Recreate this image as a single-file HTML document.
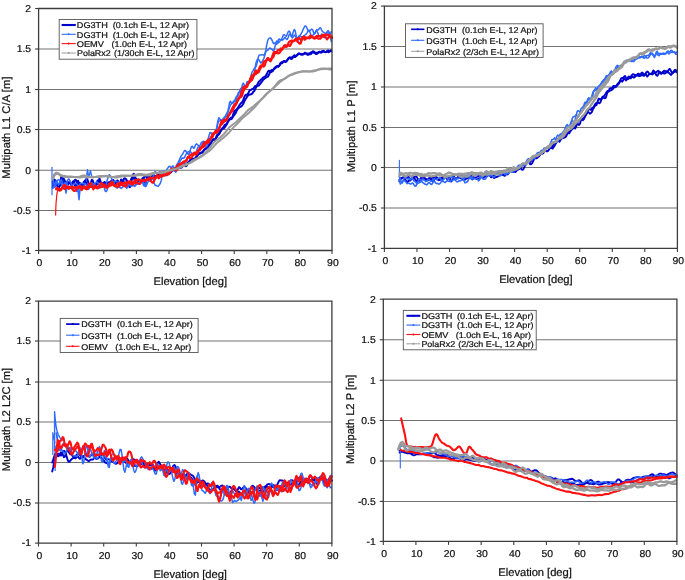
<!DOCTYPE html>
<html><head><meta charset="utf-8"><style>
html,body{margin:0;padding:0;background:#fff;}
svg{display:block;filter:blur(0.35px);font-family:"Liberation Sans", sans-serif;text-rendering:geometricPrecision;}
text{stroke:#111;stroke-width:0.22px;}
</style></head><body>
<svg width="685" height="580" viewBox="0 0 685 580">
<rect width="685" height="580" fill="#fff"/>
<line x1="38.60" y1="49.00" x2="332.00" y2="49.00" stroke="#727272" stroke-width="1.05"/>
<line x1="38.60" y1="89.50" x2="332.00" y2="89.50" stroke="#727272" stroke-width="1.05"/>
<line x1="38.60" y1="129.50" x2="332.00" y2="129.50" stroke="#727272" stroke-width="1.05"/>
<line x1="38.60" y1="170.20" x2="332.00" y2="170.20" stroke="#727272" stroke-width="1.05"/>
<line x1="38.60" y1="210.50" x2="332.00" y2="210.50" stroke="#727272" stroke-width="1.05"/>
<line x1="35.10" y1="8.50" x2="38.60" y2="8.50" stroke="#3c3c3c" stroke-width="1.1"/>
<text transform="translate(31.10,11.80) scale(1.04,1)" text-anchor="end" font-size="10.0" fill="#111">2</text>
<line x1="35.10" y1="49.00" x2="38.60" y2="49.00" stroke="#3c3c3c" stroke-width="1.1"/>
<text transform="translate(31.10,52.30) scale(1.04,1)" text-anchor="end" font-size="10.0" fill="#111">1.5</text>
<line x1="35.10" y1="89.50" x2="38.60" y2="89.50" stroke="#3c3c3c" stroke-width="1.1"/>
<text transform="translate(31.10,92.80) scale(1.04,1)" text-anchor="end" font-size="10.0" fill="#111">1</text>
<line x1="35.10" y1="129.50" x2="38.60" y2="129.50" stroke="#3c3c3c" stroke-width="1.1"/>
<text transform="translate(31.10,132.80) scale(1.04,1)" text-anchor="end" font-size="10.0" fill="#111">0.5</text>
<line x1="35.10" y1="170.20" x2="38.60" y2="170.20" stroke="#3c3c3c" stroke-width="1.1"/>
<text transform="translate(31.10,173.50) scale(1.04,1)" text-anchor="end" font-size="10.0" fill="#111">0</text>
<line x1="35.10" y1="210.50" x2="38.60" y2="210.50" stroke="#3c3c3c" stroke-width="1.1"/>
<text transform="translate(31.10,213.80) scale(1.04,1)" text-anchor="end" font-size="10.0" fill="#111">-0.5</text>
<line x1="35.10" y1="250.50" x2="38.60" y2="250.50" stroke="#3c3c3c" stroke-width="1.1"/>
<text transform="translate(31.10,253.80) scale(1.04,1)" text-anchor="end" font-size="10.0" fill="#111">-1</text>
<line x1="38.60" y1="250.50" x2="38.60" y2="254.00" stroke="#3c3c3c" stroke-width="1.1"/>
<text transform="translate(39.50,266.30) scale(1.04,1)" text-anchor="middle" font-size="10.0" fill="#111">0</text>
<line x1="71.20" y1="250.50" x2="71.20" y2="254.00" stroke="#3c3c3c" stroke-width="1.1"/>
<text transform="translate(72.10,266.30) scale(1.04,1)" text-anchor="middle" font-size="10.0" fill="#111">10</text>
<line x1="103.80" y1="250.50" x2="103.80" y2="254.00" stroke="#3c3c3c" stroke-width="1.1"/>
<text transform="translate(104.70,266.30) scale(1.04,1)" text-anchor="middle" font-size="10.0" fill="#111">20</text>
<line x1="136.40" y1="250.50" x2="136.40" y2="254.00" stroke="#3c3c3c" stroke-width="1.1"/>
<text transform="translate(137.30,266.30) scale(1.04,1)" text-anchor="middle" font-size="10.0" fill="#111">30</text>
<line x1="169.00" y1="250.50" x2="169.00" y2="254.00" stroke="#3c3c3c" stroke-width="1.1"/>
<text transform="translate(169.90,266.30) scale(1.04,1)" text-anchor="middle" font-size="10.0" fill="#111">40</text>
<line x1="201.60" y1="250.50" x2="201.60" y2="254.00" stroke="#3c3c3c" stroke-width="1.1"/>
<text transform="translate(202.50,266.30) scale(1.04,1)" text-anchor="middle" font-size="10.0" fill="#111">50</text>
<line x1="234.20" y1="250.50" x2="234.20" y2="254.00" stroke="#3c3c3c" stroke-width="1.1"/>
<text transform="translate(235.10,266.30) scale(1.04,1)" text-anchor="middle" font-size="10.0" fill="#111">60</text>
<line x1="266.80" y1="250.50" x2="266.80" y2="254.00" stroke="#3c3c3c" stroke-width="1.1"/>
<text transform="translate(267.70,266.30) scale(1.04,1)" text-anchor="middle" font-size="10.0" fill="#111">70</text>
<line x1="299.40" y1="250.50" x2="299.40" y2="254.00" stroke="#3c3c3c" stroke-width="1.1"/>
<text transform="translate(300.30,266.30) scale(1.04,1)" text-anchor="middle" font-size="10.0" fill="#111">80</text>
<line x1="332.00" y1="250.50" x2="332.00" y2="254.00" stroke="#3c3c3c" stroke-width="1.1"/>
<text transform="translate(332.90,266.30) scale(1.04,1)" text-anchor="middle" font-size="10.0" fill="#111">90</text>
<text x="190.30" y="285.00" text-anchor="middle" font-size="11.2" fill="#111" textLength="73.5" lengthAdjust="spacing">Elevation [deg]</text>
<text transform="translate(9.70,127.60) rotate(-90)" x="0" y="0" text-anchor="middle" font-size="11.2" fill="#111" textLength="102.2" lengthAdjust="spacing">Multipath L1 C/A [m]</text>
<path d="M52.6 181.7 L53.6 187.3 L54.6 186.5 L55.6 185.1 L56.5 185.0 L57.5 186.2 L58.5 188.0 L59.5 186.3 L60.4 181.3 L61.4 176.1 L62.4 179.1 L63.4 183.7 L64.4 185.5 L65.3 186.9 L66.3 187.4 L67.3 185.6 L68.3 183.7 L69.2 183.2 L70.2 182.8 L71.2 183.9 L72.2 183.2 L73.2 181.2 L74.1 183.0 L75.1 186.0 L76.1 185.6 L77.1 182.3 L78.0 180.7 L79.0 183.6 L80.0 184.6 L81.0 184.1 L82.0 185.8 L82.9 184.8 L83.9 181.8 L84.9 181.1 L85.9 182.0 L86.8 184.7 L87.8 187.5 L88.8 185.2 L89.8 186.1 L90.8 187.0 L91.7 183.5 L92.7 182.0 L93.7 184.8 L94.7 186.7 L95.6 185.3 L96.6 182.9 L97.6 180.5 L98.6 180.9 L99.6 181.9 L100.5 182.3 L101.5 184.7 L102.5 185.7 L103.5 183.1 L104.5 182.0 L105.4 183.7 L106.4 184.9 L107.4 185.9 L108.4 186.9 L109.3 183.0 L110.3 182.1 L111.3 184.7 L112.3 184.3 L113.3 183.3 L114.2 183.5 L115.2 186.4 L116.2 184.9 L117.2 180.4 L118.1 181.0 L119.1 185.8 L120.1 185.3 L121.1 182.8 L122.1 181.5 L123.0 180.6 L124.0 183.0 L125.0 183.8 L126.0 183.0 L126.9 180.6 L127.9 181.9 L128.9 185.3 L129.9 185.1 L130.9 180.0 L131.8 178.0 L132.8 178.0 L133.8 178.1 L134.8 180.3 L135.7 183.3 L136.7 184.2 L137.7 181.9 L138.7 179.7 L139.7 182.1 L140.6 182.4 L141.6 180.2 L142.6 178.1 L143.6 178.8 L144.5 182.8 L145.5 183.7 L146.5 179.1 L147.5 174.8 L148.5 174.8 L149.4 176.9 L150.4 178.1 L151.4 177.8 L152.4 177.2 L153.4 176.8 L154.3 177.1 L155.3 176.8 L156.3 176.3 L157.3 175.5 L158.2 174.2 L159.2 172.5 L160.2 172.3 L161.2 173.6 L162.2 175.5 L163.1 175.2 L164.1 174.1 L165.1 173.7 L166.1 173.7 L167.0 171.8 L168.0 171.2 L169.0 172.6 L170.0 173.1 L171.0 172.3 L171.9 170.9 L172.9 169.3 L173.9 168.5 L174.9 169.0 L175.8 169.0 L176.8 168.1 L177.8 167.0 L178.8 166.5 L179.8 166.8 L180.7 167.7 L181.7 167.5 L182.7 166.2 L183.7 164.3 L184.6 163.8 L185.6 164.2 L186.6 163.9 L187.6 163.1 L188.6 163.1 L189.5 162.3 L190.5 159.9 L191.5 158.1 L192.5 158.9 L193.4 159.8 L194.4 159.8 L195.4 158.6 L196.4 156.3 L197.4 154.8 L198.3 154.2 L199.3 153.6 L200.3 152.9 L201.3 152.7 L202.3 152.7 L203.2 151.4 L204.2 150.0 L205.2 149.4 L206.2 148.7 L207.1 147.7 L208.1 146.1 L209.1 144.6 L210.1 144.1 L211.1 143.0 L212.0 141.2 L213.0 139.6 L214.0 139.2 L215.0 139.6 L215.9 138.2 L216.9 136.8 L217.9 135.3 L218.9 133.2 L219.9 131.6 L220.8 130.7 L221.8 129.7 L222.8 128.6 L223.8 128.3 L224.7 127.5 L225.7 126.0 L226.7 124.3 L227.7 121.8 L228.7 120.0 L229.6 119.1 L230.6 119.3 L231.6 118.9 L232.6 117.3 L233.5 115.7 L234.5 114.7 L235.5 113.2 L236.5 111.1 L237.5 109.3 L238.4 108.4 L239.4 107.3 L240.4 106.8 L241.4 106.4 L242.3 105.3 L243.3 103.8 L244.3 101.4 L245.3 99.3 L246.3 98.1 L247.2 96.6 L248.2 95.1 L249.2 94.7 L250.2 94.4 L251.2 94.3 L252.1 93.6 L253.1 92.1 L254.1 91.2 L255.1 89.3 L256.0 87.4 L257.0 86.1 L258.0 85.8 L259.0 85.3 L260.0 84.0 L260.9 82.9 L261.9 81.6 L262.9 80.2 L263.9 79.1 L264.8 78.4 L265.8 77.7 L266.8 77.1 L267.8 76.6 L268.8 75.1 L269.7 73.2 L270.7 70.8 L271.7 70.1 L272.7 70.8 L273.6 69.7 L274.6 68.7 L275.6 68.0 L276.6 66.8 L277.6 66.7 L278.5 66.7 L279.5 65.3 L280.5 63.9 L281.5 63.4 L282.4 63.0 L283.4 61.5 L284.4 60.9 L285.4 61.5 L286.4 61.1 L287.3 60.1 L288.3 58.9 L289.3 57.5 L290.3 57.9 L291.2 59.0 L292.2 58.6 L293.2 56.8 L294.2 55.2 L295.2 55.7 L296.1 55.9 L297.1 55.3 L298.1 54.4 L299.1 53.6 L300.1 54.2 L301.0 54.2 L302.0 54.0 L303.0 54.2 L304.0 54.2 L304.9 53.2 L305.9 53.4 L306.9 54.3 L307.9 54.9 L308.9 54.6 L309.8 53.3 L310.8 52.4 L311.8 52.2 L312.8 52.1 L313.7 52.6 L314.7 53.0 L315.7 52.7 L316.7 52.7 L317.7 52.8 L318.6 52.1 L319.6 51.7 L320.6 52.3 L321.6 52.5 L322.5 51.4 L323.5 50.7 L324.5 51.6 L325.5 52.1 L326.5 51.6 L327.4 51.5 L328.4 52.2 L329.4 51.2 L330.4 50.5 L331.3 51.4" fill="none" stroke="#0000cc" stroke-width="2.0" stroke-linejoin="round" stroke-linecap="round" opacity="1"/>
<path d="M52.6 187.7 L53.6 183.7 L54.6 179.6 L55.6 181.4 L56.5 185.1 L57.5 184.6 L58.5 183.7 L59.5 184.4 L60.4 185.5 L61.4 183.2 L62.4 180.0 L63.4 178.3 L64.4 179.8 L65.3 182.5 L66.3 183.2 L67.3 181.4 L68.3 183.1 L69.2 182.3 L70.2 183.1 L71.2 185.1 L72.2 185.2 L73.2 183.7 L74.1 181.5 L75.1 179.8 L76.1 180.2 L77.1 183.8 L78.0 184.1 L79.0 183.0 L80.0 183.1 L81.0 185.8 L82.0 184.7 L82.9 183.7 L83.9 184.0 L84.9 181.3 L85.9 179.6 L86.8 178.9 L87.8 180.6 L88.8 184.7 L89.8 185.7 L90.8 183.1 L91.7 180.1 L92.7 180.3 L93.7 183.5 L94.7 185.4 L95.6 185.7 L96.6 185.0 L97.6 183.5 L98.6 180.6 L99.6 178.5 L100.5 181.4 L101.5 183.1 L102.5 183.3 L103.5 184.9 L104.5 184.6 L105.4 182.8 L106.4 182.7 L107.4 183.8 L108.4 182.2 L109.3 182.7 L110.3 182.5 L111.3 180.8 L112.3 179.9 L113.3 180.1 L114.2 181.7 L115.2 182.8 L116.2 183.4 L117.2 183.4 L118.1 182.2 L119.1 184.1 L120.1 183.4 L121.1 179.4 L122.1 181.0 L123.0 181.9 L124.0 178.6 L125.0 178.3 L126.0 179.0 L126.9 181.2 L127.9 183.5 L128.9 186.4 L129.9 187.1 L130.9 184.2 L131.8 179.6 L132.8 174.9 L133.8 173.7 L134.8 177.2 L135.7 178.1 L136.7 179.2 L137.7 181.1 L138.7 183.4 L139.7 184.0 L140.6 182.8 L141.6 181.6 L142.6 180.0 L143.6 178.3 L144.5 176.1 L145.5 176.5 L146.5 176.6 L147.5 175.6 L148.5 176.6 L149.4 178.5 L150.4 179.1 L151.4 177.7 L152.4 175.1 L153.4 175.8 L154.3 175.8 L155.3 175.9 L156.3 176.2 L157.3 176.3 L158.2 176.1 L159.2 174.8 L160.2 174.4 L161.2 174.2 L162.2 173.9 L163.1 173.9 L164.1 173.4 L165.1 172.6 L166.1 172.9 L167.0 173.4 L168.0 173.3 L169.0 172.9 L170.0 171.6 L171.0 171.3 L171.9 170.5 L172.9 168.6 L173.9 168.3 L174.9 169.3 L175.8 169.1 L176.8 168.0 L177.8 167.5 L178.8 167.9 L179.8 167.3 L180.7 166.1 L181.7 165.5 L182.7 164.8 L183.7 164.8 L184.6 165.6 L185.6 166.2 L186.6 165.8 L187.6 163.5 L188.6 161.6 L189.5 161.1 L190.5 159.8 L191.5 158.9 L192.5 159.1 L193.4 158.9 L194.4 158.5 L195.4 158.2 L196.4 157.3 L197.4 155.8 L198.3 154.3 L199.3 153.6 L200.3 153.4 L201.3 152.5 L202.3 152.1 L203.2 151.1 L204.2 149.7 L205.2 148.8 L206.2 148.0 L207.1 147.1 L208.1 146.7 L209.1 145.8 L210.1 144.1 L211.1 142.2 L212.0 140.7 L213.0 139.2 L214.0 139.9 L215.0 140.8 L215.9 138.2 L216.9 135.1 L217.9 134.5 L218.9 134.4 L219.9 133.0 L220.8 130.4 L221.8 128.7 L222.8 127.8 L223.8 126.5 L224.7 124.9 L225.7 124.4 L226.7 124.1 L227.7 122.2 L228.7 120.6 L229.6 119.2 L230.6 117.7 L231.6 117.5 L232.6 116.8 L233.5 113.3 L234.5 111.0 L235.5 110.5 L236.5 109.6 L237.5 108.3 L238.4 107.1 L239.4 105.2 L240.4 103.7 L241.4 102.9 L242.3 101.9 L243.3 99.9 L244.3 97.0 L245.3 95.1 L246.3 94.7 L247.2 94.5 L248.2 93.5 L249.2 91.2 L250.2 89.9 L251.2 89.8 L252.1 89.1 L253.1 89.0 L254.1 87.5 L255.1 86.1 L256.0 86.2 L257.0 85.4 L258.0 83.1 L259.0 81.5 L260.0 80.7 L260.9 79.8 L261.9 79.0 L262.9 77.7 L263.9 77.2 L264.8 76.7 L265.8 75.6 L266.8 74.1 L267.8 71.9 L268.8 70.7 L269.7 71.2 L270.7 71.9 L271.7 71.9 L272.7 70.8 L273.6 69.1 L274.6 68.0 L275.6 67.1 L276.6 66.2 L277.6 65.9 L278.5 66.3 L279.5 65.3 L280.5 63.0 L281.5 62.2 L282.4 62.0 L283.4 61.4 L284.4 61.6 L285.4 62.0 L286.4 61.6 L287.3 59.9 L288.3 58.6 L289.3 57.8 L290.3 57.5 L291.2 57.7 L292.2 57.2 L293.2 56.6 L294.2 56.9 L295.2 57.0 L296.1 56.1 L297.1 54.9 L298.1 53.8 L299.1 53.5 L300.1 54.0 L301.0 54.3 L302.0 54.8 L303.0 54.4 L304.0 53.5 L304.9 52.7 L305.9 53.2 L306.9 53.9 L307.9 53.6 L308.9 53.5 L309.8 54.0 L310.8 54.2 L311.8 53.1 L312.8 51.3 L313.7 51.5 L314.7 52.5 L315.7 53.8 L316.7 54.1 L317.7 53.2 L318.6 52.4 L319.6 52.1 L320.6 52.4 L321.6 51.5 L322.5 51.1 L323.5 51.8 L324.5 52.0 L325.5 52.3 L326.5 51.8 L327.4 50.8 L328.4 50.6 L329.4 51.5 L330.4 51.3 L331.3 50.3" fill="none" stroke="#0000cc" stroke-width="2.0" stroke-linejoin="round" stroke-linecap="round" opacity="1"/>
<path d="M52.6 188.1 L53.6 187.3 L54.6 184.6 L55.6 181.5 L56.5 180.6 L57.5 182.5 L58.5 184.6 L59.5 183.9 L60.4 180.7 L61.4 179.5 L62.4 182.3 L63.4 185.6 L64.4 184.9 L65.3 182.8 L66.3 184.1 L67.3 187.2 L68.3 188.6 L69.2 188.6 L70.2 188.2 L71.2 187.2 L72.2 185.6 L73.2 184.2 L74.1 183.9 L75.1 183.8 L76.1 183.2 L77.1 184.2 L78.0 186.8 L79.0 188.1 L80.0 188.1 L81.0 187.9 L82.0 187.4 L82.9 186.1 L83.9 185.5 L84.9 186.5 L85.9 187.9 L86.8 188.8 L87.8 189.5 L88.8 188.9 L89.8 187.0 L90.8 184.5 L91.7 182.6 L92.7 183.8 L93.7 186.6 L94.7 187.4 L95.6 186.8 L96.6 186.4 L97.6 187.4 L98.6 188.5 L99.6 187.2 L100.5 184.7 L101.5 183.7 L102.5 184.4 L103.5 185.3 L104.5 186.3 L105.4 186.2 L106.4 183.6 L107.4 179.5 L108.4 176.0 L109.3 174.7 L110.3 175.8 L111.3 178.0 L112.3 180.3 L113.3 182.1 L114.2 181.8 L115.2 181.0 L116.2 181.6 L117.2 182.2 L118.1 182.1 L119.1 182.1 L120.1 182.8 L121.1 183.0 L122.1 182.8 L123.0 183.1 L124.0 183.6 L125.0 184.6 L126.0 186.9 L126.9 188.2 L127.9 186.4 L128.9 183.9 L129.9 184.2 L130.9 185.9 L131.8 186.0 L132.8 185.4 L133.8 185.7 L134.8 185.5 L135.7 184.5 L136.7 184.2 L137.7 183.7 L138.7 182.6 L139.7 181.3 L140.6 179.5 L141.6 179.2 L142.6 182.1 L143.6 185.7 L144.5 186.2 L145.5 183.7 L146.5 181.0 L147.5 179.8 L148.5 180.2 L149.4 181.0 L150.4 180.9 L151.4 179.7 L152.4 178.0 L153.4 176.1 L154.3 173.2 L155.3 171.4 L156.3 172.7 L157.3 173.8 L158.2 172.7 L159.2 172.5 L160.2 173.3 L161.2 173.0 L162.2 173.6 L163.1 175.3 L164.1 176.1 L165.1 174.8 L166.1 171.7 L167.0 169.1 L168.0 167.8 L169.0 166.4 L170.0 166.2 L171.0 168.0 L171.9 169.4 L172.9 170.3 L173.9 170.9 L174.9 169.7 L175.8 166.7 L176.8 164.4 L177.8 163.1 L178.8 161.2 L179.8 158.8 L180.7 156.8 L181.7 155.4 L182.7 154.0 L183.7 152.0 L184.6 150.4 L185.6 150.8 L186.6 152.2 L187.6 153.6 L188.6 154.5 L189.5 152.9 L190.5 149.4 L191.5 146.6 L192.5 146.3 L193.4 148.1 L194.4 147.9 L195.4 145.0 L196.4 143.9 L197.4 144.7 L198.3 145.1 L199.3 146.9 L200.3 148.9 L201.3 147.6 L202.3 143.8 L203.2 141.2 L204.2 141.4 L205.2 142.0 L206.2 141.7 L207.1 141.0 L208.1 139.0 L209.1 135.3 L210.1 132.4 L211.1 132.8 L212.0 135.1 L213.0 135.5 L214.0 134.0 L215.0 133.1 L215.9 132.1 L216.9 128.4 L217.9 123.1 L218.9 120.9 L219.9 120.8 L220.8 119.7 L221.8 120.5 L222.8 123.0 L223.8 122.3 L224.7 118.4 L225.7 115.1 L226.7 113.4 L227.7 111.6 L228.7 107.3 L229.6 102.4 L230.6 101.4 L231.6 103.4 L232.6 103.1 L233.5 101.1 L234.5 101.6 L235.5 101.8 L236.5 98.9 L237.5 95.0 L238.4 92.6 L239.4 92.4 L240.4 92.0 L241.4 89.1 L242.3 85.1 L243.3 83.1 L244.3 84.8 L245.3 86.5 L246.3 84.5 L247.2 81.5 L248.2 82.0 L249.2 82.9 L250.2 79.9 L251.2 75.0 L252.1 71.9 L253.1 70.6 L254.1 68.8 L255.1 67.6 L256.0 66.8 L257.0 63.5 L258.0 58.2 L259.0 55.2 L260.0 54.9 L260.9 55.0 L261.9 54.6 L262.9 54.9 L263.9 55.2 L264.8 54.0 L265.8 50.2 L266.8 44.7 L267.8 40.2 L268.8 38.7 L269.7 38.0 L270.7 38.0 L271.7 39.5 L272.7 41.9 L273.6 43.6 L274.6 42.9 L275.6 43.0 L276.6 44.4 L277.6 42.9 L278.5 39.5 L279.5 39.0 L280.5 40.1 L281.5 39.5 L282.4 37.2 L283.4 34.9 L284.4 34.6 L285.4 35.9 L286.4 36.2 L287.3 34.0 L288.3 31.5 L289.3 31.1 L290.3 32.9 L291.2 35.9 L292.2 38.0 L293.2 37.0 L294.2 35.1 L295.2 35.7 L296.1 38.1 L297.1 38.9 L298.1 37.3 L299.1 35.9 L300.1 35.2 L301.0 34.0 L302.0 32.1 L303.0 29.8 L304.0 27.6 L304.9 26.1 L305.9 26.1 L306.9 28.0 L307.9 30.4 L308.9 31.1 L309.8 30.7 L310.8 30.0 L311.8 29.1 L312.8 30.0 L313.7 33.0 L314.7 33.7 L315.7 31.2 L316.7 29.6 L317.7 30.1 L318.6 29.7 L319.6 27.9 L320.6 27.8 L321.6 30.0 L322.5 31.7 L323.5 32.2 L324.5 32.9 L325.5 33.6 L326.5 32.8 L327.4 31.0 L328.4 30.8 L329.4 32.9 L330.4 37.1 L331.3 41.5" fill="none" stroke="#2f6bff" stroke-width="1.5" stroke-linejoin="round" stroke-linecap="round" opacity="1"/>
<path d="M52.6 178.7 L53.6 182.5 L54.6 186.7 L55.6 186.2 L56.5 182.6 L57.5 180.2 L58.5 179.8 L59.5 180.4 L60.4 181.9 L61.4 183.9 L62.4 186.5 L63.4 188.7 L64.4 188.7 L65.3 187.0 L66.3 184.5 L67.3 181.3 L68.3 179.0 L69.2 179.2 L70.2 181.2 L71.2 183.8 L72.2 186.8 L73.2 188.1 L74.1 187.9 L75.1 188.9 L76.1 191.3 L77.1 191.5 L78.0 189.1 L79.0 186.3 L80.0 184.0 L81.0 183.2 L82.0 183.5 L82.9 183.5 L83.9 183.3 L84.9 183.6 L85.9 184.4 L86.8 186.1 L87.8 187.3 L88.8 187.0 L89.8 186.1 L90.8 185.7 L91.7 184.7 L92.7 183.6 L93.7 184.0 L94.7 184.3 L95.6 182.8 L96.6 181.7 L97.6 182.6 L98.6 184.3 L99.6 186.3 L100.5 186.8 L101.5 185.0 L102.5 184.0 L103.5 185.6 L104.5 188.8 L105.4 191.5 L106.4 191.6 L107.4 189.0 L108.4 186.5 L109.3 185.3 L110.3 184.1 L111.3 183.0 L112.3 182.6 L113.3 182.4 L114.2 183.3 L115.2 185.6 L116.2 187.5 L117.2 188.1 L118.1 187.1 L119.1 186.6 L120.1 187.7 L121.1 188.4 L122.1 187.7 L123.0 186.8 L124.0 186.6 L125.0 186.5 L126.0 186.6 L126.9 187.0 L127.9 186.5 L128.9 185.1 L129.9 184.8 L130.9 185.7 L131.8 185.2 L132.8 184.4 L133.8 185.5 L134.8 186.4 L135.7 185.2 L136.7 183.6 L137.7 183.2 L138.7 183.3 L139.7 182.1 L140.6 180.5 L141.6 180.4 L142.6 181.3 L143.6 182.3 L144.5 184.7 L145.5 186.6 L146.5 185.6 L147.5 183.0 L148.5 180.7 L149.4 178.9 L150.4 177.9 L151.4 177.6 L152.4 177.6 L153.4 179.4 L154.3 183.4 L155.3 185.6 L156.3 185.5 L157.3 186.1 L158.2 186.4 L159.2 185.0 L160.2 183.5 L161.2 180.7 L162.2 175.4 L163.1 171.0 L164.1 170.8 L165.1 173.1 L166.1 175.1 L167.0 175.6 L168.0 174.8 L169.0 173.4 L170.0 171.7 L171.0 169.5 L171.9 166.9 L172.9 165.7 L173.9 167.8 L174.9 171.5 L175.8 172.2 L176.8 169.5 L177.8 166.4 L178.8 164.0 L179.8 162.0 L180.7 160.2 L181.7 158.5 L182.7 158.0 L183.7 158.2 L184.6 157.4 L185.6 155.1 L186.6 153.4 L187.6 152.4 L188.6 151.6 L189.5 151.3 L190.5 151.8 L191.5 152.7 L192.5 153.6 L193.4 154.4 L194.4 154.1 L195.4 152.9 L196.4 151.3 L197.4 148.9 L198.3 146.7 L199.3 146.3 L200.3 144.8 L201.3 142.5 L202.3 142.0 L203.2 142.0 L204.2 142.4 L205.2 144.7 L206.2 146.8 L207.1 146.0 L208.1 143.1 L209.1 141.7 L210.1 141.4 L211.1 139.4 L212.0 136.0 L213.0 133.4 L214.0 132.8 L215.0 133.0 L215.9 131.2 L216.9 126.5 L217.9 120.7 L218.9 117.7 L219.9 118.9 L220.8 120.5 L221.8 120.2 L222.8 118.9 L223.8 117.6 L224.7 116.9 L225.7 117.0 L226.7 116.2 L227.7 113.5 L228.7 110.1 L229.6 107.2 L230.6 104.8 L231.6 103.7 L232.6 103.1 L233.5 102.5 L234.5 101.3 L235.5 98.4 L236.5 96.2 L237.5 96.2 L238.4 95.0 L239.4 91.8 L240.4 89.1 L241.4 88.1 L242.3 87.3 L243.3 86.5 L244.3 86.9 L245.3 87.3 L246.3 86.3 L247.2 84.9 L248.2 83.4 L249.2 81.0 L250.2 78.8 L251.2 78.1 L252.1 78.8 L253.1 78.3 L254.1 74.3 L255.1 68.0 L256.0 62.8 L257.0 60.0 L258.0 59.1 L259.0 59.8 L260.0 61.8 L260.9 63.1 L261.9 62.0 L262.9 60.1 L263.9 58.3 L264.8 55.2 L265.8 51.7 L266.8 50.5 L267.8 50.2 L268.8 48.8 L269.7 48.0 L270.7 48.4 L271.7 49.0 L272.7 50.3 L273.6 51.0 L274.6 48.3 L275.6 43.6 L276.6 40.9 L277.6 41.4 L278.5 42.7 L279.5 42.0 L280.5 40.0 L281.5 39.4 L282.4 40.2 L283.4 39.7 L284.4 37.8 L285.4 37.6 L286.4 39.1 L287.3 39.5 L288.3 37.2 L289.3 34.2 L290.3 34.3 L291.2 36.5 L292.2 36.0 L293.2 32.2 L294.2 29.6 L295.2 30.8 L296.1 35.3 L297.1 39.7 L298.1 40.3 L299.1 37.9 L300.1 36.4 L301.0 36.4 L302.0 37.0 L303.0 36.7 L304.0 35.7 L304.9 35.2 L305.9 34.5 L306.9 33.1 L307.9 31.3 L308.9 30.1 L309.8 31.6 L310.8 34.8 L311.8 36.1 L312.8 35.3 L313.7 34.3 L314.7 33.5 L315.7 31.9 L316.7 31.1 L317.7 32.6 L318.6 35.1 L319.6 36.4 L320.6 35.7 L321.6 34.1 L322.5 34.5 L323.5 36.8 L324.5 37.7 L325.5 36.3 L326.5 33.9 L327.4 32.3 L328.4 32.9 L329.4 34.3 L330.4 33.7 L331.3 31.6" fill="none" stroke="#2f6bff" stroke-width="1.5" stroke-linejoin="round" stroke-linecap="round" opacity="1"/>
<path d="M52.0 167.4 L52.0 194.8" fill="none" stroke="#2f6bff" stroke-width="1.2" stroke-linejoin="round" stroke-linecap="round"/>
<path d="M77.7 186.0 L79.0 199.7 L80.3 186.0" fill="none" stroke="#2f6bff" stroke-width="1.6" stroke-linejoin="round" stroke-linecap="round"/>
<path d="M86.2 179.5 L87.5 169.8 L88.8 177.9 L90.4 170.6 L92.1 177.9" fill="none" stroke="#2f6bff" stroke-width="1.4" stroke-linejoin="round" stroke-linecap="round"/>
<path d="M64.4 183.5 L66.0 193.2 L67.6 184.4" fill="none" stroke="#2f6bff" stroke-width="1.4" stroke-linejoin="round" stroke-linecap="round"/>
<path d="M56.2 188.1 L57.2 188.3 L58.2 189.3 L59.1 190.4 L60.1 190.6 L61.1 190.1 L62.1 188.2 L63.0 187.2 L64.0 188.4 L65.0 189.0 L66.0 187.9 L67.0 187.4 L67.9 188.2 L68.9 188.7 L69.9 187.7 L70.9 187.3 L71.9 188.6 L72.8 189.8 L73.8 190.8 L74.8 191.0 L75.8 190.2 L76.7 188.9 L77.7 187.8 L78.7 186.4 L79.7 186.2 L80.7 188.2 L81.6 190.1 L82.6 188.9 L83.6 187.1 L84.6 187.4 L85.5 188.8 L86.5 189.2 L87.5 188.9 L88.5 187.8 L89.5 186.7 L90.4 187.0 L91.4 186.8 L92.4 186.4 L93.4 187.1 L94.3 187.4 L95.3 187.2 L96.3 187.9 L97.3 188.4 L98.3 187.1 L99.2 186.5 L100.2 187.4 L101.2 187.0 L102.2 186.8 L103.1 186.1 L104.1 184.5 L105.1 185.6 L106.1 187.8 L107.1 187.5 L108.0 186.5 L109.0 186.2 L110.0 185.8 L111.0 185.4 L111.9 184.3 L112.9 184.1 L113.9 185.5 L114.9 186.1 L115.9 186.1 L116.8 186.5 L117.8 187.1 L118.8 186.5 L119.8 184.5 L120.8 182.5 L121.7 183.0 L122.7 185.3 L123.7 185.8 L124.7 185.6 L125.6 186.6 L126.6 185.9 L127.6 183.4 L128.6 181.6 L129.6 182.0 L130.5 183.7 L131.5 184.2 L132.5 183.0 L133.5 181.8 L134.4 182.6 L135.4 183.0 L136.4 182.5 L137.4 182.7 L138.4 183.5 L139.3 184.0 L140.3 183.2 L141.3 181.7 L142.3 180.0 L143.2 179.8 L144.2 180.4 L145.2 180.4 L146.2 180.0 L147.2 179.2 L148.1 179.0 L149.1 179.6 L150.1 180.4 L151.1 181.0 L152.0 182.4 L153.0 182.8 L154.0 181.0 L155.0 179.1 L156.0 176.5 L156.9 175.2 L157.9 177.2 L158.9 178.3 L159.9 177.1 L160.8 176.2 L161.8 176.3 L162.8 175.7 L163.8 174.6 L164.8 174.6 L165.7 175.3 L166.7 174.9 L167.7 174.3 L168.7 174.1 L169.7 173.2 L170.6 171.9 L171.6 170.2 L172.6 169.4 L173.6 169.5 L174.5 169.7 L175.5 170.0 L176.5 170.4 L177.5 169.1 L178.5 167.5 L179.4 166.8 L180.4 165.6 L181.4 164.8 L182.4 163.5 L183.3 162.4 L184.3 161.4 L185.3 161.4 L186.3 161.1 L187.3 158.4 L188.2 156.8 L189.2 157.5 L190.2 158.1 L191.2 157.8 L192.1 156.6 L193.1 154.9 L194.1 154.5 L195.1 154.5 L196.1 154.4 L197.0 154.0 L198.0 152.3 L199.0 149.7 L200.0 148.0 L200.9 147.2 L201.9 147.3 L202.9 147.4 L203.9 146.7 L204.9 145.3 L205.8 143.9 L206.8 143.1 L207.8 142.8 L208.8 142.3 L209.7 139.9 L210.7 137.3 L211.7 137.3 L212.7 136.8 L213.7 134.2 L214.6 132.7 L215.6 133.1 L216.6 132.8 L217.6 131.9 L218.6 130.4 L219.5 127.3 L220.5 125.2 L221.5 124.4 L222.5 123.4 L223.4 122.1 L224.4 121.2 L225.4 120.9 L226.4 120.5 L227.4 118.5 L228.3 115.6 L229.3 114.1 L230.3 113.0 L231.3 111.9 L232.2 111.0 L233.2 109.2 L234.2 107.0 L235.2 105.7 L236.2 104.2 L237.1 101.6 L238.1 98.8 L239.1 97.3 L240.1 97.0 L241.0 97.2 L242.0 95.7 L243.0 92.2 L244.0 89.8 L245.0 88.8 L245.9 87.2 L246.9 85.2 L247.9 83.6 L248.9 82.8 L249.8 82.0 L250.8 80.9 L251.8 80.2 L252.8 78.1 L253.8 75.5 L254.7 72.8 L255.7 70.5 L256.7 70.7 L257.7 72.7 L258.6 72.3 L259.6 69.8 L260.6 68.1 L261.6 66.3 L262.6 65.5 L263.5 66.6 L264.5 66.0 L265.5 62.8 L266.5 60.5 L267.5 59.6 L268.4 59.4 L269.4 59.9 L270.4 59.7 L271.4 58.6 L272.3 58.1 L273.3 57.0 L274.3 54.5 L275.3 52.8 L276.3 52.6 L277.2 53.2 L278.2 53.4 L279.2 53.0 L280.2 51.9 L281.1 50.5 L282.1 49.5 L283.1 47.9 L284.1 45.8 L285.1 45.2 L286.0 45.9 L287.0 45.5 L288.0 45.0 L289.0 45.6 L289.9 45.9 L290.9 44.4 L291.9 42.3 L292.9 41.5 L293.9 41.1 L294.8 39.9 L295.8 38.9 L296.8 40.1 L297.8 42.0 L298.7 42.6 L299.7 43.6 L300.7 43.4 L301.7 39.9 L302.7 37.0 L303.6 37.8 L304.6 39.7 L305.6 39.3 L306.6 37.6 L307.5 37.5 L308.5 38.2 L309.5 38.3 L310.5 37.8 L311.5 36.9 L312.4 37.0 L313.4 38.0 L314.4 38.7 L315.4 38.3 L316.4 37.7 L317.3 37.7 L318.3 38.6 L319.3 38.7 L320.3 38.6 L321.2 37.7 L322.2 35.3 L323.2 34.7 L324.2 35.8 L325.2 36.3 L326.1 37.8 L327.1 39.3 L328.1 38.0 L329.1 36.6 L330.0 36.8 L331.0 37.5 L332.0 37.4" fill="none" stroke="#ff1010" stroke-width="2.2" stroke-linejoin="round" stroke-linecap="round" opacity="1"/>
<path d="M56.2 189.3 L57.2 188.9 L58.2 188.4 L59.1 188.7 L60.1 189.4 L61.1 188.9 L62.1 187.7 L63.0 186.2 L64.0 185.1 L65.0 185.2 L66.0 186.3 L67.0 187.1 L67.9 186.6 L68.9 186.6 L69.9 187.6 L70.9 187.6 L71.9 186.8 L72.8 186.7 L73.8 187.7 L74.8 187.8 L75.8 187.0 L76.7 187.5 L77.7 188.2 L78.7 187.3 L79.7 186.7 L80.7 186.7 L81.6 186.6 L82.6 187.0 L83.6 187.1 L84.6 186.4 L85.5 187.9 L86.5 189.1 L87.5 187.0 L88.5 184.8 L89.5 184.2 L90.4 183.1 L91.4 183.7 L92.4 187.1 L93.4 189.3 L94.3 187.7 L95.3 185.5 L96.3 186.3 L97.3 187.9 L98.3 187.5 L99.2 185.8 L100.2 184.2 L101.2 183.1 L102.2 183.6 L103.1 185.4 L104.1 186.4 L105.1 186.7 L106.1 186.8 L107.1 187.3 L108.0 186.1 L109.0 183.8 L110.0 183.4 L111.0 182.7 L111.9 181.7 L112.9 182.9 L113.9 184.9 L114.9 185.8 L115.9 185.4 L116.8 184.3 L117.8 183.4 L118.8 182.9 L119.8 184.1 L120.8 185.1 L121.7 184.7 L122.7 183.6 L123.7 182.8 L124.7 182.7 L125.6 183.4 L126.6 182.7 L127.6 181.7 L128.6 182.2 L129.6 181.8 L130.5 181.1 L131.5 182.3 L132.5 184.6 L133.5 184.2 L134.4 181.1 L135.4 179.8 L136.4 180.3 L137.4 180.3 L138.4 179.3 L139.3 179.5 L140.3 180.8 L141.3 181.2 L142.3 180.6 L143.2 180.4 L144.2 180.9 L145.2 181.3 L146.2 180.4 L147.2 179.6 L148.1 179.4 L149.1 178.3 L150.1 177.4 L151.1 178.0 L152.0 178.5 L153.0 177.9 L154.0 177.5 L155.0 178.3 L156.0 178.1 L156.9 177.1 L157.9 176.4 L158.9 176.2 L159.9 175.2 L160.8 173.4 L161.8 174.2 L162.8 175.9 L163.8 175.5 L164.8 173.8 L165.7 173.2 L166.7 173.4 L167.7 173.2 L168.7 173.4 L169.7 172.4 L170.6 169.8 L171.6 168.5 L172.6 169.1 L173.6 169.1 L174.5 168.5 L175.5 168.5 L176.5 167.5 L177.5 165.8 L178.5 164.5 L179.4 164.1 L180.4 163.8 L181.4 163.3 L182.4 162.8 L183.3 161.8 L184.3 161.7 L185.3 161.4 L186.3 160.1 L187.3 158.4 L188.2 157.1 L189.2 156.3 L190.2 155.0 L191.2 154.3 L192.1 154.6 L193.1 154.1 L194.1 152.6 L195.1 152.6 L196.1 153.5 L197.0 152.4 L198.0 150.8 L199.0 150.4 L200.0 150.1 L200.9 148.9 L201.9 146.6 L202.9 144.7 L203.9 143.3 L204.9 142.3 L205.8 142.3 L206.8 141.3 L207.8 139.9 L208.8 140.0 L209.7 139.7 L210.7 138.8 L211.7 136.2 L212.7 133.6 L213.7 133.4 L214.6 132.6 L215.6 130.8 L216.6 130.5 L217.6 130.2 L218.6 129.1 L219.5 127.5 L220.5 124.1 L221.5 121.3 L222.5 120.5 L223.4 120.2 L224.4 119.6 L225.4 119.7 L226.4 120.1 L227.4 118.0 L228.3 115.9 L229.3 114.8 L230.3 112.4 L231.3 110.2 L232.2 108.5 L233.2 106.6 L234.2 104.7 L235.2 103.9 L236.2 103.4 L237.1 102.0 L238.1 100.1 L239.1 98.5 L240.1 96.5 L241.0 93.5 L242.0 90.5 L243.0 88.2 L244.0 86.6 L245.0 86.5 L245.9 87.3 L246.9 86.9 L247.9 84.9 L248.9 82.4 L249.8 80.1 L250.8 77.5 L251.8 75.8 L252.8 75.2 L253.8 74.3 L254.7 74.2 L255.7 74.3 L256.7 73.3 L257.7 71.8 L258.6 70.1 L259.6 67.2 L260.6 65.5 L261.6 65.7 L262.6 64.5 L263.5 62.1 L264.5 61.1 L265.5 60.8 L266.5 59.6 L267.5 58.1 L268.4 58.2 L269.4 60.0 L270.4 61.3 L271.4 59.8 L272.3 56.2 L273.3 53.4 L274.3 51.8 L275.3 52.1 L276.3 52.6 L277.2 51.2 L278.2 50.0 L279.2 50.2 L280.2 49.3 L281.1 48.3 L282.1 49.1 L283.1 48.4 L284.1 46.2 L285.1 45.9 L286.0 47.0 L287.0 46.5 L288.0 44.0 L289.0 41.9 L289.9 41.3 L290.9 40.9 L291.9 40.5 L292.9 41.0 L293.9 40.8 L294.8 40.0 L295.8 40.5 L296.8 40.3 L297.8 38.7 L298.7 37.9 L299.7 38.7 L300.7 39.8 L301.7 39.8 L302.7 38.1 L303.6 36.7 L304.6 36.8 L305.6 37.6 L306.6 37.9 L307.5 38.1 L308.5 37.7 L309.5 36.4 L310.5 35.5 L311.5 36.0 L312.4 36.8 L313.4 37.5 L314.4 37.7 L315.4 37.2 L316.4 36.3 L317.3 35.8 L318.3 36.2 L319.3 36.2 L320.3 36.4 L321.2 36.5 L322.2 36.7 L323.2 36.7 L324.2 35.9 L325.2 34.8 L326.1 34.4 L327.1 34.7 L328.1 35.3 L329.1 35.1 L330.0 35.1 L331.0 36.8 L332.0 37.9" fill="none" stroke="#ff1010" stroke-width="2.2" stroke-linejoin="round" stroke-linecap="round" opacity="1"/>
<path d="M58.2 188.4 L56.9 194.0 L56.0 203.7 L55.6 215.0" fill="none" stroke="#ff1010" stroke-width="1.2" stroke-linejoin="round" stroke-linecap="round"/>
<path d="M52.6 177.2 L53.6 175.4 L54.6 173.9 L55.6 173.0 L56.5 172.6 L57.5 172.9 L58.5 173.4 L59.5 174.1 L60.4 174.7 L61.4 175.2 L62.4 175.4 L63.4 175.7 L64.4 175.9 L65.3 176.1 L66.3 176.3 L67.3 176.4 L68.3 176.5 L69.2 176.6 L70.2 176.6 L71.2 176.6 L72.2 176.7 L73.2 176.8 L74.1 176.9 L75.1 177.1 L76.1 177.2 L77.1 177.3 L78.0 177.1 L79.0 176.8 L80.0 176.5 L81.0 176.1 L82.0 175.8 L82.9 175.6 L83.9 175.5 L84.9 175.6 L85.9 175.8 L86.8 176.1 L87.8 176.4 L88.8 176.7 L89.8 177.0 L90.8 177.2 L91.7 177.3 L92.7 177.3 L93.7 177.2 L94.7 177.1 L95.6 176.9 L96.6 176.6 L97.6 176.4 L98.6 176.2 L99.6 176.1 L100.5 176.0 L101.5 176.0 L102.5 176.0 L103.5 176.1 L104.5 176.2 L105.4 176.3 L106.4 176.4 L107.4 176.5 L108.4 176.6 L109.3 176.8 L110.3 176.8 L111.3 176.9 L112.3 176.9 L113.3 176.9 L114.2 176.8 L115.2 176.6 L116.2 176.5 L117.2 176.3 L118.1 176.1 L119.1 175.9 L120.1 175.8 L121.1 175.6 L122.1 175.5 L123.0 175.4 L124.0 175.4 L125.0 175.4 L126.0 175.5 L126.9 175.6 L127.9 175.6 L128.9 175.7 L129.9 175.7 L130.9 175.7 L131.8 175.6 L132.8 175.4 L133.8 175.3 L134.8 175.0 L135.7 174.8 L136.7 174.5 L137.7 174.3 L138.7 174.1 L139.7 174.0 L140.6 173.9 L141.6 174.0 L142.6 174.2 L143.6 174.4 L144.5 174.6 L145.5 174.7 L146.5 174.7 L147.5 174.7 L148.5 174.4 L149.4 174.1 L150.4 173.8 L151.4 173.4 L152.4 173.1 L153.4 172.9 L154.3 172.8 L155.3 172.8 L156.3 172.8 L157.3 172.8 L158.2 172.7 L159.2 172.6 L160.2 172.4 L161.2 172.2 L162.2 171.9 L163.1 171.7 L164.1 171.5 L165.1 171.4 L166.1 171.2 L167.0 171.0 L168.0 170.8 L169.0 170.6 L170.0 170.4 L171.0 170.2 L171.9 169.9 L172.9 169.6 L173.9 169.3 L174.9 169.0 L175.8 168.8 L176.8 168.5 L177.8 168.1 L178.8 167.8 L179.8 167.4 L180.7 167.0 L181.7 166.6 L182.7 166.3 L183.7 165.9 L184.6 165.6 L185.6 165.3 L186.6 164.8 L187.6 164.3 L188.6 163.7 L189.5 163.0 L190.5 162.2 L191.5 161.5 L192.5 160.8 L193.4 160.2 L194.4 159.7 L195.4 159.1 L196.4 158.6 L197.4 158.1 L198.3 157.6 L199.3 157.1 L200.3 156.5 L201.3 155.9 L202.3 155.2 L203.2 154.5 L204.2 153.7 L205.2 152.9 L206.2 152.0 L207.1 151.0 L208.1 149.9 L209.1 148.7 L210.1 147.5 L211.1 146.1 L212.0 144.8 L213.0 143.6 L214.0 142.4 L215.0 141.5 L215.9 140.6 L216.9 139.9 L217.9 139.2 L218.9 138.4 L219.9 137.7 L220.8 136.9 L221.8 136.0 L222.8 135.1 L223.8 134.1 L224.7 133.0 L225.7 131.8 L226.7 130.6 L227.7 129.4 L228.7 128.2 L229.6 127.2 L230.6 126.2 L231.6 125.4 L232.6 124.7 L233.5 124.0 L234.5 123.3 L235.5 122.5 L236.5 121.7 L237.5 120.8 L238.4 119.8 L239.4 118.9 L240.4 118.0 L241.4 117.1 L242.3 116.2 L243.3 115.2 L244.3 114.2 L245.3 113.1 L246.3 112.0 L247.2 111.0 L248.2 110.1 L249.2 109.3 L250.2 108.6 L251.2 107.9 L252.1 107.2 L253.1 106.5 L254.1 105.7 L255.1 104.8 L256.0 104.0 L257.0 103.1 L258.0 102.3 L259.0 101.5 L260.0 100.7 L260.9 99.9 L261.9 99.0 L262.9 98.1 L263.9 97.1 L264.8 96.0 L265.8 95.0 L266.8 93.9 L267.8 92.9 L268.8 92.0 L269.7 91.2 L270.7 90.4 L271.7 89.6 L272.7 88.8 L273.6 88.0 L274.6 87.1 L275.6 86.1 L276.6 85.2 L277.6 84.2 L278.5 83.4 L279.5 82.5 L280.5 81.8 L281.5 81.0 L282.4 80.3 L283.4 79.5 L284.4 78.8 L285.4 78.1 L286.4 77.4 L287.3 76.7 L288.3 76.1 L289.3 75.5 L290.3 75.0 L291.2 74.6 L292.2 74.2 L293.2 73.8 L294.2 73.4 L295.2 73.0 L296.1 72.7 L297.1 72.4 L298.1 72.2 L299.1 71.9 L300.1 71.8 L301.0 71.7 L302.0 71.6 L303.0 71.5 L304.0 71.4 L304.9 71.4 L305.9 71.4 L306.9 71.5 L307.9 71.5 L308.9 71.5 L309.8 71.5 L310.8 71.3 L311.8 71.1 L312.8 70.8 L313.7 70.6 L314.7 70.4 L315.7 70.2 L316.7 70.0 L317.7 69.8 L318.6 69.6 L319.6 69.5 L320.6 69.3 L321.6 69.2 L322.5 69.1 L323.5 69.1 L324.5 69.0 L325.5 68.9 L326.5 68.8 L327.4 68.7 L328.4 68.6 L329.4 68.5 L330.4 68.4 L331.3 68.4" fill="none" stroke="#9a9a9a" stroke-width="2.0" stroke-linejoin="round" stroke-linecap="round" opacity="1"/>
<path d="M52.6 179.2 L53.6 177.3 L54.6 175.6 L55.6 174.4 L56.5 173.8 L57.5 173.9 L58.5 174.3 L59.5 175.0 L60.4 175.6 L61.4 176.0 L62.4 176.3 L63.4 176.5 L64.4 176.7 L65.3 176.9 L66.3 177.0 L67.3 177.1 L68.3 177.1 L69.2 177.1 L70.2 177.1 L71.2 177.0 L72.2 177.0 L73.2 176.9 L74.1 176.9 L75.1 176.9 L76.1 177.0 L77.1 177.1 L78.0 177.3 L79.0 177.4 L80.0 177.5 L81.0 177.4 L82.0 177.2 L82.9 177.0 L83.9 176.8 L84.9 176.7 L85.9 176.6 L86.8 176.7 L87.8 176.8 L88.8 176.9 L89.8 177.0 L90.8 177.0 L91.7 177.1 L92.7 177.1 L93.7 177.1 L94.7 177.1 L95.6 177.1 L96.6 177.1 L97.6 177.0 L98.6 176.9 L99.6 176.9 L100.5 176.8 L101.5 176.7 L102.5 176.6 L103.5 176.4 L104.5 176.2 L105.4 176.1 L106.4 176.1 L107.4 176.1 L108.4 176.2 L109.3 176.4 L110.3 176.6 L111.3 176.8 L112.3 177.0 L113.3 177.2 L114.2 177.4 L115.2 177.5 L116.2 177.5 L117.2 177.5 L118.1 177.3 L119.1 177.1 L120.1 176.8 L121.1 176.6 L122.1 176.5 L123.0 176.4 L124.0 176.4 L125.0 176.3 L126.0 176.2 L126.9 176.1 L127.9 176.0 L128.9 175.8 L129.9 175.8 L130.9 175.7 L131.8 175.8 L132.8 175.8 L133.8 175.8 L134.8 175.8 L135.7 175.7 L136.7 175.6 L137.7 175.5 L138.7 175.3 L139.7 175.3 L140.6 175.2 L141.6 175.3 L142.6 175.3 L143.6 175.4 L144.5 175.5 L145.5 175.6 L146.5 175.6 L147.5 175.6 L148.5 175.5 L149.4 175.3 L150.4 175.0 L151.4 174.5 L152.4 174.0 L153.4 173.5 L154.3 173.2 L155.3 172.9 L156.3 172.8 L157.3 172.8 L158.2 172.9 L159.2 173.0 L160.2 173.1 L161.2 173.1 L162.2 173.0 L163.1 172.8 L164.1 172.5 L165.1 172.2 L166.1 171.8 L167.0 171.5 L168.0 171.2 L169.0 170.9 L170.0 169.9 L171.0 169.7 L171.9 169.5 L172.9 169.4 L173.9 169.2 L174.9 169.1 L175.8 168.9 L176.8 168.6 L177.8 168.2 L178.8 167.7 L179.8 167.2 L180.7 166.6 L181.7 166.0 L182.7 165.5 L183.7 165.0 L184.6 164.6 L185.6 164.2 L186.6 163.9 L187.6 163.7 L188.6 163.4 L189.5 163.1 L190.5 162.8 L191.5 162.3 L192.5 161.8 L193.4 161.2 L194.4 160.6 L195.4 159.9 L196.4 159.3 L197.4 158.8 L198.3 158.3 L199.3 157.8 L200.3 157.2 L201.3 156.7 L202.3 156.0 L203.2 155.3 L204.2 154.6 L205.2 153.9 L206.2 153.2 L207.1 152.5 L208.1 151.8 L209.1 151.1 L210.1 150.3 L211.1 149.4 L212.0 148.4 L213.0 147.3 L214.0 146.2 L215.0 145.1 L215.9 144.0 L216.9 143.1 L217.9 142.2 L218.9 141.4 L219.9 140.6 L220.8 139.8 L221.8 139.0 L222.8 138.2 L223.8 137.4 L224.7 136.6 L225.7 135.7 L226.7 134.8 L227.7 133.8 L228.7 132.8 L229.6 131.8 L230.6 130.7 L231.6 129.6 L232.6 128.5 L233.5 127.4 L234.5 126.4 L235.5 125.4 L236.5 124.5 L237.5 123.5 L238.4 122.5 L239.4 121.5 L240.4 120.4 L241.4 119.3 L242.3 118.4 L243.3 117.4 L244.3 116.6 L245.3 115.8 L246.3 115.0 L247.2 114.2 L248.2 113.4 L249.2 112.5 L250.2 111.5 L251.2 110.6 L252.1 109.7 L253.1 108.8 L254.1 107.9 L255.1 106.9 L256.0 105.7 L257.0 104.5 L258.0 103.3 L259.0 102.1 L260.0 101.0 L260.9 99.9 L261.9 98.8 L262.9 97.7 L263.9 96.6 L264.8 95.5 L265.8 94.5 L266.8 93.5 L267.8 92.7 L268.8 91.9 L269.7 91.1 L270.7 90.3 L271.7 89.5 L272.7 88.6 L273.6 87.6 L274.6 86.4 L275.6 85.2 L276.6 84.0 L277.6 82.8 L278.5 81.7 L279.5 80.9 L280.5 80.3 L281.5 79.9 L282.4 79.6 L283.4 79.2 L284.4 78.8 L285.4 78.3 L286.4 77.7 L287.3 77.0 L288.3 76.3 L289.3 75.7 L290.3 75.2 L291.2 74.8 L292.2 74.5 L293.2 74.2 L294.2 73.8 L295.2 73.5 L296.1 73.1 L297.1 72.8 L298.1 72.5 L299.1 72.2 L300.1 72.0 L301.0 71.7 L302.0 71.5 L303.0 71.3 L304.0 71.2 L304.9 71.2 L305.9 71.2 L306.9 71.3 L307.9 71.4 L308.9 71.4 L309.8 71.5 L310.8 71.5 L311.8 71.5 L312.8 71.5 L313.7 71.4 L314.7 71.1 L315.7 70.8 L316.7 70.4 L317.7 69.9 L318.6 69.4 L319.6 69.0 L320.6 68.7 L321.6 68.5 L322.5 68.4 L323.5 68.4 L324.5 68.5 L325.5 68.6 L326.5 68.8 L327.4 69.0 L328.4 69.2 L329.4 69.4 L330.4 69.5 L331.3 69.5" fill="none" stroke="#9a9a9a" stroke-width="2.0" stroke-linejoin="round" stroke-linecap="round" opacity="1"/>
<path d="M38.60 250.50 L38.60 8.50 L332.00 8.50 L332.00 250.50 Z" fill="none" stroke="#3c3c3c" stroke-width="1.3"/>
<rect x="59.20" y="19.50" width="137.70" height="39.70" fill="#fff" stroke="#555" stroke-width="0.9"/>
<line x1="61.60" y1="25.00" x2="75.80" y2="25.00" stroke="#0000cc" stroke-width="2.1"/>
<circle cx="68.70" cy="25.00" r="1.0" fill="#0000cc"/>
<text x="76.80" y="28.30" font-size="8.4" fill="#111" textLength="31.00" lengthAdjust="spacingAndGlyphs">DG3TH</text>
<text x="112.80" y="28.30" font-size="8.4" fill="#111" textLength="76.20" lengthAdjust="spacingAndGlyphs">(0.1ch E-L, 12 Apr)</text>
<line x1="61.60" y1="34.30" x2="75.80" y2="34.30" stroke="#2f6bff" stroke-width="1.1"/>
<circle cx="68.70" cy="34.30" r="1.0" fill="#2f6bff"/>
<text x="76.80" y="37.60" font-size="8.4" fill="#111" textLength="31.00" lengthAdjust="spacingAndGlyphs">DG3TH</text>
<text x="112.80" y="37.60" font-size="8.4" fill="#111" textLength="76.20" lengthAdjust="spacingAndGlyphs">(1.0ch E-L, 12 Apr)</text>
<line x1="61.60" y1="43.60" x2="75.80" y2="43.60" stroke="#ff1010" stroke-width="1.1"/>
<circle cx="68.70" cy="43.60" r="1.0" fill="#ff1010"/>
<text x="76.70" y="46.90" font-size="8.4" fill="#111" textLength="27.30" lengthAdjust="spacingAndGlyphs">OEMV</text>
<text x="111.40" y="46.90" font-size="8.4" fill="#111" textLength="75.50" lengthAdjust="spacingAndGlyphs">(1.0ch E-L, 12 Apr)</text>
<line x1="61.60" y1="53.00" x2="75.80" y2="53.00" stroke="#9a9a9a" stroke-width="1.0"/>
<circle cx="68.70" cy="53.00" r="1.0" fill="#9a9a9a"/>
<text x="77.00" y="56.30" font-size="8.4" fill="#111" textLength="33.70" lengthAdjust="spacingAndGlyphs">PolaRx2</text>
<text x="114.00" y="56.30" font-size="8.4" fill="#111" textLength="80.40" lengthAdjust="spacingAndGlyphs">(1/30ch E-L, 12 Apr)</text>
<line x1="384.40" y1="46.50" x2="677.40" y2="46.50" stroke="#727272" stroke-width="1.05"/>
<line x1="384.40" y1="87.00" x2="677.40" y2="87.00" stroke="#727272" stroke-width="1.05"/>
<line x1="384.40" y1="127.50" x2="677.40" y2="127.50" stroke="#727272" stroke-width="1.05"/>
<line x1="384.40" y1="167.50" x2="677.40" y2="167.50" stroke="#727272" stroke-width="1.05"/>
<line x1="384.40" y1="208.00" x2="677.40" y2="208.00" stroke="#727272" stroke-width="1.05"/>
<line x1="380.90" y1="6.10" x2="384.40" y2="6.10" stroke="#3c3c3c" stroke-width="1.1"/>
<text transform="translate(376.90,9.40) scale(1.04,1)" text-anchor="end" font-size="10.0" fill="#111">2</text>
<line x1="380.90" y1="46.50" x2="384.40" y2="46.50" stroke="#3c3c3c" stroke-width="1.1"/>
<text transform="translate(376.90,49.80) scale(1.04,1)" text-anchor="end" font-size="10.0" fill="#111">1.5</text>
<line x1="380.90" y1="87.00" x2="384.40" y2="87.00" stroke="#3c3c3c" stroke-width="1.1"/>
<text transform="translate(376.90,90.30) scale(1.04,1)" text-anchor="end" font-size="10.0" fill="#111">1</text>
<line x1="380.90" y1="127.50" x2="384.40" y2="127.50" stroke="#3c3c3c" stroke-width="1.1"/>
<text transform="translate(376.90,130.80) scale(1.04,1)" text-anchor="end" font-size="10.0" fill="#111">0.5</text>
<line x1="380.90" y1="167.50" x2="384.40" y2="167.50" stroke="#3c3c3c" stroke-width="1.1"/>
<text transform="translate(376.90,170.80) scale(1.04,1)" text-anchor="end" font-size="10.0" fill="#111">0</text>
<line x1="380.90" y1="208.00" x2="384.40" y2="208.00" stroke="#3c3c3c" stroke-width="1.1"/>
<text transform="translate(376.90,211.30) scale(1.04,1)" text-anchor="end" font-size="10.0" fill="#111">-0.5</text>
<line x1="380.90" y1="248.40" x2="384.40" y2="248.40" stroke="#3c3c3c" stroke-width="1.1"/>
<text transform="translate(376.90,251.70) scale(1.04,1)" text-anchor="end" font-size="10.0" fill="#111">-1</text>
<line x1="384.40" y1="248.40" x2="384.40" y2="251.90" stroke="#3c3c3c" stroke-width="1.1"/>
<text transform="translate(385.30,264.20) scale(1.04,1)" text-anchor="middle" font-size="10.0" fill="#111">0</text>
<line x1="416.96" y1="248.40" x2="416.96" y2="251.90" stroke="#3c3c3c" stroke-width="1.1"/>
<text transform="translate(417.86,264.20) scale(1.04,1)" text-anchor="middle" font-size="10.0" fill="#111">10</text>
<line x1="449.51" y1="248.40" x2="449.51" y2="251.90" stroke="#3c3c3c" stroke-width="1.1"/>
<text transform="translate(450.41,264.20) scale(1.04,1)" text-anchor="middle" font-size="10.0" fill="#111">20</text>
<line x1="482.07" y1="248.40" x2="482.07" y2="251.90" stroke="#3c3c3c" stroke-width="1.1"/>
<text transform="translate(482.97,264.20) scale(1.04,1)" text-anchor="middle" font-size="10.0" fill="#111">30</text>
<line x1="514.62" y1="248.40" x2="514.62" y2="251.90" stroke="#3c3c3c" stroke-width="1.1"/>
<text transform="translate(515.52,264.20) scale(1.04,1)" text-anchor="middle" font-size="10.0" fill="#111">40</text>
<line x1="547.18" y1="248.40" x2="547.18" y2="251.90" stroke="#3c3c3c" stroke-width="1.1"/>
<text transform="translate(548.08,264.20) scale(1.04,1)" text-anchor="middle" font-size="10.0" fill="#111">50</text>
<line x1="579.73" y1="248.40" x2="579.73" y2="251.90" stroke="#3c3c3c" stroke-width="1.1"/>
<text transform="translate(580.63,264.20) scale(1.04,1)" text-anchor="middle" font-size="10.0" fill="#111">60</text>
<line x1="612.29" y1="248.40" x2="612.29" y2="251.90" stroke="#3c3c3c" stroke-width="1.1"/>
<text transform="translate(613.19,264.20) scale(1.04,1)" text-anchor="middle" font-size="10.0" fill="#111">70</text>
<line x1="644.84" y1="248.40" x2="644.84" y2="251.90" stroke="#3c3c3c" stroke-width="1.1"/>
<text transform="translate(645.74,264.20) scale(1.04,1)" text-anchor="middle" font-size="10.0" fill="#111">80</text>
<line x1="677.40" y1="248.40" x2="677.40" y2="251.90" stroke="#3c3c3c" stroke-width="1.1"/>
<text transform="translate(678.30,264.20) scale(1.04,1)" text-anchor="middle" font-size="10.0" fill="#111">90</text>
<text x="535.90" y="282.90" text-anchor="middle" font-size="11.2" fill="#111" textLength="73.5" lengthAdjust="spacing">Elevation [deg]</text>
<text transform="translate(354.80,126.40) rotate(-90)" x="0" y="0" text-anchor="middle" font-size="11.2" fill="#111" textLength="91.8" lengthAdjust="spacing">Multipath L1 P [m]</text>
<path d="M399.4 180.0 L400.4 179.0 L401.3 177.9 L402.3 177.8 L403.3 177.3 L404.3 177.7 L405.2 179.0 L406.2 178.3 L407.2 177.8 L408.2 176.5 L409.1 177.4 L410.1 179.0 L411.1 178.9 L412.1 178.5 L413.0 177.9 L414.0 177.0 L415.0 176.8 L416.0 176.4 L417.0 177.3 L417.9 179.1 L418.9 180.7 L419.9 180.4 L420.9 178.2 L421.8 176.5 L422.8 176.2 L423.8 177.6 L424.8 178.2 L425.7 178.7 L426.7 179.4 L427.7 179.8 L428.7 178.2 L429.7 178.0 L430.6 177.7 L431.6 177.1 L432.6 177.7 L433.6 178.1 L434.5 176.3 L435.5 175.9 L436.5 176.9 L437.5 178.7 L438.4 180.2 L439.4 180.0 L440.4 178.5 L441.4 177.8 L442.3 177.4 L443.3 176.0 L444.3 176.2 L445.3 176.3 L446.3 177.0 L447.2 178.2 L448.2 177.3 L449.2 177.6 L450.2 178.6 L451.1 177.1 L452.1 175.8 L453.1 175.6 L454.1 176.6 L455.0 178.6 L456.0 178.6 L457.0 178.1 L458.0 177.5 L459.0 176.6 L459.9 175.7 L460.9 176.3 L461.9 177.1 L462.9 175.6 L463.8 174.6 L464.8 176.2 L465.8 178.1 L466.8 177.8 L467.7 177.4 L468.7 177.9 L469.7 177.3 L470.7 176.8 L471.6 175.2 L472.6 174.8 L473.6 176.1 L474.6 177.0 L475.6 176.5 L476.5 176.8 L477.5 176.5 L478.5 175.7 L479.5 177.2 L480.4 177.8 L481.4 175.7 L482.4 173.9 L483.4 174.0 L484.3 174.4 L485.3 174.5 L486.3 175.1 L487.3 173.4 L488.3 173.2 L489.2 175.1 L490.2 175.9 L491.2 176.9 L492.2 176.5 L493.1 175.4 L494.1 175.6 L495.1 174.8 L496.1 174.0 L497.0 173.7 L498.0 172.5 L499.0 171.8 L500.0 172.6 L500.9 172.1 L501.9 172.0 L502.9 173.7 L503.9 175.3 L504.9 175.8 L505.8 173.2 L506.8 171.3 L507.8 170.6 L508.8 169.2 L509.7 169.2 L510.7 170.3 L511.7 171.5 L512.7 171.9 L513.6 170.7 L514.6 169.6 L515.6 169.6 L516.6 169.5 L517.6 168.8 L518.5 168.2 L519.5 168.9 L520.5 167.8 L521.5 165.9 L522.4 164.4 L523.4 164.0 L524.4 164.5 L525.4 165.0 L526.3 164.1 L527.3 161.6 L528.3 160.6 L529.3 161.0 L530.2 161.7 L531.2 160.8 L532.2 158.5 L533.2 157.7 L534.2 156.5 L535.1 155.7 L536.1 157.5 L537.1 157.0 L538.1 154.8 L539.0 154.1 L540.0 154.6 L541.0 154.0 L542.0 153.5 L542.9 152.7 L543.9 151.1 L544.9 149.8 L545.9 148.3 L546.9 147.3 L547.8 146.9 L548.8 147.5 L549.8 147.3 L550.8 148.0 L551.7 148.1 L552.7 146.2 L553.7 143.5 L554.7 143.1 L555.6 143.1 L556.6 140.4 L557.6 139.3 L558.6 139.9 L559.5 139.7 L560.5 139.1 L561.5 137.8 L562.5 135.1 L563.5 135.3 L564.4 135.3 L565.4 134.7 L566.4 134.1 L567.4 133.1 L568.3 131.7 L569.3 131.7 L570.3 131.1 L571.3 129.3 L572.2 127.5 L573.2 127.7 L574.2 127.1 L575.2 125.6 L576.2 125.2 L577.1 123.5 L578.1 121.3 L579.1 120.3 L580.1 119.3 L581.0 117.9 L582.0 118.3 L583.0 118.9 L584.0 118.4 L584.9 115.9 L585.9 114.0 L586.9 112.9 L587.9 110.2 L588.8 109.1 L589.8 109.4 L590.8 109.9 L591.8 108.3 L592.8 107.6 L593.7 108.1 L594.7 106.2 L595.7 105.3 L596.7 104.8 L597.6 101.6 L598.6 98.7 L599.6 99.0 L600.6 100.0 L601.5 98.6 L602.5 96.8 L603.5 96.6 L604.5 95.4 L605.5 94.0 L606.4 92.3 L607.4 91.0 L608.4 91.3 L609.4 89.2 L610.3 88.1 L611.3 88.2 L612.3 88.0 L613.3 86.0 L614.2 86.0 L615.2 87.3 L616.2 86.0 L617.2 84.4 L618.1 83.3 L619.1 82.4 L620.1 80.9 L621.1 78.4 L622.1 78.0 L623.0 78.3 L624.0 76.8 L625.0 75.9 L626.0 77.7 L626.9 79.1 L627.9 77.5 L628.9 76.4 L629.9 77.5 L630.8 76.8 L631.8 75.1 L632.8 74.2 L633.8 74.4 L634.8 75.1 L635.7 75.7 L636.7 75.4 L637.7 73.9 L638.7 73.6 L639.6 74.9 L640.6 74.6 L641.6 72.7 L642.6 72.7 L643.5 74.8 L644.5 75.6 L645.5 73.7 L646.5 72.0 L647.4 71.5 L648.4 72.5 L649.4 74.2 L650.4 73.9 L651.4 73.6 L652.3 72.6 L653.3 70.4 L654.3 71.5 L655.3 72.4 L656.2 72.4 L657.2 71.3 L658.2 70.8 L659.2 71.7 L660.1 72.2 L661.1 72.6 L662.1 72.8 L663.1 71.7 L664.1 70.8 L665.0 70.9 L666.0 71.9 L667.0 72.6 L668.0 71.0 L668.9 69.4 L669.9 68.9 L670.9 70.8 L671.9 72.6 L672.8 72.8 L673.8 71.3 L674.8 69.9 L675.8 70.0 L676.7 71.7" fill="none" stroke="#0000cc" stroke-width="1.9" stroke-linejoin="round" stroke-linecap="round" opacity="1"/>
<path d="M399.4 181.4 L400.4 179.8 L401.3 178.5 L402.3 177.8 L403.3 177.9 L404.3 179.4 L405.2 179.8 L406.2 180.8 L407.2 181.9 L408.2 181.2 L409.1 180.4 L410.1 180.7 L411.1 179.7 L412.1 178.2 L413.0 178.1 L414.0 178.5 L415.0 179.1 L416.0 180.5 L417.0 181.3 L417.9 180.1 L418.9 180.7 L419.9 180.0 L420.9 179.4 L421.8 179.2 L422.8 179.3 L423.8 179.3 L424.8 179.3 L425.7 180.2 L426.7 180.1 L427.7 180.5 L428.7 179.3 L429.7 179.4 L430.6 178.8 L431.6 179.0 L432.6 181.7 L433.6 181.1 L434.5 179.1 L435.5 178.1 L436.5 177.8 L437.5 178.6 L438.4 179.3 L439.4 179.8 L440.4 179.9 L441.4 179.6 L442.3 179.0 L443.3 179.1 L444.3 178.3 L445.3 177.1 L446.3 177.7 L447.2 179.2 L448.2 179.1 L449.2 178.6 L450.2 180.2 L451.1 181.6 L452.1 180.5 L453.1 178.7 L454.1 178.8 L455.0 178.9 L456.0 178.6 L457.0 178.5 L458.0 176.8 L459.0 177.8 L459.9 178.1 L460.9 177.2 L461.9 179.1 L462.9 179.7 L463.8 179.5 L464.8 179.8 L465.8 179.1 L466.8 178.1 L467.7 178.2 L468.7 178.1 L469.7 176.7 L470.7 175.4 L471.6 177.0 L472.6 179.4 L473.6 177.5 L474.6 176.6 L475.6 177.7 L476.5 179.1 L477.5 179.0 L478.5 178.9 L479.5 178.8 L480.4 176.6 L481.4 176.2 L482.4 177.8 L483.4 178.3 L484.3 176.6 L485.3 176.0 L486.3 176.4 L487.3 176.3 L488.3 174.8 L489.2 175.1 L490.2 175.4 L491.2 177.3 L492.2 176.4 L493.1 176.4 L494.1 178.1 L495.1 177.3 L496.1 177.0 L497.0 176.9 L498.0 176.4 L499.0 175.7 L500.0 174.2 L500.9 173.5 L501.9 174.1 L502.9 175.2 L503.9 174.4 L504.9 172.8 L505.8 173.7 L506.8 174.5 L507.8 174.3 L508.8 173.0 L509.7 171.9 L510.7 171.7 L511.7 171.7 L512.7 171.7 L513.6 171.8 L514.6 171.7 L515.6 172.0 L516.6 170.6 L517.6 169.5 L518.5 169.6 L519.5 168.0 L520.5 167.8 L521.5 169.3 L522.4 169.9 L523.4 169.2 L524.4 167.2 L525.4 164.7 L526.3 162.9 L527.3 160.6 L528.3 159.7 L529.3 162.3 L530.2 164.4 L531.2 164.2 L532.2 163.1 L533.2 161.0 L534.2 158.7 L535.1 157.4 L536.1 158.5 L537.1 158.0 L538.1 157.0 L539.0 156.5 L540.0 155.2 L541.0 153.1 L542.0 153.6 L542.9 153.5 L543.9 152.3 L544.9 151.0 L545.9 150.2 L546.9 151.5 L547.8 151.1 L548.8 149.9 L549.8 148.3 L550.8 147.0 L551.7 148.0 L552.7 148.6 L553.7 146.9 L554.7 145.7 L555.6 143.8 L556.6 141.9 L557.6 140.1 L558.6 140.9 L559.5 141.8 L560.5 140.0 L561.5 138.3 L562.5 138.2 L563.5 138.0 L564.4 137.6 L565.4 137.2 L566.4 135.9 L567.4 133.3 L568.3 133.1 L569.3 133.4 L570.3 131.2 L571.3 130.1 L572.2 129.3 L573.2 128.0 L574.2 127.4 L575.2 128.6 L576.2 126.4 L577.1 124.0 L578.1 124.1 L579.1 124.9 L580.1 123.4 L581.0 120.1 L582.0 118.7 L583.0 120.2 L584.0 119.0 L584.9 116.6 L585.9 115.1 L586.9 113.5 L587.9 112.0 L588.8 112.4 L589.8 113.7 L590.8 113.1 L591.8 112.1 L592.8 109.7 L593.7 106.8 L594.7 105.0 L595.7 103.3 L596.7 102.9 L597.6 102.8 L598.6 102.8 L599.6 103.3 L600.6 101.9 L601.5 99.5 L602.5 97.8 L603.5 97.5 L604.5 98.3 L605.5 98.1 L606.4 95.8 L607.4 92.3 L608.4 91.6 L609.4 90.9 L610.3 90.6 L611.3 90.2 L612.3 89.5 L613.3 88.5 L614.2 86.8 L615.2 85.9 L616.2 86.5 L617.2 85.4 L618.1 84.5 L619.1 83.4 L620.1 81.2 L621.1 80.4 L622.1 81.8 L623.0 80.6 L624.0 78.6 L625.0 79.1 L626.0 80.5 L626.9 79.4 L627.9 79.0 L628.9 78.6 L629.9 77.8 L630.8 78.3 L631.8 77.2 L632.8 76.5 L633.8 77.7 L634.8 77.2 L635.7 75.1 L636.7 75.8 L637.7 75.4 L638.7 76.0 L639.6 76.0 L640.6 75.8 L641.6 75.2 L642.6 75.2 L643.5 75.8 L644.5 74.7 L645.5 73.7 L646.5 75.5 L647.4 76.6 L648.4 75.0 L649.4 74.3 L650.4 73.7 L651.4 74.1 L652.3 74.5 L653.3 73.7 L654.3 72.7 L655.3 73.2 L656.2 75.0 L657.2 75.8 L658.2 74.5 L659.2 72.2 L660.1 72.6 L661.1 73.9 L662.1 73.1 L663.1 72.2 L664.1 73.7 L665.0 73.4 L666.0 71.7 L667.0 71.0 L668.0 71.7 L668.9 73.0 L669.9 73.8 L670.9 75.0 L671.9 73.9 L672.8 73.1 L673.8 72.3 L674.8 71.0 L675.8 71.7 L676.7 72.3" fill="none" stroke="#0000cc" stroke-width="1.9" stroke-linejoin="round" stroke-linecap="round" opacity="1"/>
<path d="M399.4 180.9 L400.4 183.9 L401.3 183.0 L402.3 181.5 L403.3 180.9 L404.3 180.7 L405.2 180.9 L406.2 182.5 L407.2 183.6 L408.2 183.1 L409.1 183.2 L410.1 184.0 L411.1 183.9 L412.1 183.0 L413.0 183.3 L414.0 184.8 L415.0 186.1 L416.0 185.9 L417.0 183.9 L417.9 183.3 L418.9 182.9 L419.9 182.3 L420.9 181.4 L421.8 181.6 L422.8 182.6 L423.8 183.2 L424.8 184.1 L425.7 184.3 L426.7 184.9 L427.7 183.7 L428.7 182.4 L429.7 182.9 L430.6 184.1 L431.6 184.4 L432.6 183.2 L433.6 181.4 L434.5 181.3 L435.5 182.9 L436.5 183.6 L437.5 183.3 L438.4 184.0 L439.4 184.0 L440.4 183.0 L441.4 181.6 L442.3 181.2 L443.3 181.4 L444.3 182.0 L445.3 182.5 L446.3 181.3 L447.2 180.5 L448.2 181.2 L449.2 181.5 L450.2 181.4 L451.1 180.6 L452.1 180.2 L453.1 180.1 L454.1 179.8 L455.0 179.7 L456.0 181.0 L457.0 181.9 L458.0 181.5 L459.0 180.8 L459.9 181.1 L460.9 180.7 L461.9 178.8 L462.9 177.9 L463.8 179.8 L464.8 182.7 L465.8 182.7 L466.8 182.0 L467.7 181.3 L468.7 179.2 L469.7 177.5 L470.7 178.6 L471.6 179.3 L472.6 178.4 L473.6 178.2 L474.6 178.7 L475.6 179.1 L476.5 178.6 L477.5 179.1 L478.5 180.8 L479.5 180.1 L480.4 177.2 L481.4 176.6 L482.4 178.3 L483.4 179.2 L484.3 179.2 L485.3 179.1 L486.3 177.5 L487.3 175.5 L488.3 175.3 L489.2 175.5 L490.2 176.0 L491.2 175.5 L492.2 175.4 L493.1 177.0 L494.1 177.0 L495.1 175.7 L496.1 174.0 L497.0 172.7 L498.0 173.8 L499.0 175.8 L500.0 175.9 L500.9 175.6 L501.9 174.1 L502.9 172.3 L503.9 173.1 L504.9 173.4 L505.8 172.8 L506.8 171.5 L507.8 171.1 L508.8 171.2 L509.7 170.7 L510.7 170.4 L511.7 171.6 L512.7 172.2 L513.6 171.0 L514.6 169.1 L515.6 169.5 L516.6 170.1 L517.6 167.9 L518.5 165.2 L519.5 165.2 L520.5 165.1 L521.5 164.8 L522.4 165.3 L523.4 165.5 L524.4 165.1 L525.4 165.0 L526.3 163.6 L527.3 159.7 L528.3 158.7 L529.3 159.9 L530.2 160.4 L531.2 159.8 L532.2 158.2 L533.2 157.6 L534.2 157.8 L535.1 157.7 L536.1 155.4 L537.1 153.3 L538.1 153.5 L539.0 153.2 L540.0 152.2 L541.0 150.7 L542.0 150.1 L542.9 150.7 L543.9 150.8 L544.9 149.7 L545.9 149.0 L546.9 148.4 L547.8 146.9 L548.8 146.2 L549.8 145.9 L550.8 143.3 L551.7 139.8 L552.7 139.5 L553.7 139.0 L554.7 137.8 L555.6 139.9 L556.6 142.3 L557.6 141.7 L558.6 138.8 L559.5 135.3 L560.5 134.0 L561.5 134.2 L562.5 132.6 L563.5 131.8 L564.4 130.2 L565.4 128.4 L566.4 127.5 L567.4 127.1 L568.3 127.0 L569.3 126.5 L570.3 124.2 L571.3 121.5 L572.2 118.9 L573.2 116.8 L574.2 116.4 L575.2 115.9 L576.2 114.8 L577.1 115.6 L578.1 117.1 L579.1 115.7 L580.1 111.4 L581.0 108.7 L582.0 107.7 L583.0 107.0 L584.0 104.7 L584.9 102.2 L585.9 102.3 L586.9 102.7 L587.9 100.5 L588.8 98.3 L589.8 99.3 L590.8 100.6 L591.8 99.2 L592.8 95.4 L593.7 91.5 L594.7 90.2 L595.7 90.4 L596.7 89.7 L597.6 87.7 L598.6 86.2 L599.6 85.3 L600.6 84.3 L601.5 82.5 L602.5 81.2 L603.5 82.1 L604.5 81.2 L605.5 79.4 L606.4 77.5 L607.4 76.4 L608.4 75.1 L609.4 74.0 L610.3 73.1 L611.3 72.8 L612.3 73.0 L613.3 71.6 L614.2 70.5 L615.2 68.8 L616.2 66.6 L617.2 65.4 L618.1 66.3 L619.1 69.0 L620.1 68.3 L621.1 66.2 L622.1 65.8 L623.0 64.1 L624.0 61.6 L625.0 61.7 L626.0 62.7 L626.9 61.7 L627.9 60.6 L628.9 60.7 L629.9 60.8 L630.8 61.1 L631.8 61.6 L632.8 60.9 L633.8 60.2 L634.8 59.0 L635.7 58.6 L636.7 58.8 L637.7 57.8 L638.7 57.2 L639.6 57.0 L640.6 56.8 L641.6 57.1 L642.6 57.1 L643.5 56.4 L644.5 55.6 L645.5 55.9 L646.5 57.8 L647.4 58.1 L648.4 57.8 L649.4 56.3 L650.4 54.6 L651.4 53.6 L652.3 53.2 L653.3 55.0 L654.3 57.5 L655.3 55.9 L656.2 52.2 L657.2 51.3 L658.2 53.3 L659.2 54.1 L660.1 53.2 L661.1 54.3 L662.1 53.9 L663.1 53.0 L664.1 53.3 L665.0 54.0 L666.0 53.0 L667.0 51.9 L668.0 53.0 L668.9 53.9 L669.9 52.9 L670.9 52.1 L671.9 52.4 L672.8 52.4 L673.8 51.7 L674.8 52.2 L675.8 52.8 L676.7 52.0" fill="none" stroke="#2f6bff" stroke-width="1.6" stroke-linejoin="round" stroke-linecap="round" opacity="1"/>
<path d="M399.4 176.4 L400.4 179.2 L401.3 182.1 L402.3 182.9 L403.3 180.1 L404.3 177.6 L405.2 177.9 L406.2 178.2 L407.2 178.7 L408.2 179.0 L409.1 178.3 L410.1 179.7 L411.1 179.0 L412.1 177.5 L413.0 179.3 L414.0 181.0 L415.0 181.6 L416.0 182.4 L417.0 183.7 L417.9 181.8 L418.9 179.1 L419.9 179.4 L420.9 180.3 L421.8 179.9 L422.8 179.5 L423.8 179.6 L424.8 180.5 L425.7 181.6 L426.7 180.8 L427.7 180.1 L428.7 179.5 L429.7 180.2 L430.6 181.2 L431.6 181.2 L432.6 180.6 L433.6 179.2 L434.5 178.8 L435.5 179.3 L436.5 179.6 L437.5 178.6 L438.4 178.2 L439.4 177.7 L440.4 178.5 L441.4 180.2 L442.3 180.2 L443.3 179.7 L444.3 178.2 L445.3 176.7 L446.3 176.7 L447.2 177.8 L448.2 179.3 L449.2 178.7 L450.2 177.2 L451.1 176.9 L452.1 177.5 L453.1 177.1 L454.1 177.7 L455.0 179.5 L456.0 179.2 L457.0 178.2 L458.0 178.9 L459.0 178.4 L459.9 176.3 L460.9 176.0 L461.9 176.6 L462.9 176.9 L463.8 177.5 L464.8 177.8 L465.8 177.1 L466.8 175.5 L467.7 174.8 L468.7 176.1 L469.7 176.8 L470.7 177.4 L471.6 177.6 L472.6 176.0 L473.6 175.2 L474.6 175.7 L475.6 175.2 L476.5 174.7 L477.5 173.2 L478.5 173.0 L479.5 175.5 L480.4 177.4 L481.4 177.0 L482.4 177.0 L483.4 176.3 L484.3 173.7 L485.3 171.7 L486.3 172.3 L487.3 174.0 L488.3 175.4 L489.2 175.1 L490.2 174.1 L491.2 172.7 L492.2 172.5 L493.1 172.5 L494.1 172.5 L495.1 172.1 L496.1 171.4 L497.0 171.9 L498.0 172.9 L499.0 172.6 L500.0 171.5 L500.9 170.9 L501.9 171.1 L502.9 171.5 L503.9 173.1 L504.9 174.4 L505.8 174.5 L506.8 173.4 L507.8 173.8 L508.8 173.4 L509.7 171.9 L510.7 172.0 L511.7 171.7 L512.7 170.1 L513.6 169.5 L514.6 169.2 L515.6 169.1 L516.6 167.9 L517.6 166.8 L518.5 166.2 L519.5 165.5 L520.5 166.4 L521.5 166.5 L522.4 164.9 L523.4 163.7 L524.4 163.9 L525.4 163.6 L526.3 161.6 L527.3 160.4 L528.3 161.4 L529.3 161.9 L530.2 160.1 L531.2 158.4 L532.2 158.3 L533.2 158.6 L534.2 158.8 L535.1 157.0 L536.1 154.8 L537.1 153.3 L538.1 152.6 L539.0 152.5 L540.0 152.8 L541.0 152.6 L542.0 153.0 L542.9 151.2 L543.9 148.2 L544.9 148.0 L545.9 149.1 L546.9 147.8 L547.8 147.0 L548.8 146.4 L549.8 144.6 L550.8 142.6 L551.7 141.9 L552.7 143.1 L553.7 142.8 L554.7 142.0 L555.6 140.9 L556.6 137.1 L557.6 135.1 L558.6 135.9 L559.5 135.6 L560.5 134.8 L561.5 133.9 L562.5 133.0 L563.5 131.7 L564.4 130.5 L565.4 127.8 L566.4 125.4 L567.4 124.6 L568.3 126.2 L569.3 126.2 L570.3 125.0 L571.3 122.6 L572.2 120.9 L573.2 121.2 L574.2 121.5 L575.2 119.6 L576.2 115.4 L577.1 111.8 L578.1 110.6 L579.1 111.4 L580.1 112.0 L581.0 111.6 L582.0 111.3 L583.0 109.3 L584.0 105.8 L584.9 104.3 L585.9 103.2 L586.9 101.5 L587.9 98.7 L588.8 97.8 L589.8 98.9 L590.8 98.6 L591.8 96.3 L592.8 92.7 L593.7 90.9 L594.7 89.8 L595.7 87.9 L596.7 88.8 L597.6 90.8 L598.6 90.3 L599.6 87.2 L600.6 84.9 L601.5 83.8 L602.5 81.7 L603.5 79.9 L604.5 79.1 L605.5 77.4 L606.4 75.7 L607.4 76.2 L608.4 76.5 L609.4 74.9 L610.3 72.3 L611.3 71.0 L612.3 72.7 L613.3 73.6 L614.2 71.4 L615.2 69.9 L616.2 69.1 L617.2 67.7 L618.1 66.3 L619.1 65.9 L620.1 67.1 L621.1 67.3 L622.1 66.1 L623.0 64.6 L624.0 62.6 L625.0 62.1 L626.0 61.7 L626.9 60.4 L627.9 60.0 L628.9 59.7 L629.9 59.9 L630.8 60.8 L631.8 61.1 L632.8 61.3 L633.8 61.6 L634.8 60.3 L635.7 58.6 L636.7 58.7 L637.7 58.4 L638.7 57.0 L639.6 57.9 L640.6 57.5 L641.6 56.2 L642.6 56.5 L643.5 58.0 L644.5 58.1 L645.5 57.0 L646.5 55.7 L647.4 55.5 L648.4 55.4 L649.4 54.2 L650.4 52.8 L651.4 53.2 L652.3 54.4 L653.3 55.5 L654.3 55.4 L655.3 55.2 L656.2 53.9 L657.2 54.0 L658.2 55.4 L659.2 55.6 L660.1 54.3 L661.1 53.6 L662.1 54.0 L663.1 54.1 L664.1 54.2 L665.0 54.1 L666.0 53.5 L667.0 52.1 L668.0 51.0 L668.9 51.7 L669.9 52.1 L670.9 50.5 L671.9 50.4 L672.8 51.5 L673.8 51.8 L674.8 53.0 L675.8 54.1 L676.7 54.3" fill="none" stroke="#2f6bff" stroke-width="1.6" stroke-linejoin="round" stroke-linecap="round" opacity="1"/>
<path d="M399.4 160.4 L399.4 181.4" fill="none" stroke="#2f6bff" stroke-width="1.1" stroke-linejoin="round" stroke-linecap="round"/>
<path d="M399.4 173.4 L400.4 172.8 L401.3 172.9 L402.3 173.5 L403.3 173.9 L404.3 173.7 L405.2 173.3 L406.2 173.2 L407.2 173.5 L408.2 173.6 L409.1 173.1 L410.1 172.8 L411.1 173.0 L412.1 173.3 L413.0 173.3 L414.0 173.0 L415.0 172.8 L416.0 173.0 L417.0 173.1 L417.9 173.3 L418.9 173.8 L419.9 174.1 L420.9 173.9 L421.8 174.2 L422.8 174.6 L423.8 174.6 L424.8 174.5 L425.7 174.6 L426.7 174.4 L427.7 173.6 L428.7 173.1 L429.7 173.4 L430.6 173.7 L431.6 173.4 L432.6 173.2 L433.6 173.2 L434.5 173.1 L435.5 173.2 L436.5 173.7 L437.5 174.0 L438.4 173.7 L439.4 173.3 L440.4 173.6 L441.4 174.4 L442.3 175.1 L443.3 175.4 L444.3 175.2 L445.3 174.5 L446.3 173.9 L447.2 173.5 L448.2 172.9 L449.2 172.7 L450.2 172.9 L451.1 173.2 L452.1 173.7 L453.1 174.1 L454.1 174.1 L455.0 174.3 L456.0 174.6 L457.0 174.4 L458.0 173.8 L459.0 173.6 L459.9 173.8 L460.9 173.9 L461.9 174.0 L462.9 174.0 L463.8 173.8 L464.8 173.7 L465.8 173.7 L466.8 173.5 L467.7 173.2 L468.7 173.1 L469.7 173.1 L470.7 172.7 L471.6 172.2 L472.6 172.5 L473.6 173.2 L474.6 173.2 L475.6 173.1 L476.5 173.3 L477.5 173.4 L478.5 173.2 L479.5 172.9 L480.4 172.6 L481.4 172.7 L482.4 173.5 L483.4 173.9 L484.3 173.5 L485.3 172.3 L486.3 171.2 L487.3 171.5 L488.3 172.7 L489.2 172.8 L490.2 171.7 L491.2 171.1 L492.2 171.5 L493.1 172.0 L494.1 172.1 L495.1 172.0 L496.1 172.0 L497.0 171.8 L498.0 171.3 L499.0 171.0 L500.0 171.2 L500.9 171.6 L501.9 171.7 L502.9 171.1 L503.9 170.5 L504.9 170.6 L505.8 170.5 L506.8 169.5 L507.8 168.5 L508.8 168.3 L509.7 169.1 L510.7 169.9 L511.7 169.4 L512.7 167.9 L513.6 167.2 L514.6 167.8 L515.6 169.2 L516.6 168.9 L517.6 168.6 L518.5 168.0 L519.5 167.0 L520.5 165.7 L521.5 164.6 L522.4 163.9 L523.4 163.6 L524.4 163.6 L525.4 163.9 L526.3 164.1 L527.3 163.2 L528.3 161.6 L529.3 160.3 L530.2 159.0 L531.2 157.8 L532.2 156.7 L533.2 156.0 L534.2 155.9 L535.1 156.1 L536.1 156.2 L537.1 156.0 L538.1 155.4 L539.0 154.7 L540.0 153.7 L541.0 152.6 L542.0 152.0 L542.9 152.0 L543.9 151.7 L544.9 150.5 L545.9 149.0 L546.9 147.9 L547.8 147.7 L548.8 147.6 L549.8 146.6 L550.8 144.8 L551.7 143.3 L552.7 142.3 L553.7 142.1 L554.7 142.3 L555.6 141.9 L556.6 140.9 L557.6 139.8 L558.6 139.0 L559.5 138.5 L560.5 138.3 L561.5 138.0 L562.5 137.2 L563.5 136.0 L564.4 134.8 L565.4 133.5 L566.4 132.1 L567.4 130.9 L568.3 130.1 L569.3 129.6 L570.3 129.0 L571.3 128.4 L572.2 127.5 L573.2 126.4 L574.2 125.0 L575.2 123.8 L576.2 122.9 L577.1 122.1 L578.1 121.1 L579.1 120.2 L580.1 119.3 L581.0 118.0 L582.0 116.7 L583.0 115.5 L584.0 114.6 L584.9 113.6 L585.9 111.9 L586.9 110.0 L587.9 109.0 L588.8 108.3 L589.8 107.2 L590.8 105.5 L591.8 103.8 L592.8 102.4 L593.7 101.0 L594.7 99.7 L595.7 98.4 L596.7 96.6 L597.6 94.5 L598.6 92.9 L599.6 91.6 L600.6 90.2 L601.5 89.1 L602.5 88.0 L603.5 86.8 L604.5 85.6 L605.5 84.3 L606.4 83.1 L607.4 82.0 L608.4 80.5 L609.4 78.3 L610.3 76.1 L611.3 75.0 L612.3 74.4 L613.3 73.6 L614.2 72.7 L615.2 71.9 L616.2 71.4 L617.2 70.8 L618.1 69.7 L619.1 68.7 L620.1 68.2 L621.1 67.7 L622.1 66.7 L623.0 64.9 L624.0 62.7 L625.0 61.2 L626.0 60.7 L626.9 60.8 L627.9 61.2 L628.9 61.1 L629.9 60.1 L630.8 59.0 L631.8 58.3 L632.8 57.7 L633.8 57.5 L634.8 57.9 L635.7 57.9 L636.7 57.2 L637.7 56.2 L638.7 55.2 L639.6 54.0 L640.6 53.5 L641.6 53.5 L642.6 53.2 L643.5 52.6 L644.5 52.2 L645.5 52.1 L646.5 51.8 L647.4 51.0 L648.4 50.2 L649.4 50.3 L650.4 50.5 L651.4 50.0 L652.3 49.4 L653.3 49.3 L654.3 49.3 L655.3 49.2 L656.2 49.2 L657.2 49.1 L658.2 48.9 L659.2 48.5 L660.1 47.9 L661.1 47.8 L662.1 48.0 L663.1 48.1 L664.1 48.5 L665.0 48.8 L666.0 48.3 L667.0 47.2 L668.0 46.6 L668.9 46.5 L669.9 46.5 L670.9 46.5 L671.9 46.2 L672.8 46.0 L673.8 46.0 L674.8 46.3 L675.8 46.8 L676.7 47.5" fill="none" stroke="#9a9a9a" stroke-width="2.3" stroke-linejoin="round" stroke-linecap="round" opacity="1"/>
<path d="M399.4 175.7 L400.4 175.1 L401.3 174.6 L402.3 174.3 L403.3 174.7 L404.3 175.7 L405.2 176.3 L406.2 176.2 L407.2 175.5 L408.2 174.9 L409.1 175.0 L410.1 175.6 L411.1 176.2 L412.1 176.1 L413.0 175.4 L414.0 174.5 L415.0 174.2 L416.0 174.5 L417.0 174.8 L417.9 175.0 L418.9 175.2 L419.9 175.6 L420.9 175.9 L421.8 176.0 L422.8 176.1 L423.8 176.0 L424.8 175.9 L425.7 175.7 L426.7 175.6 L427.7 175.6 L428.7 175.6 L429.7 175.9 L430.6 176.3 L431.6 176.5 L432.6 176.2 L433.6 175.9 L434.5 175.8 L435.5 175.7 L436.5 175.2 L437.5 174.8 L438.4 175.1 L439.4 175.5 L440.4 175.6 L441.4 175.5 L442.3 175.5 L443.3 175.9 L444.3 176.7 L445.3 177.3 L446.3 177.0 L447.2 176.4 L448.2 176.1 L449.2 175.9 L450.2 175.9 L451.1 175.8 L452.1 175.3 L453.1 174.8 L454.1 174.7 L455.0 174.7 L456.0 174.5 L457.0 174.6 L458.0 175.1 L459.0 175.7 L459.9 176.1 L460.9 176.7 L461.9 176.9 L462.9 176.4 L463.8 175.6 L464.8 175.7 L465.8 176.5 L466.8 176.8 L467.7 176.2 L468.7 175.5 L469.7 174.8 L470.7 174.2 L471.6 174.0 L472.6 174.4 L473.6 175.1 L474.6 175.9 L475.6 175.9 L476.5 175.2 L477.5 174.4 L478.5 174.0 L479.5 173.8 L480.4 174.0 L481.4 174.7 L482.4 175.5 L483.4 175.4 L484.3 174.7 L485.3 174.5 L486.3 174.5 L487.3 174.3 L488.3 174.2 L489.2 174.0 L490.2 173.8 L491.2 173.7 L492.2 173.7 L493.1 173.5 L494.1 173.5 L495.1 173.9 L496.1 174.5 L497.0 174.7 L498.0 174.2 L499.0 173.6 L500.0 173.3 L500.9 173.1 L501.9 172.8 L502.9 172.3 L503.9 172.0 L504.9 172.0 L505.8 171.9 L506.8 171.2 L507.8 170.9 L508.8 171.2 L509.7 171.7 L510.7 171.6 L511.7 170.7 L512.7 169.8 L513.6 169.7 L514.6 170.0 L515.6 169.0 L516.6 168.3 L517.6 167.9 L518.5 168.1 L519.5 167.6 L520.5 166.3 L521.5 164.7 L522.4 163.7 L523.4 163.7 L524.4 163.9 L525.4 163.8 L526.3 163.3 L527.3 162.0 L528.3 160.6 L529.3 160.1 L530.2 160.0 L531.2 159.3 L532.2 158.0 L533.2 156.9 L534.2 156.3 L535.1 155.8 L536.1 155.2 L537.1 154.6 L538.1 154.3 L539.0 154.2 L540.0 154.3 L541.0 153.7 L542.0 152.6 L542.9 151.6 L543.9 150.7 L544.9 149.4 L545.9 148.1 L546.9 147.3 L547.8 146.6 L548.8 146.0 L549.8 145.7 L550.8 145.3 L551.7 144.3 L552.7 143.2 L553.7 142.6 L554.7 142.0 L555.6 141.4 L556.6 140.7 L557.6 139.6 L558.6 138.2 L559.5 137.0 L560.5 136.4 L561.5 135.9 L562.5 134.7 L563.5 133.0 L564.4 131.4 L565.4 130.1 L566.4 128.9 L567.4 127.9 L568.3 127.3 L569.3 126.9 L570.3 126.4 L571.3 125.9 L572.2 125.2 L573.2 123.3 L574.2 121.4 L575.2 120.6 L576.2 119.9 L577.1 118.1 L578.1 115.9 L579.1 114.6 L580.1 113.8 L581.0 112.8 L582.0 111.3 L583.0 109.7 L584.0 108.5 L584.9 107.4 L585.9 106.0 L586.9 104.8 L587.9 103.9 L588.8 102.8 L589.8 101.5 L590.8 100.0 L591.8 98.6 L592.8 97.6 L593.7 97.1 L594.7 96.2 L595.7 94.3 L596.7 92.3 L597.6 90.9 L598.6 89.6 L599.6 88.2 L600.6 86.9 L601.5 85.9 L602.5 85.1 L603.5 84.1 L604.5 82.8 L605.5 81.5 L606.4 80.4 L607.4 79.1 L608.4 77.4 L609.4 76.1 L610.3 75.4 L611.3 74.9 L612.3 73.9 L613.3 72.5 L614.2 71.1 L615.2 70.1 L616.2 69.8 L617.2 69.6 L618.1 69.2 L619.1 68.2 L620.1 66.7 L621.1 65.4 L622.1 64.5 L623.0 63.9 L624.0 63.2 L625.0 62.6 L626.0 61.6 L626.9 60.6 L627.9 60.2 L628.9 60.0 L629.9 59.6 L630.8 59.1 L631.8 58.9 L632.8 58.8 L633.8 58.1 L634.8 57.4 L635.7 57.1 L636.7 56.9 L637.7 56.2 L638.7 55.0 L639.6 53.8 L640.6 53.4 L641.6 53.9 L642.6 54.5 L643.5 54.3 L644.5 53.2 L645.5 51.9 L646.5 50.8 L647.4 50.0 L648.4 49.5 L649.4 49.4 L650.4 50.1 L651.4 50.7 L652.3 50.8 L653.3 50.4 L654.3 49.4 L655.3 48.6 L656.2 48.4 L657.2 48.9 L658.2 49.1 L659.2 48.2 L660.1 47.2 L661.1 47.2 L662.1 47.9 L663.1 48.4 L664.1 48.4 L665.0 48.6 L666.0 48.4 L667.0 47.4 L668.0 46.5 L668.9 46.9 L669.9 47.5 L670.9 47.4 L671.9 46.6 L672.8 45.8 L673.8 45.6 L674.8 46.0 L675.8 46.4 L676.7 46.7" fill="none" stroke="#9a9a9a" stroke-width="2.3" stroke-linejoin="round" stroke-linecap="round" opacity="1"/>
<path d="M384.40 248.40 L384.40 6.10 L677.40 6.10 L677.40 248.40 Z" fill="none" stroke="#3c3c3c" stroke-width="1.3"/>
<rect x="405.50" y="23.80" width="137.60" height="33.60" fill="#fff" stroke="#555" stroke-width="0.9"/>
<line x1="411.10" y1="29.30" x2="424.40" y2="29.30" stroke="#0000cc" stroke-width="1.6"/>
<circle cx="417.75" cy="29.30" r="1.0" fill="#0000cc"/>
<text x="426.30" y="32.60" font-size="8.4" fill="#111" textLength="30.40" lengthAdjust="spacingAndGlyphs">DG3TH</text>
<text x="462.10" y="32.60" font-size="8.4" fill="#111" textLength="75.40" lengthAdjust="spacingAndGlyphs">(0.1ch E-L, 12 Apr)</text>
<line x1="411.10" y1="40.30" x2="424.40" y2="40.30" stroke="#2f6bff" stroke-width="1.1"/>
<circle cx="417.75" cy="40.30" r="1.0" fill="#2f6bff"/>
<text x="426.30" y="43.60" font-size="8.4" fill="#111" textLength="30.40" lengthAdjust="spacingAndGlyphs">DG3TH</text>
<text x="462.10" y="43.60" font-size="8.4" fill="#111" textLength="75.40" lengthAdjust="spacingAndGlyphs">(1.0ch E-L, 12 Apr)</text>
<line x1="411.10" y1="51.30" x2="424.40" y2="51.30" stroke="#9a9a9a" stroke-width="1.0"/>
<circle cx="417.75" cy="51.30" r="1.0" fill="#9a9a9a"/>
<text x="426.30" y="54.60" font-size="8.4" fill="#111" textLength="33.90" lengthAdjust="spacingAndGlyphs">PolaRx2</text>
<text x="462.90" y="54.60" font-size="8.4" fill="#111" textLength="76.10" lengthAdjust="spacingAndGlyphs">(2/3ch E-L, 12 Apr)</text>
<line x1="38.50" y1="341.00" x2="331.90" y2="341.00" stroke="#727272" stroke-width="1.05"/>
<line x1="38.50" y1="382.00" x2="331.90" y2="382.00" stroke="#727272" stroke-width="1.05"/>
<line x1="38.50" y1="422.00" x2="331.90" y2="422.00" stroke="#727272" stroke-width="1.05"/>
<line x1="38.50" y1="462.50" x2="331.90" y2="462.50" stroke="#727272" stroke-width="1.05"/>
<line x1="38.50" y1="503.00" x2="331.90" y2="503.00" stroke="#727272" stroke-width="1.05"/>
<line x1="35.00" y1="301.10" x2="38.50" y2="301.10" stroke="#3c3c3c" stroke-width="1.1"/>
<text transform="translate(31.00,304.40) scale(1.04,1)" text-anchor="end" font-size="10.0" fill="#111">2</text>
<line x1="35.00" y1="341.00" x2="38.50" y2="341.00" stroke="#3c3c3c" stroke-width="1.1"/>
<text transform="translate(31.00,344.30) scale(1.04,1)" text-anchor="end" font-size="10.0" fill="#111">1.5</text>
<line x1="35.00" y1="382.00" x2="38.50" y2="382.00" stroke="#3c3c3c" stroke-width="1.1"/>
<text transform="translate(31.00,385.30) scale(1.04,1)" text-anchor="end" font-size="10.0" fill="#111">1</text>
<line x1="35.00" y1="422.00" x2="38.50" y2="422.00" stroke="#3c3c3c" stroke-width="1.1"/>
<text transform="translate(31.00,425.30) scale(1.04,1)" text-anchor="end" font-size="10.0" fill="#111">0.5</text>
<line x1="35.00" y1="462.50" x2="38.50" y2="462.50" stroke="#3c3c3c" stroke-width="1.1"/>
<text transform="translate(31.00,465.80) scale(1.04,1)" text-anchor="end" font-size="10.0" fill="#111">0</text>
<line x1="35.00" y1="503.00" x2="38.50" y2="503.00" stroke="#3c3c3c" stroke-width="1.1"/>
<text transform="translate(31.00,506.30) scale(1.04,1)" text-anchor="end" font-size="10.0" fill="#111">-0.5</text>
<line x1="35.00" y1="543.10" x2="38.50" y2="543.10" stroke="#3c3c3c" stroke-width="1.1"/>
<text transform="translate(31.00,546.40) scale(1.04,1)" text-anchor="end" font-size="10.0" fill="#111">-1</text>
<line x1="38.50" y1="543.10" x2="38.50" y2="546.60" stroke="#3c3c3c" stroke-width="1.1"/>
<text transform="translate(39.40,558.90) scale(1.04,1)" text-anchor="middle" font-size="10.0" fill="#111">0</text>
<line x1="71.10" y1="543.10" x2="71.10" y2="546.60" stroke="#3c3c3c" stroke-width="1.1"/>
<text transform="translate(72.00,558.90) scale(1.04,1)" text-anchor="middle" font-size="10.0" fill="#111">10</text>
<line x1="103.70" y1="543.10" x2="103.70" y2="546.60" stroke="#3c3c3c" stroke-width="1.1"/>
<text transform="translate(104.60,558.90) scale(1.04,1)" text-anchor="middle" font-size="10.0" fill="#111">20</text>
<line x1="136.30" y1="543.10" x2="136.30" y2="546.60" stroke="#3c3c3c" stroke-width="1.1"/>
<text transform="translate(137.20,558.90) scale(1.04,1)" text-anchor="middle" font-size="10.0" fill="#111">30</text>
<line x1="168.90" y1="543.10" x2="168.90" y2="546.60" stroke="#3c3c3c" stroke-width="1.1"/>
<text transform="translate(169.80,558.90) scale(1.04,1)" text-anchor="middle" font-size="10.0" fill="#111">40</text>
<line x1="201.50" y1="543.10" x2="201.50" y2="546.60" stroke="#3c3c3c" stroke-width="1.1"/>
<text transform="translate(202.40,558.90) scale(1.04,1)" text-anchor="middle" font-size="10.0" fill="#111">50</text>
<line x1="234.10" y1="543.10" x2="234.10" y2="546.60" stroke="#3c3c3c" stroke-width="1.1"/>
<text transform="translate(235.00,558.90) scale(1.04,1)" text-anchor="middle" font-size="10.0" fill="#111">60</text>
<line x1="266.70" y1="543.10" x2="266.70" y2="546.60" stroke="#3c3c3c" stroke-width="1.1"/>
<text transform="translate(267.60,558.90) scale(1.04,1)" text-anchor="middle" font-size="10.0" fill="#111">70</text>
<line x1="299.30" y1="543.10" x2="299.30" y2="546.60" stroke="#3c3c3c" stroke-width="1.1"/>
<text transform="translate(300.20,558.90) scale(1.04,1)" text-anchor="middle" font-size="10.0" fill="#111">80</text>
<line x1="331.90" y1="543.10" x2="331.90" y2="546.60" stroke="#3c3c3c" stroke-width="1.1"/>
<text transform="translate(332.80,558.90) scale(1.04,1)" text-anchor="middle" font-size="10.0" fill="#111">90</text>
<text x="190.20" y="577.60" text-anchor="middle" font-size="11.2" fill="#111" textLength="73.5" lengthAdjust="spacing">Elevation [deg]</text>
<text transform="translate(9.70,419.50) rotate(-90)" x="0" y="0" text-anchor="middle" font-size="11.2" fill="#111" textLength="103.3" lengthAdjust="spacing">Multipath L2 L2C [m]</text>
<path d="M52.2 462.5 L53.2 459.6 L54.1 456.7 L55.1 453.9 L56.1 453.2 L57.1 455.0 L58.1 456.3 L59.0 455.9 L60.0 454.1 L61.0 452.4 L62.0 452.5 L62.9 454.8 L63.9 457.2 L64.9 456.7 L65.9 453.4 L66.9 450.5 L67.8 450.1 L68.8 452.0 L69.8 453.9 L70.8 454.4 L71.8 454.8 L72.7 456.2 L73.7 457.4 L74.7 457.2 L75.7 456.0 L76.6 454.7 L77.6 453.9 L78.6 454.1 L79.6 454.9 L80.6 455.6 L81.5 456.5 L82.5 457.6 L83.5 457.2 L84.5 455.6 L85.4 454.7 L86.4 455.1 L87.4 455.9 L88.4 456.5 L89.4 456.6 L90.3 456.1 L91.3 455.1 L92.3 454.5 L93.3 454.8 L94.2 456.0 L95.2 457.7 L96.2 459.0 L97.2 459.1 L98.2 458.3 L99.1 457.3 L100.1 456.4 L101.1 455.1 L102.1 453.8 L103.0 454.2 L104.0 456.0 L105.0 458.0 L106.0 459.6 L107.0 460.0 L107.9 459.4 L108.9 459.3 L109.9 459.9 L110.9 460.1 L111.8 459.8 L112.8 459.6 L113.8 458.6 L114.8 457.2 L115.8 456.6 L116.7 457.4 L117.7 458.7 L118.7 459.9 L119.7 461.0 L120.7 461.8 L121.6 461.5 L122.6 460.6 L123.6 460.2 L124.6 460.0 L125.5 459.4 L126.5 458.6 L127.5 459.0 L128.5 460.6 L129.5 462.1 L130.4 462.5 L131.4 461.6 L132.4 460.0 L133.4 459.2 L134.3 459.7 L135.3 460.2 L136.3 459.9 L137.3 460.0 L138.3 461.5 L139.2 463.7 L140.2 464.5 L141.2 464.0 L142.2 463.6 L143.1 463.2 L144.1 462.8 L145.1 463.4 L146.1 464.5 L147.1 464.5 L148.0 463.9 L149.0 464.4 L150.0 465.5 L151.0 465.3 L151.9 464.2 L152.9 464.8 L153.9 468.2 L154.9 470.8 L155.9 469.6 L156.8 465.8 L157.8 462.5 L158.8 461.8 L159.8 463.4 L160.7 465.0 L161.7 465.7 L162.7 466.1 L163.7 466.3 L164.7 466.3 L165.6 466.9 L166.6 468.6 L167.6 469.9 L168.6 470.0 L169.6 470.1 L170.5 470.4 L171.5 469.6 L172.5 467.4 L173.5 465.5 L174.4 465.0 L175.4 466.1 L176.4 469.0 L177.4 472.7 L178.4 474.9 L179.3 475.1 L180.3 474.7 L181.3 474.2 L182.3 474.1 L183.2 475.0 L184.2 476.3 L185.2 476.8 L186.2 475.4 L187.2 473.7 L188.1 473.2 L189.1 473.5 L190.1 474.1 L191.1 474.8 L192.0 475.2 L193.0 475.8 L194.0 477.5 L195.0 480.2 L196.0 482.5 L196.9 482.9 L197.9 481.8 L198.9 480.8 L199.9 480.9 L200.8 481.2 L201.8 480.9 L202.8 480.5 L203.8 480.8 L204.8 482.0 L205.7 483.6 L206.7 483.9 L207.7 483.4 L208.7 483.9 L209.6 485.3 L210.6 486.0 L211.6 485.5 L212.6 484.7 L213.6 484.9 L214.5 485.9 L215.5 486.6 L216.5 487.0 L217.5 487.3 L218.5 487.4 L219.4 487.2 L220.4 486.5 L221.4 485.6 L222.4 485.4 L223.3 486.5 L224.3 488.8 L225.3 490.7 L226.3 490.4 L227.3 489.0 L228.2 487.6 L229.2 486.7 L230.2 486.9 L231.2 488.1 L232.1 489.2 L233.1 489.3 L234.1 489.2 L235.1 490.1 L236.1 491.5 L237.0 491.2 L238.0 489.0 L239.0 487.1 L240.0 487.7 L240.9 489.4 L241.9 489.3 L242.9 487.8 L243.9 487.0 L244.9 487.3 L245.8 488.2 L246.8 489.5 L247.8 491.3 L248.8 492.6 L249.7 491.6 L250.7 488.8 L251.7 486.3 L252.7 485.7 L253.7 486.6 L254.6 487.5 L255.6 488.7 L256.6 490.2 L257.6 490.3 L258.5 488.6 L259.5 487.7 L260.5 488.7 L261.5 489.5 L262.5 488.6 L263.4 487.4 L264.4 486.9 L265.4 486.5 L266.4 485.5 L267.4 484.4 L268.3 484.0 L269.3 484.1 L270.3 484.5 L271.3 485.5 L272.2 486.6 L273.2 487.2 L274.2 487.8 L275.2 488.1 L276.2 487.1 L277.1 485.1 L278.1 482.9 L279.1 480.8 L280.1 480.1 L281.0 480.5 L282.0 480.4 L283.0 480.7 L284.0 482.7 L285.0 484.9 L285.9 486.3 L286.9 486.5 L287.9 485.4 L288.9 483.3 L289.8 481.4 L290.8 480.3 L291.8 480.2 L292.8 480.7 L293.8 481.2 L294.7 481.5 L295.7 481.7 L296.7 481.2 L297.7 479.9 L298.6 478.5 L299.6 477.2 L300.6 476.6 L301.6 477.8 L302.6 480.0 L303.5 481.0 L304.5 480.1 L305.5 478.8 L306.5 478.7 L307.4 479.4 L308.4 479.1 L309.4 477.3 L310.4 475.8 L311.4 476.5 L312.3 478.7 L313.3 479.9 L314.3 479.4 L315.3 478.1 L316.3 477.9 L317.2 478.6 L318.2 478.6 L319.2 477.7 L320.2 477.4 L321.1 478.1 L322.1 478.3 L323.1 477.7 L324.1 477.3 L325.1 478.0 L326.0 479.5 L327.0 480.7 L328.0 480.3 L329.0 478.7 L329.9 478.1 L330.9 479.3 L331.9 480.3" fill="none" stroke="#0000cc" stroke-width="1.9" stroke-linejoin="round" stroke-linecap="round" opacity="1"/>
<path d="M52.2 471.5 L53.2 467.4 L54.1 462.5 L55.1 457.7 L56.1 454.8 L57.1 454.2 L58.1 453.6 L59.0 453.7 L60.0 455.0 L61.0 455.6 L62.0 454.2 L62.9 452.0 L63.9 450.9 L64.9 451.6 L65.9 453.9 L66.9 457.3 L67.8 460.4 L68.8 461.9 L69.8 461.4 L70.8 460.0 L71.8 459.0 L72.7 458.4 L73.7 457.9 L74.7 458.0 L75.7 458.2 L76.6 457.3 L77.6 456.3 L78.6 457.2 L79.6 458.7 L80.6 458.5 L81.5 457.1 L82.5 456.2 L83.5 456.2 L84.5 457.4 L85.4 458.9 L86.4 459.6 L87.4 460.3 L88.4 461.1 L89.4 460.9 L90.3 459.8 L91.3 459.4 L92.3 459.6 L93.3 459.3 L94.2 457.7 L95.2 456.0 L96.2 455.3 L97.2 455.1 L98.2 454.9 L99.1 455.4 L100.1 456.7 L101.1 457.9 L102.1 458.6 L103.0 459.4 L104.0 460.9 L105.0 462.4 L106.0 462.9 L107.0 463.3 L107.9 463.9 L108.9 463.0 L109.9 461.5 L110.9 461.1 L111.8 461.4 L112.8 461.6 L113.8 462.4 L114.8 463.4 L115.8 463.8 L116.7 463.6 L117.7 462.7 L118.7 461.0 L119.7 459.4 L120.7 458.7 L121.6 458.7 L122.6 459.3 L123.6 460.4 L124.6 461.6 L125.5 462.6 L126.5 463.1 L127.5 463.6 L128.5 463.6 L129.5 462.8 L130.4 462.4 L131.4 463.7 L132.4 465.8 L133.4 466.3 L134.3 465.5 L135.3 465.7 L136.3 466.4 L137.3 466.1 L138.3 465.1 L139.2 464.2 L140.2 463.7 L141.2 463.5 L142.2 464.0 L143.1 464.6 L144.1 465.0 L145.1 465.6 L146.1 466.1 L147.1 466.1 L148.0 466.5 L149.0 467.8 L150.0 468.8 L151.0 468.9 L151.9 468.4 L152.9 468.1 L153.9 468.0 L154.9 467.3 L155.9 466.4 L156.8 466.0 L157.8 466.2 L158.8 466.3 L159.8 465.8 L160.7 465.6 L161.7 467.0 L162.7 468.5 L163.7 469.1 L164.7 469.5 L165.6 470.7 L166.6 472.3 L167.6 473.7 L168.6 474.2 L169.6 473.8 L170.5 472.8 L171.5 471.5 L172.5 470.8 L173.5 471.5 L174.4 472.3 L175.4 472.4 L176.4 472.9 L177.4 474.0 L178.4 475.0 L179.3 475.7 L180.3 476.1 L181.3 475.8 L182.3 475.7 L183.2 476.2 L184.2 476.4 L185.2 475.6 L186.2 475.1 L187.2 475.9 L188.1 477.1 L189.1 477.3 L190.1 477.1 L191.1 477.4 L192.0 478.8 L193.0 480.9 L194.0 482.2 L195.0 482.1 L196.0 481.2 L196.9 480.8 L197.9 481.5 L198.9 482.0 L199.9 482.3 L200.8 483.6 L201.8 485.2 L202.8 486.0 L203.8 485.7 L204.8 484.5 L205.7 483.9 L206.7 484.8 L207.7 486.5 L208.7 488.3 L209.6 489.7 L210.6 490.2 L211.6 490.4 L212.6 489.7 L213.6 488.3 L214.5 487.5 L215.5 486.9 L216.5 485.9 L217.5 485.6 L218.5 486.9 L219.4 488.6 L220.4 489.9 L221.4 490.7 L222.4 490.4 L223.3 489.5 L224.3 489.4 L225.3 490.5 L226.3 491.8 L227.3 492.8 L228.2 493.6 L229.2 493.8 L230.2 493.0 L231.2 491.3 L232.1 489.9 L233.1 488.8 L234.1 488.4 L235.1 489.3 L236.1 491.0 L237.0 492.2 L238.0 492.1 L239.0 491.7 L240.0 492.6 L240.9 494.0 L241.9 494.2 L242.9 493.0 L243.9 491.6 L244.9 490.6 L245.8 490.4 L246.8 490.6 L247.8 490.6 L248.8 490.6 L249.7 491.3 L250.7 492.1 L251.7 492.1 L252.7 491.8 L253.7 491.0 L254.6 489.8 L255.6 489.0 L256.6 489.1 L257.6 490.0 L258.5 490.8 L259.5 490.8 L260.5 490.8 L261.5 491.2 L262.5 491.7 L263.4 491.7 L264.4 490.4 L265.4 488.0 L266.4 486.4 L267.4 486.7 L268.3 487.8 L269.3 488.3 L270.3 487.9 L271.3 486.7 L272.2 485.4 L273.2 485.0 L274.2 485.3 L275.2 486.8 L276.2 488.9 L277.1 490.1 L278.1 489.9 L279.1 488.5 L280.1 486.7 L281.0 485.9 L282.0 486.4 L283.0 487.0 L284.0 486.3 L285.0 484.4 L285.9 482.9 L286.9 482.9 L287.9 483.6 L288.9 484.2 L289.8 484.7 L290.8 484.5 L291.8 483.7 L292.8 482.9 L293.8 482.6 L294.7 482.5 L295.7 482.6 L296.7 483.6 L297.7 484.7 L298.6 484.8 L299.6 483.7 L300.6 482.0 L301.6 480.6 L302.6 480.3 L303.5 481.0 L304.5 481.5 L305.5 481.7 L306.5 482.0 L307.4 482.0 L308.4 480.7 L309.4 479.6 L310.4 480.1 L311.4 480.5 L312.3 479.8 L313.3 479.3 L314.3 479.8 L315.3 481.1 L316.3 483.0 L317.2 484.0 L318.2 482.8 L319.2 480.1 L320.2 477.5 L321.1 476.5 L322.1 477.6 L323.1 480.2 L324.1 482.6 L325.1 483.2 L326.0 482.3 L327.0 482.0 L328.0 482.9 L329.0 482.8 L329.9 481.1 L330.9 480.1 L331.9 480.6" fill="none" stroke="#0000cc" stroke-width="1.9" stroke-linejoin="round" stroke-linecap="round" opacity="1"/>
<path d="M56.4 433.8 L57.4 438.5 L58.4 444.6 L59.4 449.4 L60.3 451.0 L61.3 449.9 L62.3 446.5 L63.3 443.5 L64.3 442.9 L65.2 444.4 L66.2 447.5 L67.2 449.6 L68.2 448.9 L69.1 447.9 L70.1 449.6 L71.1 452.2 L72.1 453.4 L73.1 452.9 L74.0 451.4 L75.0 450.5 L76.0 451.1 L77.0 452.3 L77.9 453.1 L78.9 453.8 L79.9 453.6 L80.9 451.2 L81.9 449.4 L82.8 449.4 L83.8 447.8 L84.8 447.7 L85.8 452.9 L86.7 456.5 L87.7 452.5 L88.7 446.2 L89.7 445.7 L90.7 449.7 L91.6 452.4 L92.6 454.5 L93.6 457.5 L94.6 458.1 L95.5 456.0 L96.5 454.2 L97.5 452.2 L98.5 448.8 L99.5 446.5 L100.4 448.9 L101.4 453.2 L102.4 454.5 L103.4 454.6 L104.4 456.2 L105.3 457.2 L106.3 458.5 L107.3 461.7 L108.3 463.8 L109.2 462.4 L110.2 459.0 L111.2 455.9 L112.2 454.1 L113.2 454.0 L114.1 454.9 L115.1 455.8 L116.1 457.0 L117.1 458.7 L118.0 458.0 L119.0 453.7 L120.0 449.4 L121.0 449.4 L122.0 454.8 L122.9 462.5 L123.9 469.7 L124.9 472.3 L125.9 467.7 L126.8 462.8 L127.8 463.0 L128.8 463.8 L129.8 461.6 L130.8 460.1 L131.7 460.4 L132.7 460.7 L133.7 460.9 L134.7 462.9 L135.6 465.7 L136.6 465.8 L137.6 463.7 L138.6 462.1 L139.6 460.7 L140.5 458.3 L141.5 456.8 L142.5 458.1 L143.5 460.5 L144.4 462.0 L145.4 464.3 L146.4 467.0 L147.4 467.7 L148.4 467.8 L149.3 468.7 L150.3 469.6 L151.3 469.1 L152.3 466.9 L153.3 465.8 L154.2 467.0 L155.2 466.9 L156.2 464.7 L157.2 463.9 L158.1 465.0 L159.1 466.0 L160.1 466.1 L161.1 466.2 L162.1 467.9 L163.0 471.6 L164.0 475.6 L165.0 475.7 L166.0 470.3 L166.9 464.3 L167.9 461.8 L168.9 462.4 L169.9 465.6 L170.9 470.2 L171.8 472.4 L172.8 470.2 L173.8 467.0 L174.8 468.7 L175.7 473.4 L176.7 474.9 L177.7 473.8 L178.7 474.2 L179.7 475.7 L180.6 475.9 L181.6 472.8 L182.6 469.6 L183.6 470.7 L184.5 474.5 L185.5 477.6 L186.5 478.3 L187.5 475.9 L188.5 472.4 L189.4 472.9 L190.4 478.8 L191.4 485.0 L192.4 486.0 L193.3 484.5 L194.3 485.0 L195.3 483.8 L196.3 478.1 L197.3 475.8 L198.2 479.8 L199.2 481.3 L200.2 480.9 L201.2 483.8 L202.2 486.4 L203.1 485.6 L204.1 484.7 L205.1 485.7 L206.1 488.5 L207.0 490.4 L208.0 488.4 L209.0 485.8 L210.0 485.3 L211.0 484.3 L211.9 482.5 L212.9 482.5 L213.9 486.1 L214.9 491.2 L215.8 495.2 L216.8 496.2 L217.8 496.2 L218.8 497.3 L219.8 498.0 L220.7 496.7 L221.7 493.3 L222.7 490.5 L223.7 492.0 L224.6 495.2 L225.6 493.4 L226.6 487.9 L227.6 485.6 L228.6 489.8 L229.5 496.1 L230.5 497.3 L231.5 493.8 L232.5 491.5 L233.4 492.0 L234.4 493.8 L235.4 495.7 L236.4 496.5 L237.4 495.0 L238.3 493.4 L239.3 494.2 L240.3 497.8 L241.3 500.5 L242.2 496.5 L243.2 489.1 L244.2 485.5 L245.2 486.9 L246.2 491.5 L247.1 494.7 L248.1 493.9 L249.1 493.6 L250.1 497.0 L251.1 500.2 L252.0 499.9 L253.0 496.9 L254.0 493.2 L255.0 490.6 L255.9 488.2 L256.9 486.1 L257.9 487.6 L258.9 492.6 L259.9 496.4 L260.8 495.4 L261.8 489.9 L262.8 486.4 L263.8 488.8 L264.7 492.5 L265.7 494.1 L266.7 495.7 L267.7 497.9 L268.7 497.2 L269.6 491.7 L270.6 485.4 L271.6 483.1 L272.6 484.6 L273.5 486.6 L274.5 487.3 L275.5 487.6 L276.5 488.9 L277.5 489.9 L278.4 489.6 L279.4 489.0 L280.4 488.3 L281.4 485.8 L282.3 482.9 L283.3 481.9 L284.3 483.5 L285.3 486.3 L286.3 487.9 L287.2 488.1 L288.2 488.3 L289.2 488.6 L290.2 488.3 L291.1 487.8 L292.1 486.9 L293.1 485.6 L294.1 484.0 L295.1 480.7 L296.0 477.1 L297.0 476.7 L298.0 478.8 L299.0 479.3 L300.0 476.9 L300.9 473.6 L301.9 473.3 L302.9 476.7 L303.9 480.5 L304.8 481.6 L305.8 480.5 L306.8 479.7 L307.8 479.4 L308.8 480.8 L309.7 484.8 L310.7 487.7 L311.7 486.9 L312.7 484.3 L313.6 482.3 L314.6 482.2 L315.6 482.9 L316.6 481.7 L317.6 478.5 L318.5 477.9 L319.5 479.1 L320.5 477.6 L321.5 475.3 L322.4 475.6 L323.4 477.1 L324.4 478.3 L325.4 481.2 L326.4 486.0 L327.3 487.8 L328.3 484.0 L329.3 478.1 L330.3 475.5 L331.2 476.3" fill="none" stroke="#2f6bff" stroke-width="1.5" stroke-linejoin="round" stroke-linecap="round" opacity="1"/>
<path d="M56.4 432.9 L57.4 440.2 L58.4 447.0 L59.4 449.7 L60.3 449.8 L61.3 449.7 L62.3 450.6 L63.3 452.1 L64.3 453.0 L65.2 453.6 L66.2 452.0 L67.2 449.2 L68.2 448.5 L69.1 448.2 L70.1 447.5 L71.1 449.9 L72.1 454.0 L73.1 455.8 L74.0 455.7 L75.0 455.7 L76.0 456.3 L77.0 456.5 L77.9 454.7 L78.9 450.5 L79.9 447.5 L80.9 449.9 L81.9 457.5 L82.8 463.8 L83.8 462.1 L84.8 454.0 L85.8 446.7 L86.7 445.4 L87.7 449.4 L88.7 455.0 L89.7 457.3 L90.7 455.4 L91.6 453.5 L92.6 453.6 L93.6 452.9 L94.6 452.4 L95.5 455.2 L96.5 458.7 L97.5 459.3 L98.5 455.8 L99.5 451.8 L100.4 454.0 L101.4 460.9 L102.4 462.4 L103.4 455.7 L104.4 450.5 L105.3 451.5 L106.3 454.8 L107.3 460.3 L108.3 466.8 L109.2 467.5 L110.2 461.9 L111.2 458.6 L112.2 459.9 L113.2 461.6 L114.1 462.9 L115.1 463.4 L116.1 461.0 L117.1 457.2 L118.0 456.9 L119.0 459.1 L120.0 460.2 L121.0 460.3 L122.0 460.8 L122.9 461.6 L123.9 461.6 L124.9 460.8 L125.9 460.6 L126.8 462.8 L127.8 466.5 L128.8 467.3 L129.8 463.6 L130.8 459.7 L131.7 460.7 L132.7 465.5 L133.7 470.2 L134.7 472.4 L135.6 471.4 L136.6 468.2 L137.6 464.1 L138.6 461.3 L139.6 460.9 L140.5 461.2 L141.5 462.1 L142.5 464.4 L143.5 466.7 L144.4 467.5 L145.4 467.5 L146.4 467.7 L147.4 468.5 L148.4 469.6 L149.3 469.1 L150.3 467.8 L151.3 468.0 L152.3 468.7 L153.3 469.3 L154.2 471.4 L155.2 473.9 L156.2 474.0 L157.2 470.4 L158.1 465.6 L159.1 466.0 L160.1 470.7 L161.1 470.3 L162.1 466.2 L163.0 465.2 L164.0 466.7 L165.0 466.9 L166.0 467.0 L166.9 469.8 L167.9 472.6 L168.9 472.4 L169.9 469.8 L170.9 469.4 L171.8 472.9 L172.8 477.9 L173.8 481.3 L174.8 479.4 L175.7 473.9 L176.7 468.7 L177.7 466.5 L178.7 467.5 L179.7 471.4 L180.6 478.2 L181.6 483.7 L182.6 484.1 L183.6 481.1 L184.5 478.3 L185.5 478.3 L186.5 479.7 L187.5 479.7 L188.5 478.2 L189.4 477.2 L190.4 478.3 L191.4 479.5 L192.4 480.6 L193.3 486.0 L194.3 493.6 L195.3 495.2 L196.3 486.6 L197.3 476.1 L198.2 472.5 L199.2 475.8 L200.2 482.2 L201.2 488.3 L202.2 490.8 L203.1 490.7 L204.1 491.9 L205.1 493.4 L206.1 491.6 L207.0 488.4 L208.0 488.8 L209.0 492.2 L210.0 493.6 L211.0 490.6 L211.9 485.9 L212.9 483.5 L213.9 485.4 L214.9 489.2 L215.8 491.5 L216.8 492.9 L217.8 496.2 L218.8 498.8 L219.8 499.8 L220.7 500.7 L221.7 501.0 L222.7 500.0 L223.7 497.1 L224.6 492.7 L225.6 488.1 L226.6 485.5 L227.6 487.0 L228.6 491.5 L229.5 493.0 L230.5 492.4 L231.5 497.1 L232.5 502.5 L233.4 501.8 L234.4 500.4 L235.4 501.2 L236.4 501.4 L237.4 500.6 L238.3 499.9 L239.3 498.9 L240.3 498.2 L241.3 497.1 L242.2 494.8 L243.2 492.0 L244.2 491.4 L245.2 494.7 L246.2 497.4 L247.1 494.1 L248.1 488.6 L249.1 488.2 L250.1 491.9 L251.1 494.7 L252.0 496.9 L253.0 500.2 L254.0 503.2 L255.0 502.1 L255.9 496.8 L256.9 491.8 L257.9 490.7 L258.9 492.0 L259.9 492.3 L260.8 493.0 L261.8 497.3 L262.8 501.3 L263.8 498.7 L264.7 492.5 L265.7 489.3 L266.7 490.1 L267.7 492.7 L268.7 494.2 L269.6 492.1 L270.6 490.7 L271.6 492.3 L272.6 494.7 L273.5 495.0 L274.5 493.1 L275.5 491.3 L276.5 489.9 L277.5 488.2 L278.4 487.9 L279.4 489.3 L280.4 490.9 L281.4 491.6 L282.3 491.6 L283.3 491.1 L284.3 490.3 L285.3 490.2 L286.3 490.8 L287.2 491.5 L288.2 490.7 L289.2 486.7 L290.2 481.5 L291.1 480.1 L292.1 482.9 L293.1 484.5 L294.1 483.3 L295.1 480.5 L296.0 478.1 L297.0 479.7 L298.0 486.0 L299.0 490.7 L300.0 490.2 L300.9 487.9 L301.9 484.4 L302.9 479.9 L303.9 478.1 L304.8 478.9 L305.8 479.6 L306.8 480.4 L307.8 481.4 L308.8 482.1 L309.7 482.9 L310.7 484.4 L311.7 484.9 L312.7 485.0 L313.6 485.5 L314.6 484.0 L315.6 480.6 L316.6 478.7 L317.6 481.1 L318.5 484.5 L319.5 482.9 L320.5 478.9 L321.5 477.3 L322.4 479.8 L323.4 484.2 L324.4 486.2 L325.4 484.0 L326.4 480.7 L327.3 479.8 L328.3 481.4 L329.3 484.8 L330.3 487.7 L331.2 487.6" fill="none" stroke="#2f6bff" stroke-width="1.5" stroke-linejoin="round" stroke-linecap="round" opacity="1"/>
<path d="M54.6 450.3 L54.6 411.6 L55.1 418.1 L55.8 424.5 L56.8 430.2 L58.1 434.2 L59.7 437.4 L62.0 440.7" fill="none" stroke="#2f6bff" stroke-width="1.4" stroke-linejoin="round" stroke-linecap="round"/>
<path d="M52.8 454.4 L52.8 432.6 L54.8 442.3" fill="none" stroke="#2f6bff" stroke-width="1.2" stroke-linejoin="round" stroke-linecap="round"/>
<path d="M55.1 446.3 L55.1 470.5" fill="none" stroke="#2f6bff" stroke-width="1.2" stroke-linejoin="round" stroke-linecap="round"/>
<path d="M54.8 450.2 L55.8 449.5 L56.8 451.0 L57.7 451.1 L58.7 446.5 L59.7 441.4 L60.7 440.5 L61.6 440.0 L62.6 437.0 L63.6 438.0 L64.6 443.6 L65.6 446.4 L66.5 446.1 L67.5 446.0 L68.5 444.1 L69.5 441.3 L70.4 442.2 L71.4 446.5 L72.4 449.3 L73.4 448.9 L74.4 447.0 L75.3 445.6 L76.3 444.2 L77.3 442.7 L78.3 443.8 L79.2 448.4 L80.2 453.6 L81.2 454.2 L82.2 450.9 L83.2 447.8 L84.1 445.6 L85.1 443.5 L86.1 444.3 L87.1 446.3 L88.1 446.8 L89.0 446.2 L90.0 446.4 L91.0 447.0 L92.0 447.4 L92.9 449.1 L93.9 450.5 L94.9 451.1 L95.9 450.8 L96.9 449.3 L97.8 448.0 L98.8 448.7 L99.8 451.3 L100.8 451.5 L101.7 448.1 L102.7 444.8 L103.7 444.8 L104.7 446.5 L105.7 448.0 L106.6 451.6 L107.6 454.9 L108.6 453.7 L109.6 451.5 L110.5 450.5 L111.5 449.4 L112.5 450.7 L113.5 453.4 L114.5 455.7 L115.4 458.3 L116.4 458.8 L117.4 456.9 L118.4 455.8 L119.3 458.0 L120.3 459.2 L121.3 457.9 L122.3 458.4 L123.3 459.8 L124.2 458.8 L125.2 457.2 L126.2 457.9 L127.2 456.7 L128.1 452.8 L129.1 451.5 L130.1 451.8 L131.1 453.4 L132.1 457.6 L133.0 462.7 L134.0 463.7 L135.0 461.3 L136.0 459.9 L137.0 459.7 L137.9 462.2 L138.9 465.8 L139.9 463.5 L140.9 459.6 L141.8 460.2 L142.8 461.3 L143.8 460.8 L144.8 461.2 L145.8 463.4 L146.7 465.5 L147.7 465.2 L148.7 463.3 L149.7 462.1 L150.6 463.5 L151.6 464.4 L152.6 463.0 L153.6 461.0 L154.6 460.8 L155.5 462.5 L156.5 465.2 L157.5 467.1 L158.5 467.2 L159.4 466.2 L160.4 466.6 L161.4 468.3 L162.4 467.7 L163.4 465.0 L164.3 464.6 L165.3 466.8 L166.3 468.7 L167.3 468.3 L168.2 466.8 L169.2 466.9 L170.2 468.0 L171.2 468.4 L172.2 468.0 L173.1 467.8 L174.1 469.5 L175.1 472.2 L176.1 472.8 L177.0 471.8 L178.0 469.4 L179.0 469.9 L180.0 475.4 L181.0 479.3 L181.9 479.8 L182.9 476.9 L183.9 471.8 L184.9 470.2 L185.9 470.8 L186.8 471.7 L187.8 472.4 L188.8 474.4 L189.8 477.6 L190.7 480.1 L191.7 481.8 L192.7 481.1 L193.7 480.4 L194.7 482.6 L195.6 481.6 L196.6 478.3 L197.6 479.2 L198.6 480.1 L199.5 480.8 L200.5 483.7 L201.5 483.9 L202.5 481.5 L203.5 482.4 L204.4 485.0 L205.4 486.9 L206.4 489.1 L207.4 490.7 L208.3 488.0 L209.3 484.4 L210.3 484.8 L211.3 486.2 L212.3 483.9 L213.2 481.6 L214.2 483.6 L215.2 487.6 L216.2 492.0 L217.1 493.8 L218.1 492.5 L219.1 492.6 L220.1 492.5 L221.1 490.7 L222.0 489.2 L223.0 487.4 L224.0 486.0 L225.0 487.4 L225.9 490.3 L226.9 491.7 L227.9 493.0 L228.9 497.8 L229.9 500.8 L230.8 496.9 L231.8 490.6 L232.8 486.8 L233.8 485.9 L234.8 487.2 L235.7 489.2 L236.7 491.6 L237.7 494.1 L238.7 494.8 L239.6 493.8 L240.6 493.3 L241.6 493.7 L242.6 492.5 L243.6 490.5 L244.5 490.3 L245.5 491.7 L246.5 494.4 L247.5 497.7 L248.4 498.4 L249.4 494.5 L250.4 489.0 L251.4 486.9 L252.4 487.8 L253.3 489.6 L254.3 494.6 L255.3 499.8 L256.3 497.6 L257.2 490.4 L258.2 486.2 L259.2 485.5 L260.2 484.9 L261.2 486.8 L262.1 492.3 L263.1 497.3 L264.1 497.6 L265.1 494.4 L266.0 491.4 L267.0 489.4 L268.0 487.6 L269.0 486.9 L270.0 487.3 L270.9 488.2 L271.9 491.8 L272.9 496.1 L273.9 494.9 L274.8 489.0 L275.8 485.4 L276.8 485.9 L277.8 486.8 L278.8 486.1 L279.7 486.1 L280.7 489.2 L281.7 491.2 L282.7 487.7 L283.7 482.9 L284.6 480.3 L285.6 481.5 L286.6 486.5 L287.6 485.5 L288.5 481.2 L289.5 486.2 L290.5 492.0 L291.5 489.2 L292.5 485.2 L293.4 485.1 L294.4 483.8 L295.4 479.0 L296.4 475.8 L297.3 477.7 L298.3 481.4 L299.3 481.5 L300.3 477.2 L301.3 476.1 L302.2 482.4 L303.2 486.4 L304.2 483.6 L305.2 479.3 L306.1 478.7 L307.1 480.4 L308.1 479.8 L309.1 476.7 L310.1 475.1 L311.0 475.9 L312.0 477.5 L313.0 478.4 L314.0 477.7 L314.9 476.6 L315.9 478.5 L316.9 480.3 L317.9 480.0 L318.9 480.3 L319.8 480.3 L320.8 478.6 L321.8 475.6 L322.8 473.1 L323.7 473.7 L324.7 476.0 L325.7 480.6 L326.7 485.5 L327.7 485.4 L328.6 481.4 L329.6 478.5 L330.6 476.9 L331.6 476.9" fill="none" stroke="#ff1010" stroke-width="2.1" stroke-linejoin="round" stroke-linecap="round" opacity="1"/>
<path d="M54.8 466.9 L55.8 459.0 L56.8 447.3 L57.7 440.0 L58.7 441.4 L59.7 445.9 L60.7 448.2 L61.6 447.3 L62.6 445.1 L63.6 445.0 L64.6 445.7 L65.6 444.8 L66.5 444.4 L67.5 446.8 L68.5 449.6 L69.5 450.4 L70.4 451.9 L71.4 454.4 L72.4 454.4 L73.4 451.9 L74.4 450.1 L75.3 449.3 L76.3 448.3 L77.3 446.6 L78.3 446.5 L79.2 450.0 L80.2 454.4 L81.2 453.8 L82.2 448.8 L83.2 446.0 L84.1 446.8 L85.1 451.0 L86.1 455.0 L87.1 456.3 L88.1 455.7 L89.0 452.3 L90.0 447.6 L91.0 444.3 L92.0 443.8 L92.9 447.5 L93.9 452.4 L94.9 455.6 L95.9 455.9 L96.9 454.8 L97.8 454.7 L98.8 454.9 L99.8 454.7 L100.8 453.3 L101.7 452.7 L102.7 454.8 L103.7 454.6 L104.7 452.3 L105.7 453.3 L106.6 456.3 L107.6 455.4 L108.6 450.5 L109.6 449.5 L110.5 453.6 L111.5 457.5 L112.5 459.9 L113.5 460.6 L114.5 458.4 L115.4 455.8 L116.4 456.5 L117.4 458.8 L118.4 460.5 L119.3 463.2 L120.3 464.1 L121.3 460.9 L122.3 457.6 L123.3 457.6 L124.2 459.3 L125.2 459.2 L126.2 459.3 L127.2 461.2 L128.1 462.8 L129.1 462.6 L130.1 461.8 L131.1 463.2 L132.1 465.8 L133.0 465.8 L134.0 463.2 L135.0 461.0 L136.0 461.4 L137.0 462.8 L137.9 462.6 L138.9 462.3 L139.9 465.0 L140.9 467.5 L141.8 467.1 L142.8 465.9 L143.8 466.4 L144.8 467.7 L145.8 467.4 L146.7 465.8 L147.7 465.6 L148.7 467.6 L149.7 469.4 L150.6 468.6 L151.6 467.3 L152.6 466.9 L153.6 466.1 L154.6 466.6 L155.5 468.6 L156.5 469.8 L157.5 468.9 L158.5 468.5 L159.4 467.9 L160.4 466.2 L161.4 465.6 L162.4 466.9 L163.4 468.4 L164.3 471.2 L165.3 475.0 L166.3 476.9 L167.3 475.7 L168.2 472.7 L169.2 469.8 L170.2 468.2 L171.2 468.7 L172.2 471.1 L173.1 472.1 L174.1 470.8 L175.1 472.3 L176.1 476.3 L177.0 478.0 L178.0 477.1 L179.0 475.6 L180.0 474.1 L181.0 475.7 L181.9 478.3 L182.9 477.0 L183.9 476.3 L184.9 480.2 L185.9 483.8 L186.8 483.5 L187.8 479.1 L188.8 475.8 L189.8 477.6 L190.7 480.8 L191.7 482.6 L192.7 483.0 L193.7 481.9 L194.7 480.7 L195.6 483.9 L196.6 490.3 L197.6 491.0 L198.6 485.8 L199.5 484.3 L200.5 487.3 L201.5 487.9 L202.5 486.1 L203.5 485.4 L204.4 486.4 L205.4 487.7 L206.4 488.2 L207.4 488.3 L208.3 489.6 L209.3 491.6 L210.3 492.7 L211.3 492.0 L212.3 490.2 L213.2 489.5 L214.2 490.2 L215.2 490.5 L216.2 490.6 L217.1 493.4 L218.1 498.8 L219.1 501.7 L220.1 499.0 L221.1 493.3 L222.0 488.8 L223.0 487.9 L224.0 488.7 L225.0 490.7 L225.9 494.4 L226.9 496.0 L227.9 495.7 L228.9 496.3 L229.9 496.7 L230.8 496.1 L231.8 495.6 L232.8 496.7 L233.8 497.9 L234.8 495.4 L235.7 493.5 L236.7 495.9 L237.7 497.5 L238.7 496.3 L239.6 494.9 L240.6 494.7 L241.6 494.8 L242.6 494.6 L243.6 496.2 L244.5 498.5 L245.5 497.4 L246.5 496.4 L247.5 498.1 L248.4 498.0 L249.4 495.8 L250.4 494.6 L251.4 493.2 L252.4 492.0 L253.3 493.7 L254.3 496.7 L255.3 497.9 L256.3 499.3 L257.2 499.4 L258.2 495.9 L259.2 493.0 L260.2 492.6 L261.2 492.1 L262.1 492.5 L263.1 494.8 L264.1 496.8 L265.1 497.4 L266.0 499.0 L267.0 499.5 L268.0 495.9 L269.0 491.1 L270.0 488.7 L270.9 489.2 L271.9 491.2 L272.9 492.7 L273.9 493.8 L274.8 493.5 L275.8 492.7 L276.8 493.9 L277.8 494.9 L278.8 492.6 L279.7 489.1 L280.7 486.7 L281.7 487.7 L282.7 490.4 L283.7 490.8 L284.6 488.5 L285.6 488.3 L286.6 490.9 L287.6 492.2 L288.5 490.5 L289.5 488.2 L290.5 488.4 L291.5 488.4 L292.5 486.1 L293.4 481.9 L294.4 480.6 L295.4 483.6 L296.4 487.1 L297.3 487.8 L298.3 486.5 L299.3 486.2 L300.3 485.8 L301.3 483.7 L302.2 483.2 L303.2 484.1 L304.2 483.4 L305.2 481.5 L306.1 480.7 L307.1 481.6 L308.1 483.2 L309.1 482.6 L310.1 479.9 L311.0 480.1 L312.0 481.7 L313.0 482.4 L314.0 484.1 L314.9 486.7 L315.9 488.3 L316.9 487.1 L317.9 484.7 L318.9 481.6 L319.8 478.8 L320.8 478.8 L321.8 479.6 L322.8 478.0 L323.7 477.2 L324.7 480.7 L325.7 485.4 L326.7 486.4 L327.7 485.8 L328.6 485.8 L329.6 483.7 L330.6 479.7 L331.6 475.8" fill="none" stroke="#ff1010" stroke-width="2.1" stroke-linejoin="round" stroke-linecap="round" opacity="1"/>
<path d="M38.50 543.10 L38.50 301.10 L331.90 301.10 L331.90 543.10 Z" fill="none" stroke="#3c3c3c" stroke-width="1.3"/>
<rect x="60.20" y="318.40" width="137.90" height="34.10" fill="#fff" stroke="#555" stroke-width="0.9"/>
<line x1="66.10" y1="324.10" x2="79.50" y2="324.10" stroke="#0000cc" stroke-width="1.7"/>
<circle cx="72.80" cy="324.10" r="1.0" fill="#0000cc"/>
<text x="81.20" y="327.40" font-size="8.4" fill="#111" textLength="30.50" lengthAdjust="spacingAndGlyphs">DG3TH</text>
<text x="116.90" y="327.40" font-size="8.4" fill="#111" textLength="76.00" lengthAdjust="spacingAndGlyphs">(0.1ch E-L, 12 Apr)</text>
<line x1="66.10" y1="335.20" x2="79.50" y2="335.20" stroke="#2f6bff" stroke-width="1.1"/>
<circle cx="72.80" cy="335.20" r="1.0" fill="#2f6bff"/>
<text x="81.20" y="338.50" font-size="8.4" fill="#111" textLength="30.50" lengthAdjust="spacingAndGlyphs">DG3TH</text>
<text x="116.90" y="338.50" font-size="8.4" fill="#111" textLength="76.00" lengthAdjust="spacingAndGlyphs">(1.0ch E-L, 12 Apr)</text>
<line x1="66.10" y1="346.30" x2="79.50" y2="346.30" stroke="#ff1010" stroke-width="1.1"/>
<circle cx="72.80" cy="346.30" r="1.0" fill="#ff1010"/>
<text x="81.20" y="349.60" font-size="8.4" fill="#111" textLength="26.70" lengthAdjust="spacingAndGlyphs">OEMV</text>
<text x="115.30" y="349.60" font-size="8.4" fill="#111" textLength="76.10" lengthAdjust="spacingAndGlyphs">(1.0ch E-L, 12 Apr)</text>
<line x1="383.30" y1="339.80" x2="676.90" y2="339.80" stroke="#727272" stroke-width="1.05"/>
<line x1="383.30" y1="380.30" x2="676.90" y2="380.30" stroke="#727272" stroke-width="1.05"/>
<line x1="383.30" y1="420.50" x2="676.90" y2="420.50" stroke="#727272" stroke-width="1.05"/>
<line x1="383.30" y1="461.00" x2="676.90" y2="461.00" stroke="#727272" stroke-width="1.05"/>
<line x1="383.30" y1="501.40" x2="676.90" y2="501.40" stroke="#727272" stroke-width="1.05"/>
<line x1="379.80" y1="299.20" x2="383.30" y2="299.20" stroke="#3c3c3c" stroke-width="1.1"/>
<text transform="translate(375.80,302.50) scale(1.04,1)" text-anchor="end" font-size="10.0" fill="#111">2</text>
<line x1="379.80" y1="339.80" x2="383.30" y2="339.80" stroke="#3c3c3c" stroke-width="1.1"/>
<text transform="translate(375.80,343.10) scale(1.04,1)" text-anchor="end" font-size="10.0" fill="#111">1.5</text>
<line x1="379.80" y1="380.30" x2="383.30" y2="380.30" stroke="#3c3c3c" stroke-width="1.1"/>
<text transform="translate(375.80,383.60) scale(1.04,1)" text-anchor="end" font-size="10.0" fill="#111">1</text>
<line x1="379.80" y1="420.50" x2="383.30" y2="420.50" stroke="#3c3c3c" stroke-width="1.1"/>
<text transform="translate(375.80,423.80) scale(1.04,1)" text-anchor="end" font-size="10.0" fill="#111">0.5</text>
<line x1="379.80" y1="461.00" x2="383.30" y2="461.00" stroke="#3c3c3c" stroke-width="1.1"/>
<text transform="translate(375.80,464.30) scale(1.04,1)" text-anchor="end" font-size="10.0" fill="#111">0</text>
<line x1="379.80" y1="501.40" x2="383.30" y2="501.40" stroke="#3c3c3c" stroke-width="1.1"/>
<text transform="translate(375.80,504.70) scale(1.04,1)" text-anchor="end" font-size="10.0" fill="#111">-0.5</text>
<line x1="379.80" y1="541.40" x2="383.30" y2="541.40" stroke="#3c3c3c" stroke-width="1.1"/>
<text transform="translate(375.80,544.70) scale(1.04,1)" text-anchor="end" font-size="10.0" fill="#111">-1</text>
<line x1="383.30" y1="541.40" x2="383.30" y2="544.90" stroke="#3c3c3c" stroke-width="1.1"/>
<text transform="translate(384.20,557.20) scale(1.04,1)" text-anchor="middle" font-size="10.0" fill="#111">0</text>
<line x1="415.92" y1="541.40" x2="415.92" y2="544.90" stroke="#3c3c3c" stroke-width="1.1"/>
<text transform="translate(416.82,557.20) scale(1.04,1)" text-anchor="middle" font-size="10.0" fill="#111">10</text>
<line x1="448.54" y1="541.40" x2="448.54" y2="544.90" stroke="#3c3c3c" stroke-width="1.1"/>
<text transform="translate(449.44,557.20) scale(1.04,1)" text-anchor="middle" font-size="10.0" fill="#111">20</text>
<line x1="481.17" y1="541.40" x2="481.17" y2="544.90" stroke="#3c3c3c" stroke-width="1.1"/>
<text transform="translate(482.07,557.20) scale(1.04,1)" text-anchor="middle" font-size="10.0" fill="#111">30</text>
<line x1="513.79" y1="541.40" x2="513.79" y2="544.90" stroke="#3c3c3c" stroke-width="1.1"/>
<text transform="translate(514.69,557.20) scale(1.04,1)" text-anchor="middle" font-size="10.0" fill="#111">40</text>
<line x1="546.41" y1="541.40" x2="546.41" y2="544.90" stroke="#3c3c3c" stroke-width="1.1"/>
<text transform="translate(547.31,557.20) scale(1.04,1)" text-anchor="middle" font-size="10.0" fill="#111">50</text>
<line x1="579.03" y1="541.40" x2="579.03" y2="544.90" stroke="#3c3c3c" stroke-width="1.1"/>
<text transform="translate(579.93,557.20) scale(1.04,1)" text-anchor="middle" font-size="10.0" fill="#111">60</text>
<line x1="611.66" y1="541.40" x2="611.66" y2="544.90" stroke="#3c3c3c" stroke-width="1.1"/>
<text transform="translate(612.56,557.20) scale(1.04,1)" text-anchor="middle" font-size="10.0" fill="#111">70</text>
<line x1="644.28" y1="541.40" x2="644.28" y2="544.90" stroke="#3c3c3c" stroke-width="1.1"/>
<text transform="translate(645.18,557.20) scale(1.04,1)" text-anchor="middle" font-size="10.0" fill="#111">80</text>
<line x1="676.90" y1="541.40" x2="676.90" y2="544.90" stroke="#3c3c3c" stroke-width="1.1"/>
<text transform="translate(677.80,557.20) scale(1.04,1)" text-anchor="middle" font-size="10.0" fill="#111">90</text>
<text x="535.10" y="575.90" text-anchor="middle" font-size="11.2" fill="#111" textLength="73.5" lengthAdjust="spacing">Elevation [deg]</text>
<text transform="translate(354.00,419.30) rotate(-90)" x="0" y="0" text-anchor="middle" font-size="11.2" fill="#111" textLength="89.4" lengthAdjust="spacing">Multipath L2 P [m]</text>
<path d="M399.6 450.8 L400.6 451.0 L401.6 451.3 L402.5 451.6 L403.5 451.7 L404.5 451.3 L405.5 450.7 L406.5 450.3 L407.4 450.4 L408.4 451.2 L409.4 452.2 L410.4 452.6 L411.4 452.7 L412.3 452.8 L413.3 452.8 L414.3 452.9 L415.3 453.0 L416.2 453.0 L417.2 453.1 L418.2 453.3 L419.2 453.6 L420.2 453.9 L421.1 454.1 L422.1 454.0 L423.1 453.7 L424.1 453.8 L425.1 453.8 L426.0 453.5 L427.0 453.3 L428.0 453.3 L429.0 453.3 L429.9 453.3 L430.9 453.4 L431.9 453.4 L432.9 453.2 L433.9 452.9 L434.8 453.2 L435.8 454.0 L436.8 454.8 L437.8 455.1 L438.8 455.3 L439.7 455.4 L440.7 455.5 L441.7 455.4 L442.7 455.2 L443.7 455.0 L444.6 454.9 L445.6 454.9 L446.6 455.0 L447.6 454.9 L448.5 454.8 L449.5 454.9 L450.5 455.3 L451.5 456.0 L452.5 456.4 L453.4 456.3 L454.4 455.9 L455.4 455.4 L456.4 455.3 L457.4 455.8 L458.3 456.6 L459.3 457.0 L460.3 457.0 L461.3 456.9 L462.2 456.9 L463.2 456.9 L464.2 456.8 L465.2 456.9 L466.2 457.4 L467.1 457.9 L468.1 457.7 L469.1 457.2 L470.1 456.9 L471.1 457.0 L472.0 457.4 L473.0 457.9 L474.0 458.5 L475.0 458.8 L475.9 459.0 L476.9 459.3 L477.9 459.3 L478.9 458.8 L479.9 458.1 L480.8 458.0 L481.8 458.5 L482.8 458.9 L483.8 458.9 L484.8 459.1 L485.7 459.5 L486.7 460.0 L487.7 460.4 L488.7 460.7 L489.6 460.9 L490.6 460.9 L491.6 460.9 L492.6 460.7 L493.6 460.4 L494.5 460.2 L495.5 460.5 L496.5 461.5 L497.5 462.6 L498.5 463.6 L499.4 464.2 L500.4 464.5 L501.4 464.3 L502.4 463.8 L503.3 463.3 L504.3 463.2 L505.3 463.3 L506.3 463.9 L507.3 464.8 L508.2 465.6 L509.2 466.0 L510.2 466.0 L511.2 466.2 L512.2 466.5 L513.1 466.9 L514.1 466.9 L515.1 466.9 L516.1 467.3 L517.1 468.0 L518.0 468.6 L519.0 469.2 L520.0 469.9 L521.0 470.9 L521.9 471.4 L522.9 471.3 L523.9 470.7 L524.9 470.4 L525.9 470.3 L526.8 469.9 L527.8 469.3 L528.8 469.4 L529.8 470.4 L530.8 471.4 L531.7 471.6 L532.7 471.1 L533.7 470.6 L534.7 470.2 L535.6 470.1 L536.6 470.5 L537.6 471.5 L538.6 472.6 L539.6 473.7 L540.5 474.5 L541.5 475.2 L542.5 475.8 L543.5 476.1 L544.5 476.3 L545.4 476.6 L546.4 477.2 L547.4 477.8 L548.4 477.8 L549.3 477.5 L550.3 477.4 L551.3 477.7 L552.3 478.3 L553.3 478.7 L554.2 478.6 L555.2 478.3 L556.2 478.7 L557.2 479.8 L558.2 481.3 L559.1 482.0 L560.1 482.1 L561.1 482.0 L562.1 481.8 L563.0 481.0 L564.0 480.1 L565.0 479.9 L566.0 480.0 L567.0 480.0 L567.9 479.7 L568.9 479.5 L569.9 479.3 L570.9 479.0 L571.9 478.8 L572.8 479.0 L573.8 479.7 L574.8 480.6 L575.8 481.2 L576.7 481.2 L577.7 480.7 L578.7 480.3 L579.7 480.5 L580.7 481.3 L581.6 482.3 L582.6 483.2 L583.6 483.7 L584.6 483.7 L585.6 483.3 L586.5 482.8 L587.5 482.2 L588.5 481.4 L589.5 480.6 L590.5 480.0 L591.4 480.1 L592.4 481.0 L593.4 482.1 L594.4 482.9 L595.3 482.9 L596.3 482.3 L597.3 481.8 L598.3 481.7 L599.3 482.0 L600.2 482.6 L601.2 482.9 L602.2 482.8 L603.2 482.6 L604.2 482.6 L605.1 482.6 L606.1 482.4 L607.1 482.2 L608.1 482.2 L609.0 482.4 L610.0 482.8 L611.0 483.3 L612.0 483.7 L613.0 483.7 L613.9 483.4 L614.9 482.9 L615.9 481.8 L616.9 480.4 L617.9 479.5 L618.8 479.4 L619.8 480.1 L620.8 481.0 L621.8 482.0 L622.7 482.8 L623.7 482.7 L624.7 481.8 L625.7 480.6 L626.7 480.0 L627.6 479.8 L628.6 479.8 L629.6 480.0 L630.6 479.8 L631.6 479.2 L632.5 478.4 L633.5 478.0 L634.5 477.8 L635.5 477.6 L636.4 477.2 L637.4 477.0 L638.4 477.2 L639.4 477.4 L640.4 477.6 L641.3 477.5 L642.3 477.2 L643.3 476.8 L644.3 476.6 L645.3 476.5 L646.2 476.4 L647.2 476.3 L648.2 476.1 L649.2 475.8 L650.1 475.2 L651.1 474.6 L652.1 474.2 L653.1 474.4 L654.1 475.4 L655.0 476.4 L656.0 476.7 L657.0 475.9 L658.0 474.8 L659.0 474.0 L659.9 473.6 L660.9 473.6 L661.9 473.9 L662.9 474.1 L663.9 474.2 L664.8 474.5 L665.8 474.9 L666.8 474.9 L667.8 474.5 L668.7 473.9 L669.7 473.3 L670.7 472.9 L671.7 472.6 L672.7 472.5 L673.6 472.7 L674.6 473.5 L675.6 474.5 L676.6 475.2" fill="none" stroke="#0000cc" stroke-width="1.9" stroke-linejoin="round" stroke-linecap="round" opacity="1"/>
<path d="M399.6 452.6 L400.6 452.1 L401.6 451.5 L402.5 451.4 L403.5 451.9 L404.5 452.5 L405.5 452.8 L406.5 453.0 L407.4 453.2 L408.4 453.3 L409.4 453.3 L410.4 453.5 L411.4 454.1 L412.3 454.8 L413.3 455.2 L414.3 455.2 L415.3 454.8 L416.2 454.4 L417.2 454.3 L418.2 454.3 L419.2 454.4 L420.2 454.4 L421.1 454.3 L422.1 454.0 L423.1 453.8 L424.1 453.6 L425.1 453.8 L426.0 454.3 L427.0 454.7 L428.0 454.9 L429.0 455.1 L429.9 455.3 L430.9 455.7 L431.9 456.2 L432.9 456.7 L433.9 457.2 L434.8 457.3 L435.8 457.4 L436.8 457.5 L437.8 457.7 L438.8 457.6 L439.7 457.2 L440.7 456.8 L441.7 456.7 L442.7 456.5 L443.7 456.3 L444.6 456.2 L445.6 456.4 L446.6 456.5 L447.6 456.6 L448.5 457.0 L449.5 457.6 L450.5 458.3 L451.5 458.6 L452.5 458.6 L453.4 458.3 L454.4 457.9 L455.4 457.9 L456.4 458.2 L457.4 458.3 L458.3 458.2 L459.3 458.2 L460.3 458.6 L461.3 459.6 L462.2 460.7 L463.2 461.0 L464.2 460.4 L465.2 459.6 L466.2 459.2 L467.1 459.3 L468.1 459.6 L469.1 459.7 L470.1 459.8 L471.1 460.1 L472.0 460.4 L473.0 460.7 L474.0 460.8 L475.0 460.7 L475.9 460.7 L476.9 460.8 L477.9 461.2 L478.9 461.5 L479.9 461.4 L480.8 460.9 L481.8 460.3 L482.8 460.0 L483.8 460.0 L484.8 460.2 L485.7 460.3 L486.7 460.5 L487.7 461.0 L488.7 462.0 L489.6 463.0 L490.6 463.8 L491.6 464.3 L492.6 464.6 L493.6 464.6 L494.5 464.6 L495.5 464.8 L496.5 464.8 L497.5 464.5 L498.5 463.9 L499.4 463.7 L500.4 463.9 L501.4 464.6 L502.4 465.4 L503.3 466.3 L504.3 466.8 L505.3 466.8 L506.3 466.5 L507.3 466.1 L508.2 465.8 L509.2 465.6 L510.2 465.7 L511.2 466.4 L512.2 467.7 L513.1 469.0 L514.1 469.8 L515.1 469.9 L516.1 469.4 L517.1 469.0 L518.0 468.9 L519.0 469.1 L520.0 469.5 L521.0 469.9 L521.9 469.9 L522.9 469.7 L523.9 469.5 L524.9 469.7 L525.9 470.5 L526.8 471.3 L527.8 471.9 L528.8 472.4 L529.8 472.9 L530.8 473.3 L531.7 473.5 L532.7 473.3 L533.7 473.0 L534.7 472.6 L535.6 472.8 L536.6 473.5 L537.6 474.2 L538.6 474.4 L539.6 474.3 L540.5 474.2 L541.5 474.5 L542.5 474.9 L543.5 475.5 L544.5 476.0 L545.4 476.3 L546.4 476.7 L547.4 477.2 L548.4 477.7 L549.3 478.0 L550.3 477.7 L551.3 477.7 L552.3 478.5 L553.3 479.4 L554.2 479.9 L555.2 480.3 L556.2 481.1 L557.2 482.1 L558.2 483.0 L559.1 483.4 L560.1 483.5 L561.1 483.5 L562.1 483.1 L563.0 482.7 L564.0 482.4 L565.0 482.5 L566.0 482.5 L567.0 482.2 L567.9 482.3 L568.9 483.2 L569.9 484.2 L570.9 484.3 L571.9 483.8 L572.8 483.4 L573.8 483.6 L574.8 484.3 L575.8 484.9 L576.7 485.0 L577.7 484.8 L578.7 484.6 L579.7 484.5 L580.7 484.5 L581.6 484.7 L582.6 484.7 L583.6 484.3 L584.6 483.6 L585.6 482.9 L586.5 482.7 L587.5 483.0 L588.5 483.5 L589.5 483.8 L590.5 483.8 L591.4 483.9 L592.4 484.0 L593.4 484.2 L594.4 484.0 L595.3 483.6 L596.3 483.3 L597.3 483.6 L598.3 484.3 L599.3 484.6 L600.2 484.6 L601.2 484.3 L602.2 484.0 L603.2 483.7 L604.2 483.4 L605.1 483.1 L606.1 483.0 L607.1 482.9 L608.1 482.7 L609.0 482.5 L610.0 482.5 L611.0 482.5 L612.0 482.8 L613.0 483.5 L613.9 484.3 L614.9 484.8 L615.9 485.1 L616.9 485.0 L617.9 484.8 L618.8 484.5 L619.8 483.9 L620.8 483.1 L621.8 482.4 L622.7 482.2 L623.7 482.2 L624.7 482.0 L625.7 481.1 L626.7 480.4 L627.6 480.5 L628.6 481.4 L629.6 482.2 L630.6 482.5 L631.6 482.4 L632.5 482.2 L633.5 481.8 L634.5 481.3 L635.5 480.8 L636.4 480.6 L637.4 480.2 L638.4 479.6 L639.4 479.2 L640.4 478.8 L641.3 478.5 L642.3 478.2 L643.3 477.8 L644.3 477.3 L645.3 477.1 L646.2 477.6 L647.2 478.3 L648.2 478.6 L649.2 478.3 L650.1 477.5 L651.1 476.7 L652.1 476.3 L653.1 476.2 L654.1 476.3 L655.0 476.6 L656.0 476.9 L657.0 476.8 L658.0 476.5 L659.0 476.3 L659.9 476.2 L660.9 476.0 L661.9 475.6 L662.9 475.2 L663.9 475.2 L664.8 475.5 L665.8 476.2 L666.8 477.0 L667.8 477.6 L668.7 478.2 L669.7 478.2 L670.7 477.6 L671.7 476.9 L672.7 476.6 L673.6 476.6 L674.6 476.3 L675.6 475.8 L676.6 475.3" fill="none" stroke="#0000cc" stroke-width="1.9" stroke-linejoin="round" stroke-linecap="round" opacity="1"/>
<path d="M400.6 446.3 L401.6 446.0 L402.5 445.6 L403.5 445.8 L404.5 446.7 L405.5 448.0 L406.5 449.1 L407.4 449.5 L408.4 449.7 L409.4 450.2 L410.4 450.9 L411.4 451.0 L412.3 450.7 L413.3 450.7 L414.3 451.3 L415.3 451.9 L416.2 452.0 L417.2 452.0 L418.2 452.2 L419.2 452.9 L420.2 453.7 L421.1 454.2 L422.1 454.5 L423.1 454.4 L424.1 454.2 L425.1 453.7 L426.0 453.4 L427.0 453.2 L428.0 453.0 L429.0 452.8 L429.9 452.7 L430.9 452.6 L431.9 452.4 L432.9 452.4 L433.9 452.6 L434.8 452.8 L435.8 452.6 L436.8 452.3 L437.8 452.2 L438.8 452.4 L439.7 452.5 L440.7 452.4 L441.7 452.6 L442.7 453.4 L443.7 454.2 L444.6 454.6 L445.6 454.9 L446.6 455.5 L447.6 456.2 L448.5 456.5 L449.5 456.2 L450.5 455.9 L451.5 456.1 L452.5 456.4 L453.4 456.9 L454.4 457.4 L455.4 457.8 L456.4 458.0 L457.4 458.2 L458.3 458.6 L459.3 458.7 L460.3 458.0 L461.3 457.0 L462.2 456.2 L463.2 455.9 L464.2 456.3 L465.2 456.7 L466.2 456.9 L467.1 456.9 L468.1 457.2 L469.1 457.8 L470.1 458.5 L471.1 459.0 L472.0 459.4 L473.0 459.5 L474.0 459.3 L475.0 458.8 L475.9 458.3 L476.9 458.1 L477.9 458.5 L478.9 459.2 L479.9 460.0 L480.8 460.5 L481.8 460.7 L482.8 460.6 L483.8 460.5 L484.8 460.8 L485.7 461.3 L486.7 461.7 L487.7 461.7 L488.7 461.5 L489.6 461.4 L490.6 461.4 L491.6 461.2 L492.6 461.3 L493.6 461.7 L494.5 462.3 L495.5 463.1 L496.5 463.6 L497.5 463.8 L498.5 464.3 L499.4 465.2 L500.4 465.8 L501.4 465.5 L502.4 464.4 L503.3 463.5 L504.3 463.5 L505.3 464.4 L506.3 465.7 L507.3 466.7 L508.2 466.8 L509.2 466.4 L510.2 466.1 L511.2 466.1 L512.2 466.4 L513.1 466.4 L514.1 466.1 L515.1 465.6 L516.1 465.3 L517.1 465.8 L518.0 466.7 L519.0 467.3 L520.0 467.5 L521.0 468.1 L521.9 469.0 L522.9 469.8 L523.9 470.0 L524.9 469.7 L525.9 469.5 L526.8 469.6 L527.8 469.7 L528.8 470.0 L529.8 470.7 L530.8 471.5 L531.7 472.1 L532.7 472.5 L533.7 473.4 L534.7 474.4 L535.6 474.9 L536.6 474.4 L537.6 473.8 L538.6 473.9 L539.6 474.6 L540.5 475.3 L541.5 475.5 L542.5 475.4 L543.5 475.6 L544.5 476.3 L545.4 477.3 L546.4 478.1 L547.4 478.2 L548.4 477.8 L549.3 477.4 L550.3 477.4 L551.3 477.9 L552.3 478.7 L553.3 479.6 L554.2 480.2 L555.2 480.3 L556.2 479.8 L557.2 479.2 L558.2 479.1 L559.1 479.4 L560.1 479.6 L561.1 479.5 L562.1 479.6 L563.0 479.9 L564.0 480.1 L565.0 480.1 L566.0 480.4 L567.0 481.0 L567.9 481.7 L568.9 482.2 L569.9 482.3 L570.9 482.3 L571.9 482.2 L572.8 482.2 L573.8 482.3 L574.8 482.1 L575.8 481.5 L576.7 480.9 L577.7 480.9 L578.7 481.6 L579.7 482.4 L580.7 483.0 L581.6 483.2 L582.6 483.1 L583.6 482.7 L584.6 482.1 L585.6 481.3 L586.5 480.4 L587.5 480.1 L588.5 480.6 L589.5 481.7 L590.5 482.7 L591.4 482.9 L592.4 482.3 L593.4 481.7 L594.4 481.9 L595.3 482.5 L596.3 483.1 L597.3 483.2 L598.3 483.0 L599.3 482.7 L600.2 482.6 L601.2 482.5 L602.2 482.4 L603.2 482.1 L604.2 481.8 L605.1 481.9 L606.1 482.5 L607.1 483.5 L608.1 484.5 L609.0 484.5 L610.0 483.6 L611.0 482.5 L612.0 482.0 L613.0 482.0 L613.9 482.1 L614.9 482.3 L615.9 482.7 L616.9 483.4 L617.9 484.0 L618.8 484.2 L619.8 484.0 L620.8 483.8 L621.8 483.6 L622.7 483.2 L623.7 482.6 L624.7 482.0 L625.7 481.4 L626.7 480.8 L627.6 480.3 L628.6 480.4 L629.6 480.6 L630.6 480.5 L631.6 480.2 L632.5 479.8 L633.5 479.3 L634.5 478.5 L635.5 477.7 L636.4 477.0 L637.4 477.0 L638.4 477.2 L639.4 477.4 L640.4 477.6 L641.3 477.8 L642.3 477.9 L643.3 477.7 L644.3 477.2 L645.3 476.6 L646.2 476.1 L647.2 476.0 L648.2 476.2 L649.2 476.4 L650.1 476.5 L651.1 476.7 L652.1 477.1 L653.1 477.4 L654.1 477.0 L655.0 476.0 L656.0 475.2 L657.0 475.1 L658.0 475.3 L659.0 475.6 L659.9 475.7 L660.9 475.5 L661.9 475.1 L662.9 475.0 L663.9 475.0 L664.8 475.3 L665.8 475.8 L666.8 476.1 L667.8 476.0 L668.7 475.4 L669.7 474.7 L670.7 474.4 L671.7 474.6 L672.7 474.8 L673.6 474.6 L674.6 474.6 L675.6 474.9 L676.6 475.3" fill="none" stroke="#2f6bff" stroke-width="1.5" stroke-linejoin="round" stroke-linecap="round" opacity="1"/>
<path d="M400.3 442.9 L400.3 467.9" fill="none" stroke="#2f6bff" stroke-width="1.1" stroke-linejoin="round" stroke-linecap="round"/>
<path d="M401.2 418.4 L402.2 422.9 L403.2 427.4 L404.2 431.7 L405.2 436.3 L406.1 441.9 L407.1 445.7 L408.1 446.3 L409.1 446.6 L410.1 446.6 L411.0 446.5 L412.0 446.8 L413.0 447.1 L414.0 447.1 L414.9 446.9 L415.9 447.1 L416.9 447.4 L417.9 447.4 L418.9 447.1 L419.8 447.0 L420.8 447.1 L421.8 447.1 L422.8 447.0 L423.8 447.2 L424.7 447.3 L425.7 447.2 L426.7 447.1 L427.7 447.2 L428.6 447.1 L429.6 446.7 L430.6 446.5 L431.6 445.9 L432.6 443.5 L433.5 440.2 L434.5 437.0 L435.5 434.6 L436.5 434.1 L437.5 435.2 L438.4 437.4 L439.4 439.4 L440.4 440.7 L441.4 441.9 L442.3 442.9 L443.3 443.3 L444.3 443.8 L445.3 444.7 L446.3 445.4 L447.2 445.8 L448.2 446.0 L449.2 446.2 L450.2 447.0 L451.2 448.0 L452.1 449.0 L453.1 449.9 L454.1 450.2 L455.1 449.8 L456.0 449.1 L457.0 448.0 L458.0 446.8 L459.0 446.5 L460.0 447.0 L460.9 448.4 L461.9 450.0 L462.9 451.6 L463.9 452.9 L464.9 453.8 L465.8 454.1 L466.8 452.3 L467.8 449.4 L468.8 447.0 L469.7 446.6 L470.7 447.7 L471.7 449.1 L472.7 450.2 L473.7 451.3 L474.6 452.5 L475.6 453.8 L476.6 454.8 L477.6 455.1 L478.6 455.3 L479.5 455.7 L480.5 456.4 L481.5 456.7 L482.5 457.0 L483.5 457.2 L484.4 457.2 L485.4 457.2 L486.4 457.3 L487.4 457.8 L488.3 458.5 L489.3 458.9 L490.3 458.6 L491.3 458.6 L492.3 458.9 L493.2 459.5 L494.2 460.1 L495.2 460.4 L496.2 460.5 L497.2 460.7 L498.1 460.8 L499.1 461.1 L500.1 461.8 L501.1 462.6 L502.0 462.9 L503.0 462.8 L504.0 462.8 L505.0 462.9 L506.0 463.0 L506.9 463.4 L507.9 463.7 L508.9 464.1 L509.9 464.4 L510.9 464.6 L511.8 465.0 L512.8 465.6 L513.8 466.4 L514.8 466.8 L515.7 467.1 L516.7 467.2 L517.7 467.3 L518.7 467.7 L519.7 468.3 L520.6 468.5 L521.6 468.7 L522.6 469.2 L523.6 469.9 L524.6 470.2 L525.5 470.5 L526.5 470.9 L527.5 471.2 L528.5 471.4 L529.4 471.4 L530.4 471.5 L531.4 471.9 L532.4 472.7 L533.4 473.3 L534.3 473.4 L535.3 473.5 L536.3 473.8 L537.3 474.5 L538.3 475.1 L539.2 475.6 L540.2 476.1 L541.2 476.4 L542.2 476.6 L543.1 476.8 L544.1 477.2 L545.1 477.6 L546.1 477.6 L547.1 477.7 L548.0 477.9 L549.0 478.3 L550.0 478.7 L551.0 479.1 L552.0 479.8 L552.9 480.4 L553.9 480.4 L554.9 480.7 L555.9 481.4 L556.9 481.8 L557.8 481.7 L558.8 481.9 L559.8 482.1 L560.8 482.3 L561.7 482.7 L562.7 483.2 L563.7 483.5 L564.7 483.5 L565.7 483.5 L566.6 483.5 L567.6 483.7 L568.6 484.2 L569.6 484.6 L570.6 484.9 L571.5 485.0 L572.5 485.1 L573.5 485.2 L574.5 485.3 L575.4 485.5 L576.4 486.0 L577.4 486.2 L578.4 486.2 L579.4 486.1 L580.3 485.9 L581.3 486.0 L582.3 486.2 L583.3 486.3 L584.3 486.6 L585.2 487.3 L586.2 487.5 L587.2 487.0 L588.2 486.7 L589.1 486.8 L590.1 487.1 L591.1 487.3 L592.1 487.3 L593.1 487.2 L594.0 487.2 L595.0 487.4 L596.0 487.6 L597.0 487.7 L598.0 487.8 L598.9 487.5 L599.9 487.2 L600.9 487.0 L601.9 486.8 L602.8 486.8 L603.8 486.9 L604.8 486.8 L605.8 486.6 L606.8 486.5 L607.7 486.7 L608.7 486.8 L609.7 486.8 L610.7 486.5 L611.7 486.1 L612.6 485.7 L613.6 485.0 L614.6 484.5 L615.6 484.4 L616.5 484.5 L617.5 484.7 L618.5 485.0 L619.5 484.8 L620.5 484.3 L621.4 484.0 L622.4 483.5 L623.4 482.8 L624.4 482.4 L625.4 482.4 L626.3 482.3 L627.3 482.3 L628.3 482.2 L629.3 481.8 L630.3 481.8 L631.2 481.9 L632.2 481.5 L633.2 481.3 L634.2 481.4 L635.1 481.2 L636.1 480.9 L637.1 480.7 L638.1 480.3 L639.1 479.5 L640.0 479.1 L641.0 479.3 L642.0 479.5 L643.0 479.5 L644.0 479.4 L644.9 478.8 L645.9 478.2 L646.9 477.8 L647.9 477.6 L648.8 477.8 L649.8 477.8 L650.8 477.8 L651.8 477.8 L652.8 477.7 L653.7 477.7 L654.7 477.7 L655.7 477.6 L656.7 477.5 L657.7 477.3 L658.6 477.2 L659.6 477.3 L660.6 477.3 L661.6 477.1 L662.5 477.0 L663.5 477.4 L664.5 477.9 L665.5 478.0 L666.5 477.7 L667.4 477.5 L668.4 477.1 L669.4 476.7 L670.4 476.6 L671.4 476.9 L672.3 477.0 L673.3 476.9 L674.3 476.8 L675.3 476.7 L676.2 476.6" fill="none" stroke="#ff1010" stroke-width="2.1" stroke-linejoin="round" stroke-linecap="round" opacity="1"/>
<path d="M400.9 450.0 L401.9 450.4 L402.9 450.7 L403.9 450.6 L404.8 450.6 L405.8 451.1 L406.8 451.8 L407.8 451.8 L408.7 451.5 L409.7 451.6 L410.7 451.9 L411.7 451.9 L412.7 452.0 L413.6 452.4 L414.6 452.9 L415.6 453.1 L416.6 453.0 L417.6 453.0 L418.5 453.2 L419.5 453.6 L420.5 453.8 L421.5 453.9 L422.4 454.0 L423.4 454.1 L424.4 454.4 L425.4 454.7 L426.4 455.0 L427.3 455.1 L428.3 455.1 L429.3 455.0 L430.3 455.2 L431.3 455.6 L432.2 455.9 L433.2 456.3 L434.2 456.4 L435.2 456.3 L436.1 456.4 L437.1 456.7 L438.1 457.1 L439.1 457.3 L440.1 457.5 L441.0 457.7 L442.0 457.7 L443.0 457.7 L444.0 457.8 L445.0 457.8 L445.9 458.1 L446.9 458.3 L447.9 458.5 L448.9 458.8 L449.8 459.3 L450.8 459.7 L451.8 459.7 L452.8 459.6 L453.8 459.9 L454.7 460.3 L455.7 460.5 L456.7 460.8 L457.7 461.0 L458.7 461.1 L459.6 460.9 L460.6 460.8 L461.6 460.8 L462.6 461.1 L463.6 461.6 L464.5 461.9 L465.5 462.0 L466.5 462.2 L467.5 462.5 L468.4 462.8 L469.4 462.9 L470.4 463.1 L471.4 463.4 L472.4 463.7 L473.3 464.0 L474.3 464.4 L475.3 464.7 L476.3 465.0 L477.3 465.0 L478.2 464.9 L479.2 465.1 L480.2 465.7 L481.2 466.1 L482.1 466.0 L483.1 466.0 L484.1 466.3 L485.1 466.7 L486.1 466.8 L487.0 467.0 L488.0 467.1 L489.0 467.3 L490.0 467.6 L491.0 467.9 L491.9 468.0 L492.9 468.4 L493.9 468.7 L494.9 468.9 L495.8 469.0 L496.8 469.2 L497.8 469.7 L498.8 470.1 L499.8 470.3 L500.7 470.4 L501.7 470.4 L502.7 470.8 L503.7 471.1 L504.7 471.4 L505.6 471.6 L506.6 472.0 L507.6 472.5 L508.6 472.6 L509.5 472.6 L510.5 472.9 L511.5 473.4 L512.5 473.6 L513.5 473.6 L514.4 473.9 L515.4 474.4 L516.4 474.8 L517.4 475.3 L518.4 475.7 L519.3 475.9 L520.3 476.1 L521.3 476.4 L522.3 476.7 L523.2 477.1 L524.2 477.5 L525.2 477.7 L526.2 477.7 L527.2 477.9 L528.1 478.6 L529.1 479.1 L530.1 479.1 L531.1 479.3 L532.1 479.8 L533.0 480.1 L534.0 480.2 L535.0 480.6 L536.0 481.0 L537.0 481.3 L537.9 481.6 L538.9 481.8 L539.9 482.4 L540.9 483.1 L541.8 483.5 L542.8 483.7 L543.8 484.1 L544.8 484.6 L545.8 485.0 L546.7 485.4 L547.7 485.7 L548.7 485.8 L549.7 486.0 L550.7 486.2 L551.6 486.7 L552.6 487.2 L553.6 487.5 L554.6 488.0 L555.5 488.4 L556.5 488.8 L557.5 489.1 L558.5 489.3 L559.5 489.6 L560.4 490.0 L561.4 490.3 L562.4 490.4 L563.4 490.7 L564.4 491.0 L565.3 491.3 L566.3 491.6 L567.3 491.6 L568.3 491.5 L569.2 491.7 L570.2 491.9 L571.2 492.3 L572.2 492.7 L573.2 492.9 L574.1 493.0 L575.1 493.1 L576.1 493.3 L577.1 493.5 L578.1 493.5 L579.0 493.7 L580.0 494.0 L581.0 494.2 L582.0 494.4 L582.9 494.8 L583.9 494.9 L584.9 494.9 L585.9 495.3 L586.9 495.5 L587.8 495.6 L588.8 495.6 L589.8 495.5 L590.8 495.4 L591.8 495.3 L592.7 495.3 L593.7 495.4 L594.7 495.5 L595.7 495.4 L596.6 495.2 L597.6 495.1 L598.6 495.0 L599.6 494.9 L600.6 495.0 L601.5 495.1 L602.5 495.0 L603.5 494.6 L604.5 494.2 L605.5 494.1 L606.4 494.1 L607.4 494.0 L608.4 494.0 L609.4 493.6 L610.4 493.0 L611.3 492.7 L612.3 492.5 L613.3 492.1 L614.3 491.8 L615.2 491.7 L616.2 491.4 L617.2 491.1 L618.2 490.8 L619.2 490.6 L620.1 490.0 L621.1 489.4 L622.1 489.1 L623.1 489.1 L624.1 489.1 L625.0 488.7 L626.0 488.3 L627.0 487.6 L628.0 486.9 L628.9 486.5 L629.9 486.2 L630.9 485.8 L631.9 485.6 L632.9 485.3 L633.8 484.6 L634.8 483.9 L635.8 483.6 L636.8 483.3 L637.8 482.8 L638.7 482.5 L639.7 482.5 L640.7 482.5 L641.7 482.1 L642.6 481.4 L643.6 481.2 L644.6 481.1 L645.6 480.7 L646.6 480.7 L647.5 480.8 L648.5 480.7 L649.5 480.5 L650.5 480.4 L651.5 480.2 L652.4 480.0 L653.4 479.6 L654.4 479.3 L655.4 479.1 L656.3 478.8 L657.3 478.6 L658.3 478.5 L659.3 478.5 L660.3 478.5 L661.2 478.4 L662.2 478.1 L663.2 478.0 L664.2 477.7 L665.2 477.4 L666.1 477.2 L667.1 476.9 L668.1 476.9 L669.1 476.9 L670.0 476.7 L671.0 476.6 L672.0 476.7 L673.0 476.8 L674.0 476.9 L674.9 476.8 L675.9 476.9 L676.9 477.0" fill="none" stroke="#ff1010" stroke-width="2.1" stroke-linejoin="round" stroke-linecap="round" opacity="1"/>
<path d="M398.3 449.0 L399.3 446.0 L400.3 443.8 L401.2 442.5 L402.2 442.0 L403.2 442.7 L404.2 444.0 L405.2 445.5 L406.1 446.2 L407.1 446.2 L408.1 446.1 L409.1 446.2 L410.1 446.6 L411.0 447.1 L412.0 447.6 L413.0 447.9 L414.0 447.9 L414.9 447.9 L415.9 447.9 L416.9 447.9 L417.9 447.8 L418.9 447.8 L419.8 448.1 L420.8 448.6 L421.8 449.0 L422.8 449.2 L423.8 448.9 L424.7 448.2 L425.7 447.7 L426.7 447.7 L427.7 448.3 L428.6 448.8 L429.6 448.7 L430.6 448.3 L431.6 447.8 L432.6 447.6 L433.5 447.6 L434.5 448.0 L435.5 448.9 L436.5 450.1 L437.5 450.5 L438.4 450.2 L439.4 449.6 L440.4 449.6 L441.4 450.1 L442.3 450.8 L443.3 451.0 L444.3 450.7 L445.3 450.3 L446.3 450.3 L447.2 450.7 L448.2 451.3 L449.2 451.8 L450.2 452.3 L451.2 452.7 L452.1 453.1 L453.1 453.4 L454.1 453.8 L455.1 454.2 L456.0 454.5 L457.0 454.6 L458.0 454.8 L459.0 455.0 L460.0 455.1 L460.9 455.2 L461.9 455.1 L462.9 454.8 L463.9 454.5 L464.9 454.2 L465.8 454.1 L466.8 454.6 L467.8 455.9 L468.8 457.2 L469.7 457.6 L470.7 457.0 L471.7 456.1 L472.7 455.9 L473.7 456.4 L474.6 457.3 L475.6 457.9 L476.6 458.3 L477.6 458.5 L478.6 458.4 L479.5 458.2 L480.5 458.1 L481.5 458.3 L482.5 458.6 L483.5 459.1 L484.4 460.0 L485.4 460.8 L486.4 461.2 L487.4 461.0 L488.3 460.5 L489.3 460.2 L490.3 460.3 L491.3 460.4 L492.3 460.7 L493.2 461.4 L494.2 462.3 L495.2 462.9 L496.2 463.0 L497.2 463.1 L498.1 463.5 L499.1 464.1 L500.1 464.6 L501.1 464.5 L502.0 463.8 L503.0 463.2 L504.0 463.4 L505.0 464.0 L506.0 464.8 L506.9 465.5 L507.9 466.0 L508.9 466.3 L509.9 466.4 L510.9 466.3 L511.8 466.5 L512.8 467.0 L513.8 467.4 L514.8 467.7 L515.7 468.1 L516.7 468.5 L517.7 468.9 L518.7 469.4 L519.7 469.6 L520.6 469.0 L521.6 468.0 L522.6 467.5 L523.6 467.9 L524.6 469.0 L525.5 470.0 L526.5 470.7 L527.5 471.2 L528.5 471.5 L529.4 471.9 L530.4 472.7 L531.4 473.3 L532.4 473.5 L533.4 473.2 L534.3 472.8 L535.3 472.6 L536.3 472.7 L537.3 473.2 L538.3 473.6 L539.2 473.8 L540.2 473.7 L541.2 473.9 L542.2 474.2 L543.1 474.9 L544.1 475.8 L545.1 476.6 L546.1 477.1 L547.1 477.6 L548.0 477.8 L549.0 478.1 L550.0 478.6 L551.0 479.3 L552.0 480.1 L552.9 480.7 L553.9 481.0 L554.9 481.0 L555.9 480.7 L556.9 480.4 L557.8 480.2 L558.8 480.3 L559.8 480.9 L560.8 481.8 L561.7 482.8 L562.7 483.8 L563.7 484.6 L564.7 485.0 L565.7 485.0 L566.6 485.0 L567.6 485.2 L568.6 485.8 L569.6 486.5 L570.6 486.7 L571.5 486.4 L572.5 486.0 L573.5 485.6 L574.5 485.5 L575.4 485.9 L576.4 486.4 L577.4 486.9 L578.4 487.4 L579.4 487.8 L580.3 488.0 L581.3 488.0 L582.3 488.2 L583.3 488.5 L584.3 488.5 L585.2 488.5 L586.2 488.3 L587.2 487.9 L588.2 487.2 L589.1 487.0 L590.1 487.3 L591.1 487.7 L592.1 487.8 L593.1 487.7 L594.0 487.9 L595.0 488.3 L596.0 488.9 L597.0 489.2 L598.0 489.2 L598.9 488.9 L599.9 488.5 L600.9 488.2 L601.9 488.2 L602.8 488.1 L603.8 487.9 L604.8 487.5 L605.8 487.4 L606.8 487.6 L607.7 487.8 L608.7 487.8 L609.7 487.8 L610.7 488.0 L611.7 488.1 L612.6 487.9 L613.6 487.5 L614.6 487.0 L615.6 486.5 L616.5 486.4 L617.5 486.8 L618.5 487.2 L619.5 487.1 L620.5 486.7 L621.4 486.1 L622.4 485.7 L623.4 485.4 L624.4 485.5 L625.4 485.9 L626.3 486.4 L627.3 486.5 L628.3 486.3 L629.3 486.0 L630.3 485.7 L631.2 485.2 L632.2 484.7 L633.2 484.3 L634.2 484.0 L635.1 483.6 L636.1 483.6 L637.1 483.8 L638.1 484.1 L639.1 484.3 L640.0 484.2 L641.0 484.2 L642.0 484.2 L643.0 483.9 L644.0 483.3 L644.9 482.6 L645.9 482.2 L646.9 482.3 L647.9 482.5 L648.8 482.8 L649.8 482.9 L650.8 483.1 L651.8 483.4 L652.8 483.5 L653.7 483.1 L654.7 482.7 L655.7 482.4 L656.7 482.3 L657.7 482.1 L658.6 481.8 L659.6 481.5 L660.6 481.4 L661.6 481.5 L662.5 481.9 L663.5 482.1 L664.5 482.0 L665.5 481.7 L666.5 481.5 L667.4 481.6 L668.4 481.8 L669.4 482.1 L670.4 482.3 L671.4 482.2 L672.3 482.0 L673.3 481.7 L674.3 481.2 L675.3 480.6 L676.2 480.2" fill="none" stroke="#9a9a9a" stroke-width="2.3" stroke-linejoin="round" stroke-linecap="round" opacity="1"/>
<path d="M398.3 449.6 L399.3 447.1 L400.3 445.4 L401.2 444.7 L402.2 444.9 L403.2 445.8 L404.2 447.2 L405.2 449.0 L406.1 450.3 L407.1 450.5 L408.1 450.0 L409.1 449.3 L410.1 448.9 L411.0 449.0 L412.0 449.3 L413.0 449.6 L414.0 449.9 L414.9 450.2 L415.9 450.5 L416.9 450.5 L417.9 450.3 L418.9 450.4 L419.8 450.7 L420.8 451.1 L421.8 451.1 L422.8 450.8 L423.8 450.3 L424.7 450.0 L425.7 449.9 L426.7 449.7 L427.7 449.4 L428.6 449.6 L429.6 450.3 L430.6 451.1 L431.6 451.8 L432.6 452.2 L433.5 452.4 L434.5 452.0 L435.5 451.2 L436.5 450.8 L437.5 451.3 L438.4 452.2 L439.4 452.7 L440.4 452.8 L441.4 452.6 L442.3 452.4 L443.3 452.3 L444.3 452.7 L445.3 453.2 L446.3 453.3 L447.2 453.3 L448.2 453.7 L449.2 454.4 L450.2 455.0 L451.2 454.9 L452.1 454.8 L453.1 455.1 L454.1 455.5 L455.1 455.7 L456.0 455.8 L457.0 456.0 L458.0 456.5 L459.0 457.1 L460.0 457.7 L460.9 458.4 L461.9 459.0 L462.9 459.1 L463.9 458.8 L464.9 458.0 L465.8 457.5 L466.8 457.4 L467.8 457.6 L468.8 458.0 L469.7 458.4 L470.7 458.7 L471.7 459.2 L472.7 459.8 L473.7 460.2 L474.6 460.2 L475.6 460.2 L476.6 460.5 L477.6 461.1 L478.6 461.3 L479.5 461.0 L480.5 460.7 L481.5 460.6 L482.5 460.7 L483.5 461.0 L484.4 461.4 L485.4 461.6 L486.4 461.8 L487.4 462.1 L488.3 462.7 L489.3 463.4 L490.3 464.0 L491.3 464.3 L492.3 464.4 L493.2 464.4 L494.2 464.5 L495.2 464.9 L496.2 465.5 L497.2 466.0 L498.1 466.3 L499.1 466.4 L500.1 466.4 L501.1 466.4 L502.0 466.2 L503.0 466.1 L504.0 466.3 L505.0 467.0 L506.0 467.7 L506.9 467.9 L507.9 467.6 L508.9 467.4 L509.9 467.4 L510.9 467.8 L511.8 468.5 L512.8 469.4 L513.8 470.5 L514.8 471.5 L515.7 471.8 L516.7 471.5 L517.7 471.1 L518.7 470.8 L519.7 470.7 L520.6 470.6 L521.6 470.9 L522.6 471.6 L523.6 472.6 L524.6 473.5 L525.5 473.9 L526.5 473.7 L527.5 473.3 L528.5 472.9 L529.4 472.8 L530.4 473.0 L531.4 473.5 L532.4 474.0 L533.4 474.5 L534.3 474.9 L535.3 475.4 L536.3 476.0 L537.3 476.6 L538.3 476.5 L539.2 475.9 L540.2 475.7 L541.2 476.5 L542.2 477.9 L543.1 479.0 L544.1 479.3 L545.1 479.4 L546.1 479.5 L547.1 479.6 L548.0 479.8 L549.0 480.1 L550.0 480.5 L551.0 481.3 L552.0 482.0 L552.9 482.6 L553.9 483.1 L554.9 483.7 L555.9 484.2 L556.9 484.4 L557.8 484.0 L558.8 483.3 L559.8 483.0 L560.8 483.7 L561.7 485.2 L562.7 486.5 L563.7 487.1 L564.7 487.1 L565.7 486.9 L566.6 486.9 L567.6 487.2 L568.6 487.8 L569.6 488.3 L570.6 488.4 L571.5 488.2 L572.5 488.1 L573.5 488.4 L574.5 489.0 L575.4 489.6 L576.4 489.9 L577.4 489.9 L578.4 489.6 L579.4 489.5 L580.3 489.7 L581.3 490.0 L582.3 490.2 L583.3 490.5 L584.3 490.6 L585.2 490.4 L586.2 490.0 L587.2 489.7 L588.2 489.9 L589.1 490.3 L590.1 490.6 L591.1 490.6 L592.1 490.5 L593.1 490.4 L594.0 490.5 L595.0 490.9 L596.0 491.3 L597.0 491.4 L598.0 491.2 L598.9 490.9 L599.9 490.5 L600.9 490.2 L601.9 490.2 L602.8 490.2 L603.8 490.3 L604.8 490.4 L605.8 490.4 L606.8 490.4 L607.7 490.6 L608.7 490.7 L609.7 490.5 L610.7 490.0 L611.7 489.7 L612.6 489.6 L613.6 489.6 L614.6 489.7 L615.6 489.8 L616.5 489.9 L617.5 489.8 L618.5 489.4 L619.5 489.0 L620.5 488.9 L621.4 488.8 L622.4 488.8 L623.4 488.6 L624.4 488.6 L625.4 488.7 L626.3 488.7 L627.3 488.2 L628.3 487.6 L629.3 487.2 L630.3 487.4 L631.2 487.4 L632.2 486.9 L633.2 486.1 L634.2 485.6 L635.1 485.9 L636.1 486.6 L637.1 487.2 L638.1 487.5 L639.1 487.2 L640.0 486.9 L641.0 486.9 L642.0 487.0 L643.0 486.9 L644.0 486.3 L644.9 485.2 L645.9 484.1 L646.9 483.6 L647.9 483.8 L648.8 484.3 L649.8 484.9 L650.8 485.4 L651.8 485.4 L652.8 484.9 L653.7 484.2 L654.7 483.9 L655.7 484.1 L656.7 484.7 L657.7 485.4 L658.6 485.9 L659.6 485.9 L660.6 485.6 L661.6 485.3 L662.5 485.2 L663.5 485.4 L664.5 485.4 L665.5 484.9 L666.5 484.2 L667.4 483.4 L668.4 482.8 L669.4 482.7 L670.4 483.2 L671.4 483.7 L672.3 483.8 L673.3 483.8 L674.3 483.9 L675.3 483.8 L676.2 483.6" fill="none" stroke="#9a9a9a" stroke-width="2.3" stroke-linejoin="round" stroke-linecap="round" opacity="1"/>
<path d="M383.30 541.40 L383.30 299.20 L676.90 299.20 L676.90 541.40 Z" fill="none" stroke="#3c3c3c" stroke-width="1.3"/>
<rect x="403.30" y="310.40" width="132.90" height="39.40" fill="#fff" stroke="#555" stroke-width="0.9"/>
<line x1="406.40" y1="315.80" x2="420.30" y2="315.80" stroke="#0000cc" stroke-width="2.1"/>
<circle cx="413.35" cy="315.80" r="1.0" fill="#0000cc"/>
<text x="421.40" y="319.10" font-size="8.4" fill="#111" textLength="31.00" lengthAdjust="spacingAndGlyphs">DG3TH</text>
<text x="457.10" y="319.10" font-size="8.4" fill="#111" textLength="76.40" lengthAdjust="spacingAndGlyphs">(0.1ch E-L, 12 Apr)</text>
<line x1="406.40" y1="325.10" x2="420.30" y2="325.10" stroke="#2f6bff" stroke-width="1.1"/>
<circle cx="413.35" cy="325.10" r="1.0" fill="#2f6bff"/>
<text x="421.40" y="328.40" font-size="8.4" fill="#111" textLength="31.00" lengthAdjust="spacingAndGlyphs">DG3TH</text>
<text x="457.10" y="328.40" font-size="8.4" fill="#111" textLength="76.40" lengthAdjust="spacingAndGlyphs">(1.0ch E-L, 12 Apr)</text>
<line x1="406.40" y1="334.50" x2="420.30" y2="334.50" stroke="#ff1010" stroke-width="1.1"/>
<circle cx="413.35" cy="334.50" r="1.0" fill="#ff1010"/>
<text x="421.40" y="337.80" font-size="8.4" fill="#111" textLength="27.00" lengthAdjust="spacingAndGlyphs">OEMV</text>
<text x="455.70" y="337.80" font-size="8.4" fill="#111" textLength="75.30" lengthAdjust="spacingAndGlyphs">(1.0ch E-L, 16 Apr)</text>
<line x1="406.40" y1="343.80" x2="420.30" y2="343.80" stroke="#9a9a9a" stroke-width="1.0"/>
<circle cx="413.35" cy="343.80" r="1.0" fill="#9a9a9a"/>
<text x="421.40" y="347.10" font-size="8.4" fill="#111" textLength="33.70" lengthAdjust="spacingAndGlyphs">PolaRx2</text>
<text x="458.20" y="347.10" font-size="8.4" fill="#111" textLength="75.50" lengthAdjust="spacingAndGlyphs">(2/3ch E-L, 12 Apr)</text>
</svg>
</body></html>
